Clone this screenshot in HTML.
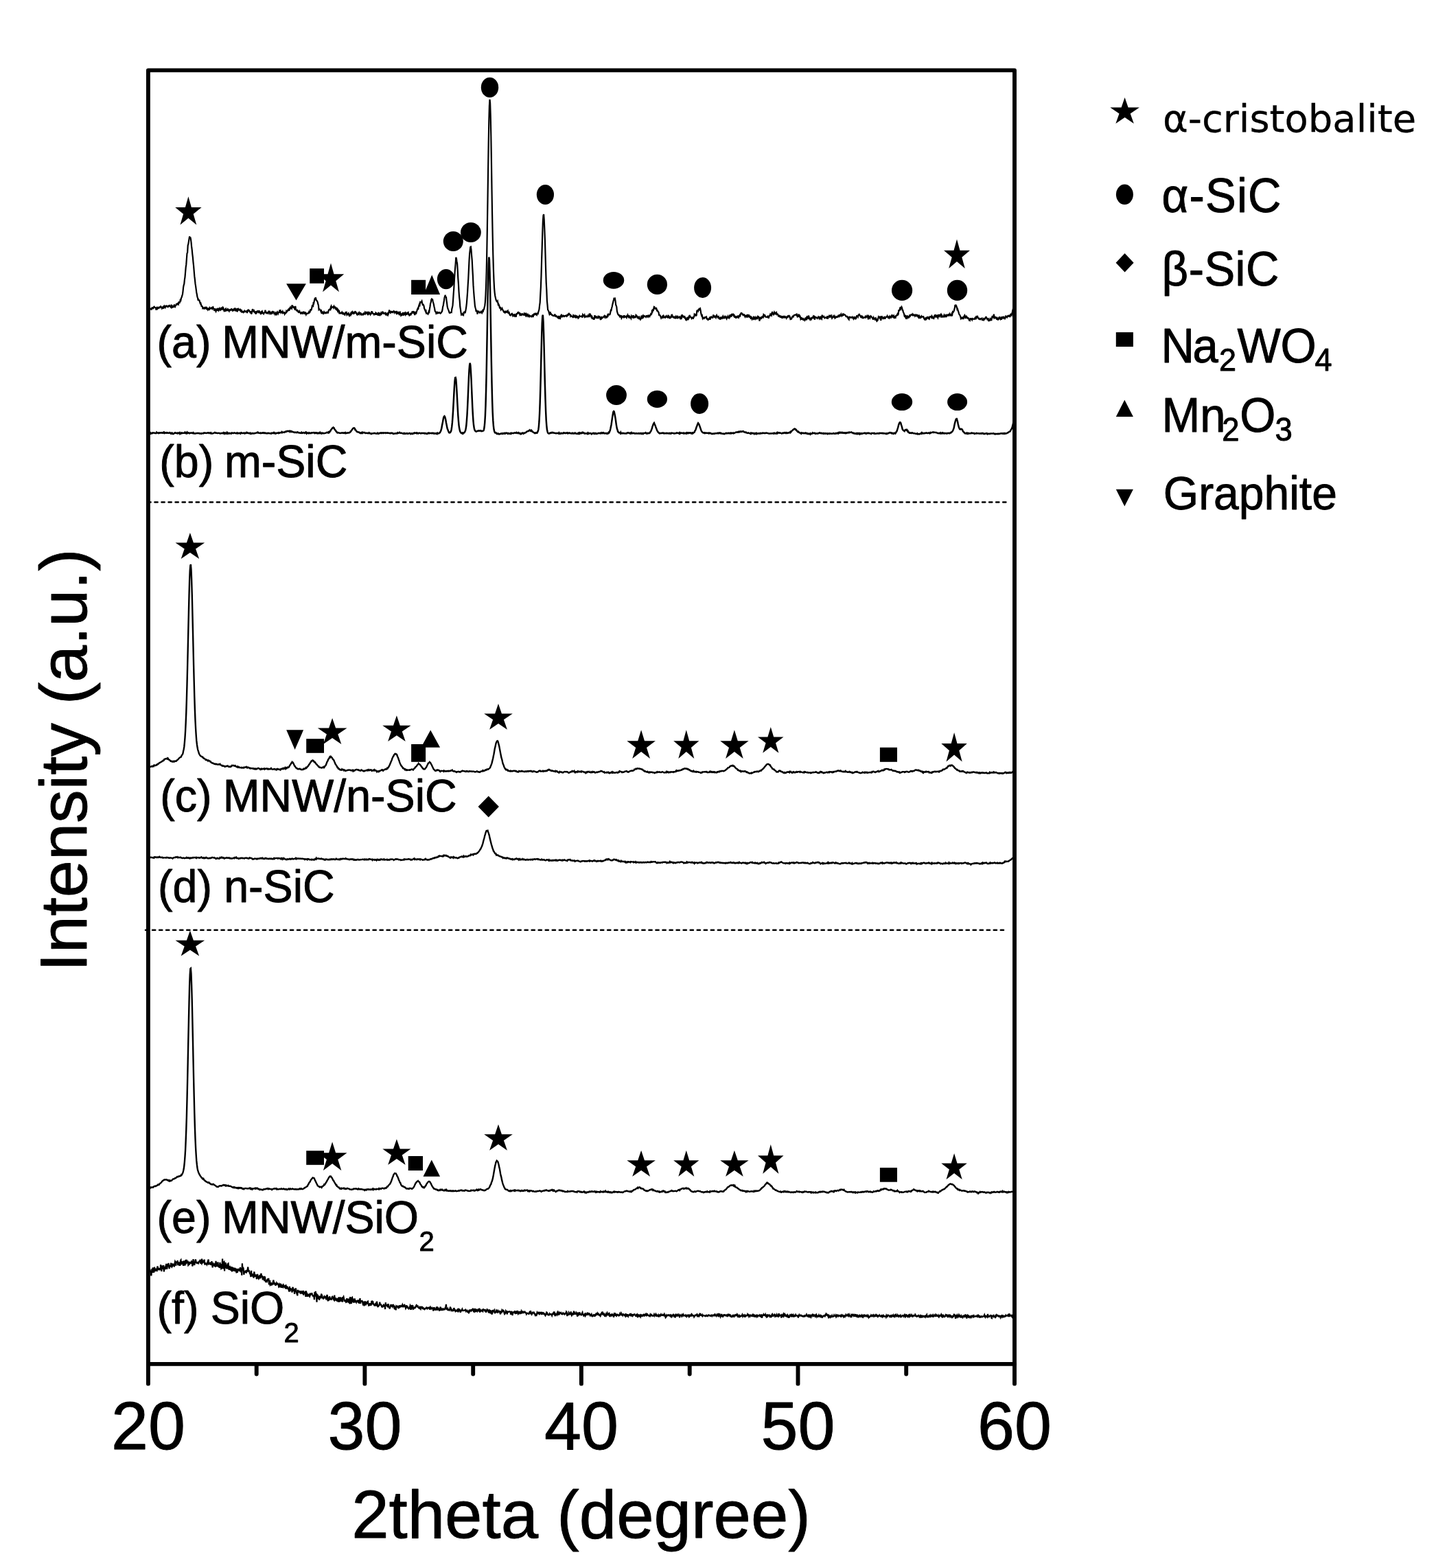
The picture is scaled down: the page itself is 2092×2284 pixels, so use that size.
<!DOCTYPE html>
<html lang="en">
<head>
<meta charset="utf-8">
<title>XRD patterns</title>
<style>
html,body{margin:0;padding:0;background:#fff;}
body{width:2092px;height:2284px;overflow:hidden;font-family:"Liberation Sans",sans-serif;}
svg{display:block;}
</style>
</head>
<body>
<svg width="2092" height="2284" viewBox="0 0 2092 2284" role="img" aria-label="XRD patterns">
<rect x="0" y="0" width="2092" height="2284" fill="#fff"/>
<line x1="215.40" y1="731.5" x2="1465.80" y2="731.5" stroke="#000" stroke-width="2.6" stroke-dasharray="4.17 5.877" stroke-linecap="round"/>
<line x1="212.00" y1="1354.7" x2="1462.00" y2="1354.7" stroke="#000" stroke-width="2.6" stroke-dasharray="4.17 5.877" stroke-linecap="round"/>
<g fill="none" stroke="#000" stroke-linejoin="miter" stroke-miterlimit="3" stroke-linecap="butt">
<path d="M216.1,447.2 216.7,449.2 217.3,449.6 217.9,447.6 218.5,450.2 219.1,448.9 219.7,451.3 220.3,449.5 220.9,451.2 221.5,448.2 222.1,448.1 222.7,448.5 223.3,449.1 223.9,448.3 224.5,445.9 225.1,447.8 225.7,448.0 226.3,448.0 226.9,448.3 227.5,451.6 228.1,448.9 228.7,448.1 229.3,449.6 229.9,448.6 230.5,448.0 231.1,448.7 231.7,447.9 232.3,447.5 232.9,448.1 233.5,447.3 234.1,446.4 234.7,447.2 235.3,447.6 235.9,449.1 236.5,448.0 237.1,447.4 237.7,449.8 238.3,447.7 238.9,446.4 239.5,448.7 240.1,446.8 240.7,447.9 241.3,446.4 241.9,445.6 242.5,445.5 243.1,446.5 243.7,446.8 244.3,446.1 244.9,446.7 245.5,445.0 246.1,446.7 246.7,444.2 247.3,445.9 247.9,446.6 248.5,446.9 249.1,447.6 249.7,443.7 250.3,446.9 250.9,447.8 251.5,447.5 252.1,444.9 252.7,446.3 253.3,447.9 253.9,443.5 254.5,445.9 255.1,446.6 255.7,444.2 256.3,445.6 256.9,443.0 257.5,442.9 258.1,442.4 258.7,443.2 259.3,442.4 259.9,443.2 260.5,440.2 261.1,440.4 261.7,440.8 262.3,439.2 262.9,435.7 263.5,436.8 264.1,433.9 264.7,433.1 265.3,430.7 265.9,429.1 266.5,424.6 267.1,418.6 267.7,415.3 268.3,413.5 268.9,407.3 269.5,403.6 270.1,396.6 270.7,389.3 271.3,385.4 271.9,376.8 272.5,369.0 273.1,368.1 273.7,357.5 274.3,355.7 274.9,352.0 275.5,348.2 276.1,344.3 276.7,347.5 277.3,345.5 277.9,348.1 278.5,352.9 279.1,358.9 279.7,363.6 280.3,370.1 280.9,374.9 281.5,381.8 282.1,387.3 282.7,394.9 283.3,402.2 283.9,406.9 284.5,413.2 285.1,416.9 285.7,421.3 286.3,426.0 286.9,429.0 287.5,432.7 288.1,434.2 288.7,437.7 289.3,436.5 289.9,437.6 290.5,437.6 291.1,440.0 291.7,441.9 292.3,441.4 292.9,443.5 293.5,445.8 294.1,445.8 294.7,446.3 295.3,448.8 295.9,448.1 296.5,448.7 297.1,449.7 297.7,449.7 298.3,447.9 298.9,447.9 299.5,449.1 300.1,448.8 300.7,446.8 301.3,451.0 301.9,449.6 302.5,450.8 303.1,448.7 303.7,452.0 304.3,449.8 304.9,450.4 305.5,448.5 306.1,449.6 306.7,449.0 307.3,448.6 307.9,449.1 308.5,448.4 309.1,449.5 309.7,447.7 310.3,447.3 310.9,448.9 311.5,450.4 312.1,451.9 312.7,452.0 313.3,449.3 313.9,452.2 314.5,453.5 315.1,451.6 315.7,450.6 316.3,451.4 316.9,450.2 317.5,451.4 318.1,450.5 318.7,452.1 319.3,451.0 319.9,449.5 320.5,451.2 321.1,451.7 321.7,449.8 322.3,450.0 322.9,447.6 323.5,451.5 324.1,449.6 324.7,447.8 325.3,448.6 325.9,450.9 326.5,452.6 327.1,451.8 327.7,452.5 328.3,450.2 328.9,449.6 329.5,452.2 330.1,451.7 330.7,451.2 331.3,452.9 331.9,450.2 332.5,450.7 333.1,452.2 333.7,453.1 334.3,450.7 334.9,452.9 335.5,450.2 336.1,451.6 336.7,451.1 337.3,449.3 337.9,451.6 338.5,452.4 339.1,451.0 339.7,451.2 340.3,453.1 340.9,449.9 341.5,449.6 342.1,450.8 342.7,450.1 343.3,453.3 343.9,451.9 344.5,450.3 345.1,450.3 345.7,454.3 346.3,449.8 346.9,449.6 347.5,451.0 348.1,451.7 348.7,451.5 349.3,450.5 349.9,450.5 350.5,453.0 351.1,452.5 351.7,450.8 352.3,454.7 352.9,454.7 353.5,453.8 354.1,454.1 354.7,454.9 355.3,453.8 355.9,453.0 356.5,455.0 357.1,452.7 357.7,454.8 358.3,452.4 358.9,453.9 359.5,453.7 360.1,456.0 360.7,452.3 361.3,451.7 361.9,452.5 362.5,451.8 363.1,452.4 363.7,453.8 364.3,454.5 364.9,456.0 365.5,453.2 366.1,457.4 366.7,456.2 367.3,453.1 367.9,450.1 368.5,452.8 369.1,453.3 369.7,450.9 370.3,454.5 370.9,454.8 371.5,454.4 372.1,456.4 372.7,456.7 373.3,454.6 373.9,455.2 374.5,453.7 375.1,453.2 375.7,454.1 376.3,454.8 376.9,453.8 377.5,452.2 378.1,456.2 378.7,453.7 379.3,456.0 379.9,458.0 380.5,455.5 381.1,453.8 381.7,453.3 382.3,456.7 382.9,455.4 383.5,456.5 384.1,457.2 384.7,455.9 385.3,455.5 385.9,454.5 386.5,451.8 387.1,453.8 387.7,455.8 388.3,455.6 388.9,456.2 389.5,455.3 390.1,455.5 390.7,456.2 391.3,454.0 391.9,454.6 392.5,452.8 393.1,456.0 393.7,454.9 394.3,455.7 394.9,457.1 395.5,456.5 396.1,454.9 396.7,455.7 397.3,452.9 397.9,455.3 398.5,455.4 399.1,453.7 399.7,458.0 400.3,455.8 400.9,457.7 401.5,456.3 402.1,458.0 402.7,458.3 403.3,455.5 403.9,454.5 404.5,456.1 405.1,457.1 405.7,455.4 406.3,454.7 406.9,455.7 407.5,451.3 408.1,453.8 408.7,452.9 409.3,455.2 409.9,454.2 410.5,454.0 411.1,455.1 411.7,453.8 412.3,455.7 412.9,455.0 413.5,455.5 414.1,455.3 414.7,457.3 415.3,455.9 415.9,456.3 416.5,455.7 417.1,453.4 417.7,454.4 418.3,453.4 418.9,452.8 419.5,451.3 420.1,450.7 420.7,451.6 421.3,452.6 421.9,448.1 422.5,449.2 423.1,447.7 423.7,448.9 424.3,448.4 424.9,449.2 425.5,444.3 426.1,447.0 426.7,446.5 427.3,447.7 427.9,447.1 428.5,447.5 429.1,449.4 429.7,451.3 430.3,445.9 430.9,449.9 431.5,451.7 432.1,452.3 432.7,452.7 433.3,451.9 433.9,452.6 434.5,454.6 435.1,455.0 435.7,454.0 436.3,453.2 436.9,455.0 437.5,455.2 438.1,456.7 438.7,456.4 439.3,455.4 439.9,456.2 440.5,454.2 441.1,456.4 441.7,456.6 442.3,453.6 442.9,455.7 443.5,454.1 444.1,457.0 444.7,457.2 445.3,456.2 445.9,458.1 446.5,456.6 447.1,456.5 447.7,456.6 448.3,456.8 448.9,456.1 449.5,456.1 450.1,454.4 450.7,455.4 451.3,455.0 451.9,452.3 452.5,450.2 453.1,451.8 453.7,451.1 454.3,448.2 454.9,445.5 455.5,446.0 456.1,446.1 456.7,440.1 457.3,441.1 457.9,438.1 458.5,435.7 459.1,436.0 459.7,433.1 460.3,435.2 460.9,437.5 461.5,437.8 462.1,438.7 462.7,440.0 463.3,443.0 463.9,444.6 464.5,450.9 465.1,450.2 465.7,450.5 466.3,451.1 466.9,452.2 467.5,453.7 468.1,452.9 468.7,457.0 469.3,454.2 469.9,454.3 470.5,455.7 471.1,457.1 471.7,456.8 472.3,454.5 472.9,455.4 473.5,455.4 474.1,456.2 474.7,456.3 475.3,455.0 475.9,454.7 476.5,456.3 477.1,454.1 477.7,456.6 478.3,454.0 478.9,451.7 479.5,451.7 480.1,450.6 480.7,450.3 481.3,450.9 481.9,447.1 482.5,445.9 483.1,448.1 483.7,447.1 484.3,447.3 484.9,447.6 485.5,446.9 486.1,448.2 486.7,446.4 487.3,447.9 487.9,447.3 488.5,447.4 489.1,450.2 489.7,450.7 490.3,448.0 490.9,449.5 491.5,451.8 492.1,453.3 492.7,451.6 493.3,452.8 493.9,451.8 494.5,457.3 495.1,455.3 495.7,456.2 496.3,456.1 496.9,456.4 497.5,455.9 498.1,454.8 498.7,456.4 499.3,456.0 499.9,458.1 500.5,456.1 501.1,456.6 501.7,458.1 502.3,458.6 502.9,456.7 503.5,455.1 504.1,455.5 504.7,455.0 505.3,458.1 505.9,457.1 506.5,457.9 507.1,457.0 507.7,456.3 508.3,458.8 508.9,459.8 509.5,458.5 510.1,457.7 510.7,458.7 511.3,456.3 511.9,457.1 512.5,454.8 513.1,454.1 513.7,455.8 514.3,455.6 514.9,457.7 515.5,455.3 516.1,456.0 516.7,454.7 517.3,453.9 517.9,454.0 518.5,456.8 519.1,454.8 519.7,457.8 520.3,458.4 520.9,456.4 521.5,458.8 522.1,456.7 522.7,457.6 523.3,455.8 523.9,457.3 524.5,455.1 525.1,457.4 525.7,456.4 526.3,457.1 526.9,458.4 527.5,457.9 528.1,457.6 528.7,458.5 529.3,458.4 529.9,455.4 530.5,457.5 531.1,457.3 531.7,455.2 532.3,456.4 532.9,454.0 533.5,457.3 534.1,455.0 534.7,455.2 535.3,457.0 535.9,455.7 536.5,457.1 537.1,455.6 537.7,456.7 538.3,455.8 538.9,457.1 539.5,458.2 540.1,456.6 540.7,456.8 541.3,454.0 541.9,454.0 542.5,454.8 543.1,456.6 543.7,457.0 544.3,457.1 544.9,458.2 545.5,457.2 546.1,457.1 546.7,458.5 547.3,455.9 547.9,456.8 548.5,458.6 549.1,456.9 549.7,457.8 550.3,456.4 550.9,459.8 551.5,454.8 552.1,456.4 552.7,456.6 553.3,460.0 553.9,458.4 554.5,457.6 555.1,456.0 555.7,457.7 556.3,457.0 556.9,455.7 557.5,454.5 558.1,455.0 558.7,456.7 559.3,456.9 559.9,456.7 560.5,456.6 561.1,454.9 561.7,457.6 562.3,456.7 562.9,458.2 563.5,458.8 564.1,457.2 564.7,456.4 565.3,458.5 565.9,457.1 566.5,455.1 567.1,451.5 567.7,454.7 568.3,455.3 568.9,455.8 569.5,453.7 570.1,453.8 570.7,454.1 571.3,455.7 571.9,453.2 572.5,454.6 573.1,453.7 573.7,455.2 574.3,452.9 574.9,455.2 575.5,454.0 576.1,454.2 576.7,455.2 577.3,456.2 577.9,452.9 578.5,456.6 579.1,456.4 579.7,455.6 580.3,457.8 580.9,456.1 581.5,457.3 582.1,454.8 582.7,454.5 583.3,457.4 583.9,459.1 584.5,457.9 585.1,458.8 585.7,457.5 586.3,456.5 586.9,457.8 587.5,459.6 588.1,455.2 588.7,456.7 589.3,454.9 589.9,457.5 590.5,458.4 591.1,455.7 591.7,456.6 592.3,458.7 592.9,457.0 593.5,455.7 594.1,455.9 594.7,455.3 595.3,459.0 595.9,457.2 596.5,459.5 597.1,459.1 597.7,456.9 598.3,456.6 598.9,457.7 599.5,456.2 600.1,455.9 600.7,453.2 601.3,456.4 601.9,454.5 602.5,453.2 603.1,455.6 603.7,457.1 604.3,459.0 604.9,455.6 605.5,453.9 606.1,457.6 606.7,454.5 607.3,453.1 607.9,451.0 608.5,449.7 609.1,451.2 609.7,447.3 610.3,445.1 610.9,443.4 611.5,444.4 612.1,440.4 612.7,440.9 613.3,439.9 613.9,439.7 614.5,438.6 615.1,441.4 615.7,443.8 616.3,443.4 616.9,444.1 617.5,445.6 618.1,449.3 618.7,450.5 619.3,452.2 619.9,453.6 620.5,452.8 621.1,456.4 621.7,456.3 622.3,456.3 622.9,456.9 623.5,457.5 624.1,455.8 624.7,453.6 625.3,454.3 625.9,449.8 626.5,446.5 627.1,442.1 627.7,440.8 628.3,436.7 628.9,435.5 629.5,436.1 630.1,436.2 630.7,439.3 631.3,441.2 631.9,443.5 632.5,446.8 633.1,449.3 633.7,453.0 634.3,453.9 634.9,454.4 635.5,456.7 636.1,456.1 636.7,455.5 637.3,454.0 637.9,456.2 638.5,455.9 639.1,455.7 639.7,455.3 640.3,455.1 640.9,456.0 641.5,456.6 642.1,456.1 642.7,455.6 643.3,454.3 643.9,453.8 644.5,451.3 645.1,447.0 645.7,445.3 646.3,441.5 646.9,438.0 647.5,433.7 648.1,431.6 648.7,429.8 649.3,433.1 649.9,432.0 650.5,437.6 651.1,441.6 651.7,446.9 652.3,449.2 652.9,450.6 653.5,451.9 654.1,454.0 654.7,455.6 655.3,455.9 655.9,455.7 656.5,454.9 657.1,454.8 657.7,455.0 658.3,450.0 658.9,447.9 659.5,444.9 660.1,437.0 660.7,427.7 661.3,419.5 661.9,407.4 662.5,398.0 663.1,390.6 663.7,383.6 664.3,374.7 664.9,376.7 665.5,381.0 666.1,384.0 666.7,393.6 667.3,405.3 667.9,413.4 668.5,424.7 669.1,433.0 669.7,438.1 670.3,446.8 670.9,450.5 671.5,455.0 672.1,458.5 672.7,458.0 673.3,457.3 673.9,458.5 674.5,458.0 675.1,458.7 675.7,455.2 676.3,455.2 676.9,453.6 677.5,456.1 678.1,453.8 678.7,450.5 679.3,446.6 679.9,441.3 680.5,433.7 681.1,425.6 681.7,415.0 682.3,405.8 682.9,392.6 683.5,379.7 684.1,370.0 684.7,364.8 685.3,359.8 685.9,359.5 686.5,363.9 687.1,372.3 687.7,378.8 688.3,390.8 688.9,401.4 689.5,415.4 690.1,424.2 690.7,432.2 691.3,438.7 691.9,445.6 692.5,448.3 693.1,450.3 693.7,454.2 694.3,452.3 694.9,452.5 695.5,457.6 696.1,454.0 696.7,453.8 697.3,453.5 697.9,454.3 698.5,455.5 699.1,455.6 699.7,455.5 700.3,454.6 700.9,452.9 701.5,454.8 702.1,455.8 702.7,454.5 703.3,452.3 703.9,453.0 704.5,451.0 705.1,450.5 705.7,447.4 706.3,445.2 706.9,439.8 707.5,429.5 708.1,415.5 708.7,395.4 709.3,366.5 709.9,329.8 710.5,289.9 711.1,248.6 711.7,208.7 712.3,176.8 712.9,154.5 713.5,144.9 714.1,150.2 714.7,169.1 715.3,198.5 715.9,234.2 716.5,276.3 717.1,313.0 717.7,343.9 718.3,371.2 718.9,392.6 719.5,408.5 720.1,420.2 720.7,426.6 721.3,431.0 721.9,434.1 722.5,436.5 723.1,438.0 723.7,439.2 724.3,439.8 724.9,438.8 725.5,441.9 726.1,445.4 726.7,443.8 727.3,445.0 727.9,448.3 728.5,448.1 729.1,448.0 729.7,451.0 730.3,450.1 730.9,450.5 731.5,449.3 732.1,451.2 732.7,451.7 733.3,453.0 733.9,454.3 734.5,454.9 735.1,454.2 735.7,455.1 736.3,452.8 736.9,455.0 737.5,455.0 738.1,453.7 738.7,453.3 739.3,454.4 739.9,453.2 740.5,455.6 741.1,456.1 741.7,455.3 742.3,457.3 742.9,459.1 743.5,459.5 744.1,459.5 744.7,457.8 745.3,457.2 745.9,456.8 746.5,457.8 747.1,460.0 747.7,459.2 748.3,460.0 748.9,460.4 749.5,457.3 750.1,459.4 750.7,459.1 751.3,460.9 751.9,460.8 752.5,457.1 753.1,457.1 753.7,457.0 754.3,455.2 754.9,454.8 755.5,454.8 756.1,457.1 756.7,455.3 757.3,458.3 757.9,457.4 758.5,458.6 759.1,459.9 759.7,457.4 760.3,457.5 760.9,459.2 761.5,457.5 762.1,457.9 762.7,458.6 763.3,458.8 763.9,456.7 764.5,457.5 765.1,458.5 765.7,459.5 766.3,455.7 766.9,460.3 767.5,460.2 768.1,458.1 768.7,457.8 769.3,460.1 769.9,459.1 770.5,459.9 771.1,461.0 771.7,459.6 772.3,460.2 772.9,460.4 773.5,460.6 774.1,461.4 774.7,461.2 775.3,459.5 775.9,459.0 776.5,462.1 777.1,459.6 777.7,458.9 778.3,456.6 778.9,458.8 779.5,457.1 780.1,457.8 780.7,457.1 781.3,458.2 781.9,458.8 782.5,456.6 783.1,456.8 783.7,457.1 784.3,454.4 784.9,452.6 785.5,450.2 786.1,444.9 786.7,440.6 787.3,428.8 787.9,417.9 788.5,401.4 789.1,379.3 789.7,360.0 790.3,339.5 790.9,322.7 791.5,313.9 792.1,312.1 792.7,319.7 793.3,333.5 793.9,349.1 794.5,370.6 795.1,392.2 795.7,411.4 796.3,422.0 796.9,438.0 797.5,444.1 798.1,451.4 798.7,452.1 799.3,453.4 799.9,455.6 800.5,457.7 801.1,456.7 801.7,454.2 802.3,458.7 802.9,456.7 803.5,458.4 804.1,459.0 804.7,458.8 805.3,459.7 805.9,459.8 806.5,459.9 807.1,460.1 807.7,459.4 808.3,457.7 808.9,459.4 809.5,460.9 810.1,461.1 810.7,460.3 811.3,461.1 811.9,461.7 812.5,462.6 813.1,463.2 813.7,460.9 814.3,461.1 814.9,463.5 815.5,463.9 816.1,464.1 816.7,459.3 817.3,461.8 817.9,457.7 818.5,462.2 819.1,460.9 819.7,460.4 820.3,459.9 820.9,461.4 821.5,459.3 822.1,460.8 822.7,460.2 823.3,460.1 823.9,460.3 824.5,460.1 825.1,458.6 825.7,460.7 826.3,460.3 826.9,458.6 827.5,459.0 828.1,458.8 828.7,455.9 829.3,457.7 829.9,458.0 830.5,458.2 831.1,460.4 831.7,459.4 832.3,460.1 832.9,460.8 833.5,460.8 834.1,460.7 834.7,463.1 835.3,459.7 835.9,460.6 836.5,458.8 837.1,461.0 837.7,462.0 838.3,462.3 838.9,460.2 839.5,460.9 840.1,463.0 840.7,461.5 841.3,463.0 841.9,460.5 842.5,463.3 843.1,462.7 843.7,461.7 844.3,460.0 844.9,460.7 845.5,461.0 846.1,461.1 846.7,460.6 847.3,460.4 847.9,461.0 848.5,462.5 849.1,458.3 849.7,459.1 850.3,459.0 850.9,460.1 851.5,459.0 852.1,462.0 852.7,461.6 853.3,461.1 853.9,460.5 854.5,461.4 855.1,461.3 855.7,461.4 856.3,460.1 856.9,461.8 857.5,459.0 858.1,462.1 858.7,456.5 859.3,459.3 859.9,458.5 860.5,461.2 861.1,458.7 861.7,463.4 862.3,459.8 862.9,464.9 863.5,463.4 864.1,463.2 864.7,463.6 865.3,465.6 865.9,463.5 866.5,459.2 867.1,463.3 867.7,462.2 868.3,460.2 868.9,463.6 869.5,461.4 870.1,463.2 870.7,462.9 871.3,461.3 871.9,462.4 872.5,460.2 873.1,462.0 873.7,461.7 874.3,462.9 874.9,466.0 875.5,464.1 876.1,462.5 876.7,463.5 877.3,462.3 877.9,462.8 878.5,462.4 879.1,461.7 879.7,461.3 880.3,460.3 880.9,461.6 881.5,462.5 882.1,460.6 882.7,461.3 883.3,461.3 883.9,462.5 884.5,462.0 885.1,459.3 885.7,460.0 886.3,457.6 886.9,457.8 887.5,458.5 888.1,458.5 888.7,457.8 889.3,454.8 889.9,451.8 890.5,451.9 891.1,448.8 891.7,446.8 892.3,443.6 892.9,441.4 893.5,438.5 894.1,436.6 894.7,433.8 895.3,435.7 895.9,435.1 896.5,438.2 897.1,443.7 897.7,445.3 898.3,447.0 898.9,453.4 899.5,455.4 900.1,457.6 900.7,458.0 901.3,459.3 901.9,459.4 902.5,459.3 903.1,462.4 903.7,460.2 904.3,460.2 904.9,460.3 905.5,463.3 906.1,462.2 906.7,460.8 907.3,461.2 907.9,461.8 908.5,462.3 909.1,459.2 909.7,462.6 910.3,461.3 910.9,460.7 911.5,460.9 912.1,461.9 912.7,462.7 913.3,460.3 913.9,460.7 914.5,459.1 915.1,460.9 915.7,461.7 916.3,459.3 916.9,461.1 917.5,463.4 918.1,460.7 918.7,462.6 919.3,463.7 919.9,460.5 920.5,461.6 921.1,461.5 921.7,462.1 922.3,459.1 922.9,462.0 923.5,461.1 924.1,462.4 924.7,462.5 925.3,461.5 925.9,461.7 926.5,458.9 927.1,459.5 927.7,460.2 928.3,461.5 928.9,463.7 929.5,460.8 930.1,462.9 930.7,461.9 931.3,461.6 931.9,465.4 932.5,463.5 933.1,465.2 933.7,464.3 934.3,461.2 934.9,459.6 935.5,464.2 936.1,460.8 936.7,459.8 937.3,462.0 937.9,461.2 938.5,460.1 939.1,460.4 939.7,461.0 940.3,460.9 940.9,461.7 941.5,460.2 942.1,460.0 942.7,461.0 943.3,460.5 943.9,461.4 944.5,459.8 945.1,460.1 945.7,458.9 946.3,462.2 946.9,458.3 947.5,459.7 948.1,457.4 948.7,457.9 949.3,457.3 949.9,453.1 950.5,453.7 951.1,450.5 951.7,453.1 952.3,449.5 952.9,446.9 953.5,447.2 954.1,449.4 954.7,449.6 955.3,449.8 955.9,448.1 956.5,449.9 957.1,453.3 957.7,451.7 958.3,453.6 958.9,454.1 959.5,454.9 960.1,458.7 960.7,458.6 961.3,459.1 961.9,460.1 962.5,461.6 963.1,463.1 963.7,461.8 964.3,461.7 964.9,461.0 965.5,463.7 966.1,461.6 966.7,460.3 967.3,461.7 967.9,461.9 968.5,462.7 969.1,462.8 969.7,460.6 970.3,460.6 970.9,461.4 971.5,460.4 972.1,461.8 972.7,462.5 973.3,462.0 973.9,460.0 974.5,460.6 975.1,463.9 975.7,461.1 976.3,463.2 976.9,462.8 977.5,461.1 978.1,459.7 978.7,460.9 979.3,459.5 979.9,460.9 980.5,462.0 981.1,461.7 981.7,462.8 982.3,462.9 982.9,461.9 983.5,463.2 984.1,462.7 984.7,461.3 985.3,463.2 985.9,463.0 986.5,462.2 987.1,459.9 987.7,463.1 988.3,462.7 988.9,462.7 989.5,462.4 990.1,460.7 990.7,462.7 991.3,461.5 991.9,465.2 992.5,461.4 993.1,462.4 993.7,459.1 994.3,459.4 994.9,460.2 995.5,462.0 996.1,462.2 996.7,462.3 997.3,460.1 997.9,464.3 998.5,462.1 999.1,465.7 999.7,466.2 1000.3,465.0 1000.9,465.1 1001.5,462.0 1002.1,466.4 1002.7,463.0 1003.3,463.6 1003.9,461.0 1004.5,461.8 1005.1,460.3 1005.7,461.4 1006.3,461.8 1006.9,462.2 1007.5,463.8 1008.1,462.8 1008.7,462.6 1009.3,462.3 1009.9,464.6 1010.5,460.9 1011.1,462.4 1011.7,457.7 1012.3,458.2 1012.9,458.9 1013.5,457.2 1014.1,460.3 1014.7,458.9 1015.3,452.7 1015.9,452.1 1016.5,451.9 1017.1,453.1 1017.7,451.6 1018.3,450.5 1018.9,448.8 1019.5,450.6 1020.1,449.7 1020.7,452.7 1021.3,456.8 1021.9,458.9 1022.5,457.7 1023.1,460.8 1023.7,463.8 1024.3,462.8 1024.9,462.7 1025.5,463.9 1026.1,463.6 1026.7,462.8 1027.3,461.8 1027.9,461.8 1028.5,462.5 1029.1,461.8 1029.7,464.4 1030.3,464.1 1030.9,464.5 1031.5,465.8 1032.1,465.2 1032.7,464.9 1033.3,463.5 1033.9,462.8 1034.5,465.9 1035.1,462.2 1035.7,462.2 1036.3,461.6 1036.9,462.6 1037.5,462.5 1038.1,462.8 1038.7,460.8 1039.3,458.6 1039.9,460.9 1040.5,461.7 1041.1,460.6 1041.7,460.5 1042.3,461.5 1042.9,462.7 1043.5,460.9 1044.1,459.4 1044.7,460.8 1045.3,461.7 1045.9,460.1 1046.5,463.8 1047.1,462.3 1047.7,464.2 1048.3,464.0 1048.9,463.3 1049.5,465.6 1050.1,462.7 1050.7,462.3 1051.3,463.3 1051.9,463.8 1052.5,462.5 1053.1,461.0 1053.7,462.8 1054.3,462.4 1054.9,464.2 1055.5,461.5 1056.1,462.4 1056.7,462.0 1057.3,461.3 1057.9,463.5 1058.5,464.4 1059.1,461.9 1059.7,462.0 1060.3,460.9 1060.9,463.7 1061.5,461.0 1062.1,462.5 1062.7,460.7 1063.3,461.9 1063.9,460.8 1064.5,458.1 1065.1,460.6 1065.7,460.6 1066.3,456.9 1066.9,459.0 1067.5,458.7 1068.1,458.0 1068.7,459.4 1069.3,457.8 1069.9,461.1 1070.5,462.7 1071.1,460.0 1071.7,461.8 1072.3,463.7 1072.9,462.1 1073.5,461.2 1074.1,460.7 1074.7,462.0 1075.3,461.5 1075.9,462.3 1076.5,459.2 1077.1,461.9 1077.7,459.3 1078.3,459.9 1078.9,457.6 1079.5,456.4 1080.1,457.0 1080.7,456.3 1081.3,456.9 1081.9,458.2 1082.5,459.0 1083.1,458.4 1083.7,458.1 1084.3,458.7 1084.9,460.5 1085.5,461.5 1086.1,459.9 1086.7,460.3 1087.3,459.8 1087.9,461.3 1088.5,462.5 1089.1,457.8 1089.7,461.6 1090.3,460.4 1090.9,458.1 1091.5,461.4 1092.1,461.0 1092.7,461.9 1093.3,460.0 1093.9,464.8 1094.5,462.6 1095.1,462.3 1095.7,464.8 1096.3,463.8 1096.9,464.1 1097.5,464.6 1098.1,460.7 1098.7,465.4 1099.3,462.9 1099.9,463.7 1100.5,464.5 1101.1,462.4 1101.7,463.6 1102.3,464.1 1102.9,462.9 1103.5,463.5 1104.1,460.9 1104.7,461.4 1105.3,461.5 1105.9,463.5 1106.5,467.7 1107.1,463.3 1107.7,462.7 1108.3,462.7 1108.9,463.9 1109.5,463.4 1110.1,460.8 1110.7,463.1 1111.3,461.3 1111.9,461.9 1112.5,458.0 1113.1,458.5 1113.7,461.2 1114.3,458.5 1114.9,461.5 1115.5,461.7 1116.1,461.6 1116.7,461.9 1117.3,461.8 1117.9,461.9 1118.5,460.5 1119.1,460.6 1119.7,463.8 1120.3,461.2 1120.9,460.2 1121.5,459.6 1122.1,458.0 1122.7,458.9 1123.3,457.9 1123.9,459.0 1124.5,456.2 1125.1,454.0 1125.7,455.9 1126.3,457.2 1126.9,459.2 1127.5,457.4 1128.1,455.1 1128.7,456.4 1129.3,455.8 1129.9,457.1 1130.5,456.4 1131.1,455.5 1131.7,458.1 1132.3,457.8 1132.9,457.6 1133.5,458.6 1134.1,461.3 1134.7,459.6 1135.3,459.7 1135.9,461.9 1136.5,459.4 1137.1,462.8 1137.7,461.1 1138.3,461.0 1138.9,462.0 1139.5,463.6 1140.1,460.3 1140.7,462.3 1141.3,461.8 1141.9,460.0 1142.5,463.3 1143.1,461.6 1143.7,461.1 1144.3,462.0 1144.9,461.8 1145.5,463.1 1146.1,460.9 1146.7,463.2 1147.3,461.3 1147.9,460.2 1148.5,460.3 1149.1,462.2 1149.7,460.0 1150.3,460.4 1150.9,462.6 1151.5,465.1 1152.1,464.9 1152.7,464.7 1153.3,464.1 1153.9,461.1 1154.5,462.6 1155.1,459.8 1155.7,462.1 1156.3,460.0 1156.9,459.0 1157.5,459.0 1158.1,458.5 1158.7,458.5 1159.3,458.9 1159.9,458.2 1160.5,457.7 1161.1,459.9 1161.7,461.3 1162.3,460.6 1162.9,459.1 1163.5,460.3 1164.1,459.3 1164.7,460.9 1165.3,460.3 1165.9,461.8 1166.5,464.8 1167.1,464.0 1167.7,465.6 1168.3,463.4 1168.9,463.9 1169.5,464.9 1170.1,465.7 1170.7,464.7 1171.3,466.3 1171.9,464.3 1172.5,466.5 1173.1,465.6 1173.7,462.5 1174.3,464.2 1174.9,462.8 1175.5,464.1 1176.1,462.1 1176.7,463.2 1177.3,463.6 1177.9,459.7 1178.5,461.2 1179.1,464.1 1179.7,464.0 1180.3,465.6 1180.9,464.6 1181.5,462.6 1182.1,464.4 1182.7,462.8 1183.3,463.0 1183.9,462.2 1184.5,462.9 1185.1,460.5 1185.7,461.0 1186.3,459.9 1186.9,465.7 1187.5,462.0 1188.1,462.3 1188.7,461.9 1189.3,462.6 1189.9,462.7 1190.5,463.8 1191.1,463.0 1191.7,462.8 1192.3,461.4 1192.9,462.0 1193.5,463.8 1194.1,462.6 1194.7,463.4 1195.3,460.7 1195.9,463.9 1196.5,463.3 1197.1,464.2 1197.7,458.7 1198.3,461.8 1198.9,461.4 1199.5,461.7 1200.1,461.0 1200.7,462.3 1201.3,463.3 1201.9,462.7 1202.5,462.5 1203.1,462.8 1203.7,462.6 1204.3,463.2 1204.9,462.2 1205.5,460.4 1206.1,464.5 1206.7,460.4 1207.3,462.2 1207.9,460.5 1208.5,461.4 1209.1,460.2 1209.7,461.1 1210.3,460.0 1210.9,459.5 1211.5,461.8 1212.1,463.4 1212.7,462.4 1213.3,462.1 1213.9,460.5 1214.5,461.5 1215.1,462.0 1215.7,460.7 1216.3,462.9 1216.9,461.9 1217.5,462.6 1218.1,461.5 1218.7,461.3 1219.3,461.9 1219.9,461.9 1220.5,461.7 1221.1,459.9 1221.7,460.1 1222.3,460.7 1222.9,457.9 1223.5,461.1 1224.1,459.7 1224.7,459.0 1225.3,457.7 1225.9,459.5 1226.5,457.9 1227.1,460.6 1227.7,458.7 1228.3,456.5 1228.9,459.5 1229.5,458.0 1230.1,458.1 1230.7,458.5 1231.3,458.8 1231.9,459.7 1232.5,461.0 1233.1,461.4 1233.7,460.8 1234.3,460.8 1234.9,462.1 1235.5,463.9 1236.1,464.5 1236.7,465.3 1237.3,461.0 1237.9,462.4 1238.5,462.0 1239.1,461.9 1239.7,462.8 1240.3,462.5 1240.9,462.4 1241.5,461.7 1242.1,462.8 1242.7,463.6 1243.3,464.4 1243.9,462.0 1244.5,461.8 1245.1,463.3 1245.7,462.9 1246.3,465.3 1246.9,462.7 1247.5,463.0 1248.1,460.3 1248.7,460.5 1249.3,460.3 1249.9,461.4 1250.5,458.4 1251.1,459.8 1251.7,457.1 1252.3,458.7 1252.9,459.7 1253.5,460.5 1254.1,461.9 1254.7,462.3 1255.3,459.6 1255.9,462.3 1256.5,460.3 1257.1,464.2 1257.7,462.6 1258.3,462.6 1258.9,462.4 1259.5,462.6 1260.1,462.4 1260.7,461.0 1261.3,462.2 1261.9,461.1 1262.5,461.4 1263.1,460.2 1263.7,461.3 1264.3,459.7 1264.9,465.4 1265.5,460.3 1266.1,461.0 1266.7,463.0 1267.3,463.6 1267.9,461.2 1268.5,460.3 1269.1,460.9 1269.7,461.7 1270.3,462.2 1270.9,463.2 1271.5,464.7 1272.1,464.8 1272.7,462.6 1273.3,463.9 1273.9,464.4 1274.5,465.2 1275.1,463.5 1275.7,463.2 1276.3,465.5 1276.9,466.7 1277.5,464.1 1278.1,467.0 1278.7,466.4 1279.3,463.5 1279.9,461.5 1280.5,462.3 1281.1,462.3 1281.7,463.3 1282.3,460.6 1282.9,465.9 1283.5,465.9 1284.1,462.0 1284.7,460.4 1285.3,462.3 1285.9,462.9 1286.5,464.1 1287.1,463.6 1287.7,462.9 1288.3,461.0 1288.9,464.0 1289.5,464.0 1290.1,462.0 1290.7,462.2 1291.3,461.8 1291.9,461.3 1292.5,460.3 1293.1,462.5 1293.7,460.4 1294.3,464.0 1294.9,461.0 1295.5,462.6 1296.1,461.0 1296.7,462.3 1297.3,461.6 1297.9,462.4 1298.5,460.8 1299.1,459.7 1299.7,461.4 1300.3,461.5 1300.9,460.2 1301.5,461.4 1302.1,460.2 1302.7,462.3 1303.3,461.3 1303.9,461.1 1304.5,463.7 1305.1,460.0 1305.7,459.8 1306.3,459.7 1306.9,458.4 1307.5,457.3 1308.1,458.4 1308.7,457.5 1309.3,451.3 1309.9,453.2 1310.5,451.3 1311.1,449.3 1311.7,450.2 1312.3,447.0 1312.9,448.4 1313.5,447.1 1314.1,448.5 1314.7,451.8 1315.3,452.1 1315.9,454.9 1316.5,455.7 1317.1,457.5 1317.7,460.7 1318.3,461.3 1318.9,459.7 1319.5,460.1 1320.1,464.9 1320.7,461.0 1321.3,460.6 1321.9,462.4 1322.5,460.8 1323.1,461.3 1323.7,462.7 1324.3,462.5 1324.9,460.4 1325.5,461.7 1326.1,459.2 1326.7,458.6 1327.3,458.6 1327.9,458.1 1328.5,459.1 1329.1,458.9 1329.7,457.8 1330.3,459.2 1330.9,458.5 1331.5,458.6 1332.1,459.0 1332.7,460.2 1333.3,458.9 1333.9,459.8 1334.5,460.2 1335.1,458.5 1335.7,458.5 1336.3,459.0 1336.9,460.8 1337.5,461.7 1338.1,462.4 1338.7,458.6 1339.3,461.2 1339.9,461.6 1340.5,463.9 1341.1,461.7 1341.7,462.1 1342.3,460.6 1342.9,461.6 1343.5,461.1 1344.1,461.3 1344.7,461.7 1345.3,461.4 1345.9,463.6 1346.5,464.6 1347.1,465.3 1347.7,464.2 1348.3,465.6 1348.9,465.5 1349.5,462.1 1350.1,463.4 1350.7,462.0 1351.3,462.1 1351.9,463.3 1352.5,462.6 1353.1,464.2 1353.7,464.6 1354.3,462.2 1354.9,461.1 1355.5,461.1 1356.1,461.2 1356.7,462.1 1357.3,460.7 1357.9,462.5 1358.5,461.7 1359.1,463.4 1359.7,463.7 1360.3,464.0 1360.9,461.3 1361.5,459.6 1362.1,459.1 1362.7,460.8 1363.3,459.5 1363.9,459.4 1364.5,461.0 1365.1,460.1 1365.7,461.8 1366.3,462.9 1366.9,459.8 1367.5,460.3 1368.1,458.0 1368.7,460.4 1369.3,459.5 1369.9,459.1 1370.5,458.2 1371.1,462.6 1371.7,458.8 1372.3,459.6 1372.9,461.3 1373.5,461.7 1374.1,461.4 1374.7,460.8 1375.3,459.2 1375.9,461.0 1376.5,460.2 1377.1,458.2 1377.7,462.2 1378.3,459.9 1378.9,461.7 1379.5,458.6 1380.1,458.7 1380.7,459.1 1381.3,458.6 1381.9,460.5 1382.5,457.0 1383.1,459.1 1383.7,457.5 1384.3,459.3 1384.9,458.7 1385.5,457.4 1386.1,460.5 1386.7,457.2 1387.3,458.1 1387.9,454.4 1388.5,455.1 1389.1,454.3 1389.7,452.9 1390.3,450.6 1390.9,448.3 1391.5,443.8 1392.1,445.8 1392.7,444.8 1393.3,445.7 1393.9,447.8 1394.5,450.7 1395.1,450.2 1395.7,452.7 1396.3,454.2 1396.9,456.3 1397.5,458.1 1398.1,458.6 1398.7,459.9 1399.3,461.6 1399.9,464.1 1400.5,463.4 1401.1,464.8 1401.7,461.6 1402.3,463.8 1402.9,464.1 1403.5,464.1 1404.1,461.3 1404.7,460.2 1405.3,459.3 1405.9,461.0 1406.5,464.1 1407.1,461.4 1407.7,459.8 1408.3,462.3 1408.9,462.2 1409.5,463.7 1410.1,463.7 1410.7,463.3 1411.3,464.6 1411.9,466.2 1412.5,465.5 1413.1,466.3 1413.7,463.2 1414.3,465.6 1414.9,464.3 1415.5,464.5 1416.1,465.8 1416.7,464.1 1417.3,464.4 1417.9,464.7 1418.5,464.5 1419.1,464.4 1419.7,464.7 1420.3,463.4 1420.9,461.8 1421.5,465.2 1422.1,462.0 1422.7,462.7 1423.3,461.5 1423.9,460.0 1424.5,462.1 1425.1,463.4 1425.7,464.2 1426.3,463.8 1426.9,464.9 1427.5,465.3 1428.1,465.4 1428.7,464.3 1429.3,464.4 1429.9,464.2 1430.5,463.7 1431.1,467.0 1431.7,464.1 1432.3,465.8 1432.9,466.2 1433.5,462.9 1434.1,466.0 1434.7,463.9 1435.3,464.0 1435.9,462.7 1436.5,461.0 1437.1,463.2 1437.7,463.5 1438.3,465.3 1438.9,465.2 1439.5,463.2 1440.1,467.1 1440.7,467.1 1441.3,467.1 1441.9,466.5 1442.5,464.5 1443.1,465.4 1443.7,463.6 1444.3,467.1 1444.9,462.7 1445.5,461.1 1446.1,461.5 1446.7,463.2 1447.3,460.2 1447.9,457.7 1448.5,462.9 1449.1,462.1 1449.7,461.8 1450.3,464.0 1450.9,462.6 1451.5,462.7 1452.1,465.6 1452.7,463.7 1453.3,465.0 1453.9,464.2 1454.5,465.1 1455.1,464.2 1455.7,461.4 1456.3,464.7 1456.9,463.2 1457.5,464.9 1458.1,464.0 1458.7,465.7 1459.3,463.4 1459.9,461.0 1460.5,462.8 1461.1,463.4 1461.7,462.0 1462.3,461.7 1462.9,464.1 1463.5,462.2 1464.1,463.8 1464.7,462.7 1465.3,460.6 1465.9,461.0 1466.5,461.5 1467.1,462.2 1467.7,460.8 1468.3,460.0 1468.9,460.4 1469.5,460.6 1470.1,459.6 1470.7,459.5 1471.3,462.0 1471.9,459.6 1472.5,457.7 1473.1,457.9 1473.7,458.9 1474.3,456.5 1474.9,454.2 1475.5,451.3 1476.1,449.6 1476.7,449.8 1477.3,448.3 1478.2,442.9" stroke-width="2.2"/>
<path d="M216.1,630.7 216.7,630.7 217.3,630.8 217.9,631.5 218.5,631.1 219.1,630.5 219.7,631.6 220.3,631.1 220.9,631.1 221.5,631.3 222.1,630.5 222.7,630.7 223.3,630.5 223.9,630.4 224.5,630.5 225.1,630.6 225.7,631.0 226.3,630.9 226.9,630.7 227.5,630.9 228.1,629.8 228.7,630.5 229.3,630.5 229.9,630.5 230.5,630.9 231.1,630.5 231.7,630.9 232.3,630.4 232.9,630.7 233.5,630.5 234.1,630.4 234.7,630.6 235.3,630.6 235.9,630.2 236.5,630.7 237.1,630.4 237.7,630.6 238.3,629.8 238.9,630.6 239.5,630.0 240.1,630.9 240.7,630.4 241.3,630.5 241.9,630.6 242.5,630.3 243.1,630.7 243.7,630.3 244.3,630.6 244.9,630.8 245.5,630.8 246.1,630.8 246.7,630.3 247.3,630.2 247.9,630.8 248.5,631.3 249.1,630.8 249.7,631.7 250.3,631.5 250.9,630.8 251.5,631.6 252.1,632.1 252.7,631.7 253.3,631.6 253.9,631.3 254.5,630.6 255.1,630.3 255.7,630.7 256.3,630.9 256.9,630.7 257.5,630.7 258.1,631.2 258.7,631.4 259.3,630.4 259.9,630.6 260.5,630.9 261.1,630.9 261.7,630.3 262.3,631.9 262.9,631.3 263.5,631.2 264.1,630.5 264.7,631.1 265.3,630.6 265.9,631.0 266.5,630.9 267.1,630.7 267.7,630.8 268.3,630.5 268.9,630.7 269.5,629.8 270.1,630.7 270.7,630.4 271.3,631.2 271.9,630.5 272.5,629.7 273.1,630.9 273.7,630.3 274.3,630.3 274.9,630.7 275.5,631.2 276.1,631.4 276.7,630.7 277.3,630.8 277.9,630.8 278.5,630.5 279.1,630.5 279.7,630.7 280.3,630.7 280.9,631.1 281.5,630.3 282.1,631.1 282.7,631.2 283.3,631.6 283.9,631.2 284.5,631.2 285.1,631.4 285.7,631.2 286.3,631.1 286.9,631.1 287.5,631.1 288.1,630.9 288.7,631.1 289.3,631.0 289.9,631.1 290.5,631.0 291.1,631.7 291.7,631.6 292.3,631.5 292.9,631.2 293.5,631.7 294.1,631.4 294.7,631.3 295.3,631.3 295.9,631.0 296.5,631.2 297.1,630.5 297.7,630.5 298.3,630.7 298.9,630.5 299.5,630.7 300.1,630.9 300.7,631.0 301.3,630.9 301.9,630.5 302.5,630.5 303.1,630.4 303.7,630.9 304.3,630.5 304.9,630.4 305.5,630.5 306.1,631.2 306.7,630.9 307.3,630.4 307.9,631.4 308.5,631.3 309.1,631.4 309.7,631.4 310.3,631.1 310.9,631.0 311.5,630.8 312.1,630.5 312.7,630.0 313.3,630.0 313.9,630.6 314.5,630.8 315.1,630.6 315.7,630.5 316.3,631.0 316.9,630.9 317.5,631.0 318.1,630.9 318.7,630.7 319.3,630.8 319.9,631.2 320.5,631.6 321.1,631.6 321.7,631.0 322.3,631.1 322.9,630.9 323.5,630.9 324.1,631.0 324.7,631.1 325.3,630.4 325.9,631.3 326.5,630.7 327.1,630.5 327.7,631.6 328.3,630.7 328.9,631.0 329.5,630.8 330.1,631.4 330.7,630.2 331.3,631.2 331.9,630.6 332.5,631.5 333.1,631.7 333.7,631.3 334.3,630.8 334.9,631.3 335.5,631.6 336.1,631.1 336.7,630.9 337.3,631.4 337.9,630.5 338.5,630.8 339.1,630.7 339.7,630.7 340.3,631.0 340.9,630.6 341.5,630.4 342.1,630.4 342.7,630.9 343.3,631.1 343.9,631.3 344.5,631.2 345.1,630.6 345.7,631.2 346.3,630.8 346.9,631.4 347.5,630.9 348.1,630.9 348.7,630.8 349.3,631.2 349.9,630.8 350.5,631.6 351.1,631.0 351.7,630.3 352.3,630.6 352.9,631.0 353.5,630.9 354.1,630.9 354.7,630.9 355.3,630.5 355.9,630.6 356.5,631.4 357.1,630.9 357.7,631.0 358.3,631.0 358.9,630.0 359.5,629.9 360.1,630.6 360.7,630.3 361.3,630.5 361.9,631.1 362.5,630.9 363.1,631.1 363.7,631.3 364.3,630.7 364.9,631.8 365.5,631.4 366.1,631.2 366.7,631.7 367.3,631.2 367.9,631.3 368.5,631.1 369.1,631.4 369.7,631.2 370.3,631.4 370.9,631.0 371.5,631.1 372.1,631.0 372.7,630.8 373.3,630.6 373.9,630.4 374.5,630.1 375.1,629.7 375.7,630.4 376.3,630.0 376.9,630.6 377.5,630.7 378.1,630.8 378.7,630.9 379.3,631.1 379.9,630.5 380.5,630.8 381.1,630.9 381.7,630.7 382.3,630.7 382.9,630.2 383.5,630.2 384.1,630.9 384.7,630.6 385.3,630.6 385.9,631.0 386.5,630.6 387.1,630.9 387.7,631.1 388.3,631.0 388.9,631.4 389.5,631.1 390.1,631.2 390.7,630.7 391.3,631.0 391.9,631.0 392.5,631.3 393.1,631.3 393.7,631.1 394.3,631.3 394.9,631.6 395.5,630.9 396.1,630.6 396.7,631.1 397.3,631.1 397.9,630.8 398.5,631.0 399.1,630.1 399.7,630.9 400.3,630.8 400.9,631.5 401.5,630.9 402.1,631.4 402.7,630.9 403.3,630.8 403.9,630.7 404.5,630.5 405.1,630.7 405.7,631.1 406.3,630.2 406.9,630.5 407.5,630.7 408.1,630.3 408.7,630.2 409.3,630.0 409.9,630.0 410.5,629.2 411.1,630.2 411.7,629.8 412.3,629.6 412.9,629.7 413.5,629.7 414.1,629.9 414.7,629.2 415.3,628.9 415.9,628.6 416.5,629.0 417.1,628.3 417.7,628.4 418.3,627.9 418.9,628.1 419.5,627.9 420.1,627.8 420.7,628.3 421.3,628.0 421.9,627.7 422.5,628.8 423.1,627.9 423.7,627.9 424.3,627.9 424.9,629.0 425.5,628.7 426.1,628.9 426.7,629.3 427.3,629.2 427.9,629.5 428.5,629.9 429.1,629.6 429.7,629.9 430.3,629.8 430.9,629.8 431.5,630.2 432.1,630.0 432.7,630.0 433.3,629.4 433.9,629.8 434.5,630.0 435.1,630.3 435.7,630.6 436.3,630.6 436.9,630.5 437.5,630.7 438.1,630.7 438.7,630.8 439.3,629.9 439.9,630.6 440.5,630.9 441.1,630.6 441.7,630.1 442.3,630.0 442.9,630.4 443.5,630.9 444.1,630.6 444.7,630.0 445.3,629.6 445.9,630.7 446.5,631.4 447.1,630.2 447.7,630.6 448.3,630.8 448.9,631.0 449.5,631.2 450.1,630.4 450.7,630.9 451.3,630.7 451.9,631.1 452.5,630.9 453.1,631.1 453.7,630.4 454.3,630.3 454.9,630.4 455.5,630.4 456.1,630.3 456.7,630.1 457.3,630.4 457.9,630.2 458.5,631.1 459.1,630.7 459.7,630.5 460.3,630.9 460.9,630.4 461.5,630.9 462.1,630.7 462.7,631.4 463.3,631.0 463.9,630.6 464.5,631.2 465.1,630.9 465.7,631.1 466.3,630.0 466.9,630.9 467.5,630.9 468.1,631.5 468.7,630.8 469.3,631.3 469.9,631.1 470.5,630.7 471.1,631.0 471.7,631.3 472.3,631.1 472.9,631.0 473.5,631.0 474.1,630.9 474.7,630.7 475.3,630.4 475.9,629.9 476.5,630.1 477.1,630.1 477.7,630.4 478.3,629.5 478.9,630.2 479.5,629.3 480.1,629.6 480.7,628.1 481.3,628.0 481.9,626.5 482.5,625.8 483.1,625.1 483.7,624.4 484.3,623.3 484.9,623.1 485.5,622.6 486.1,623.6 486.7,623.6 487.3,625.3 487.9,626.2 488.5,626.3 489.1,627.6 489.7,628.1 490.3,629.3 490.9,629.5 491.5,630.4 492.1,630.1 492.7,630.3 493.3,630.3 493.9,630.6 494.5,630.8 495.1,630.7 495.7,630.9 496.3,631.0 496.9,630.8 497.5,630.6 498.1,630.4 498.7,630.5 499.3,630.5 499.9,630.9 500.5,630.8 501.1,630.4 501.7,630.8 502.3,630.4 502.9,631.0 503.5,630.3 504.1,631.1 504.7,630.7 505.3,630.8 505.9,630.7 506.5,630.3 507.1,630.5 507.7,630.4 508.3,630.5 508.9,630.2 509.5,630.1 510.1,629.5 510.7,628.5 511.3,628.4 511.9,627.1 512.5,626.4 513.1,625.8 513.7,624.7 514.3,624.0 514.9,623.9 515.5,623.3 516.1,623.4 516.7,623.9 517.3,625.9 517.9,625.9 518.5,626.9 519.1,627.8 519.7,628.8 520.3,628.8 520.9,629.1 521.5,629.5 522.1,629.6 522.7,629.6 523.3,629.7 523.9,630.4 524.5,630.4 525.1,631.0 525.7,630.5 526.3,630.5 526.9,630.9 527.5,629.9 528.1,630.6 528.7,630.0 529.3,629.9 529.9,630.3 530.5,630.3 531.1,630.0 531.7,630.5 532.3,631.0 532.9,630.9 533.5,630.8 534.1,630.7 534.7,630.9 535.3,631.1 535.9,630.8 536.5,631.0 537.1,631.1 537.7,630.4 538.3,631.0 538.9,631.2 539.5,631.2 540.1,631.2 540.7,632.0 541.3,631.6 541.9,631.6 542.5,631.4 543.1,631.3 543.7,631.3 544.3,631.3 544.9,630.9 545.5,630.8 546.1,631.2 546.7,631.3 547.3,631.2 547.9,631.6 548.5,631.4 549.1,631.7 549.7,631.5 550.3,630.8 550.9,631.6 551.5,631.8 552.1,631.3 552.7,631.1 553.3,630.7 553.9,631.0 554.5,630.5 555.1,630.3 555.7,630.8 556.3,631.0 556.9,630.6 557.5,630.6 558.1,630.4 558.7,631.0 559.3,630.6 559.9,630.4 560.5,630.4 561.1,630.5 561.7,630.9 562.3,630.4 562.9,630.4 563.5,630.8 564.1,630.7 564.7,630.4 565.3,630.8 565.9,630.8 566.5,630.8 567.1,631.0 567.7,631.0 568.3,631.3 568.9,630.9 569.5,631.0 570.1,630.6 570.7,630.9 571.3,630.8 571.9,630.9 572.5,631.5 573.1,632.0 573.7,631.6 574.3,631.5 574.9,631.5 575.5,631.6 576.1,631.2 576.7,631.2 577.3,631.3 577.9,631.5 578.5,631.0 579.1,630.4 579.7,631.1 580.3,630.9 580.9,630.6 581.5,630.5 582.1,629.8 582.7,630.5 583.3,630.7 583.9,631.0 584.5,630.9 585.1,630.7 585.7,631.0 586.3,631.3 586.9,631.6 587.5,631.6 588.1,631.8 588.7,631.0 589.3,631.7 589.9,631.7 590.5,631.4 591.1,631.7 591.7,631.5 592.3,631.3 592.9,631.2 593.5,631.7 594.1,631.5 594.7,631.6 595.3,631.4 595.9,631.3 596.5,630.9 597.1,631.2 597.7,631.3 598.3,632.1 598.9,631.4 599.5,631.3 600.1,631.4 600.7,632.0 601.3,631.4 601.9,631.6 602.5,631.1 603.1,631.3 603.7,630.4 604.3,630.6 604.9,630.9 605.5,630.6 606.1,630.5 606.7,631.2 607.3,630.5 607.9,630.7 608.5,631.4 609.1,631.6 609.7,631.1 610.3,630.7 610.9,630.7 611.5,630.8 612.1,631.0 612.7,631.4 613.3,631.3 613.9,631.2 614.5,630.8 615.1,631.1 615.7,631.1 616.3,631.1 616.9,630.9 617.5,630.8 618.1,631.3 618.7,631.5 619.3,631.0 619.9,631.2 620.5,631.5 621.1,631.7 621.7,631.8 622.3,631.3 622.9,631.6 623.5,630.9 624.1,630.6 624.7,631.1 625.3,631.3 625.9,630.7 626.5,631.0 627.1,631.0 627.7,630.9 628.3,630.9 628.9,631.2 629.5,630.7 630.1,630.7 630.7,631.1 631.3,631.4 631.9,631.0 632.5,631.7 633.1,631.6 633.7,631.3 634.3,631.4 634.9,631.2 635.5,631.7 636.1,631.5 636.7,632.0 637.3,630.7 637.9,631.1 638.5,631.2 639.1,631.4 639.7,631.0 640.3,630.5 640.9,630.2 641.5,629.0 642.1,627.9 642.7,626.2 643.3,623.9 643.9,620.3 644.5,617.2 645.1,614.2 645.7,610.8 646.3,608.0 646.9,606.7 647.5,606.1 648.1,607.0 648.7,609.1 649.3,611.5 649.9,615.2 650.5,618.2 651.1,621.4 651.7,624.3 652.3,625.7 652.9,627.4 653.5,628.8 654.1,630.2 654.7,630.5 655.3,630.4 655.9,630.0 656.5,629.0 657.1,628.0 657.7,625.2 658.3,621.2 658.9,615.4 659.5,607.3 660.1,597.9 660.7,586.2 661.3,575.1 661.9,563.9 662.5,555.0 663.1,550.1 663.7,549.9 664.3,552.5 664.9,560.3 665.5,570.6 666.1,582.4 666.7,593.8 667.3,604.7 667.9,612.6 668.5,619.3 669.1,623.6 669.7,626.4 670.3,628.5 670.9,629.6 671.5,630.5 672.1,631.0 672.7,630.7 673.3,631.2 673.9,630.6 674.5,631.4 675.1,630.4 675.7,630.4 676.3,630.3 676.9,629.5 677.5,628.3 678.1,627.1 678.7,623.8 679.3,620.0 679.9,612.8 680.5,604.5 681.1,593.0 681.7,579.5 682.3,565.1 682.9,550.8 683.5,539.2 684.1,531.9 684.7,528.7 685.3,532.0 685.9,540.1 686.5,552.0 687.1,566.0 687.7,579.7 688.3,593.5 688.9,604.6 689.5,613.5 690.1,619.5 690.7,623.2 691.3,625.8 691.9,627.1 692.5,627.9 693.1,628.1 693.7,628.7 694.3,628.3 694.9,628.2 695.5,627.8 696.1,627.7 696.7,627.7 697.3,627.2 697.9,627.5 698.5,627.6 699.1,627.3 699.7,627.5 700.3,627.3 700.9,628.1 701.5,627.9 702.1,628.1 702.7,627.8 703.3,627.6 703.9,627.5 704.5,627.1 705.1,625.3 705.7,621.5 706.3,615.1 706.9,605.3 707.5,590.5 708.1,568.8 708.7,542.1 709.3,508.9 709.9,473.1 710.5,437.5 711.1,406.1 711.7,383.9 712.3,374.5 712.9,378.2 713.5,395.7 714.1,423.5 714.7,458.4 715.3,495.0 715.9,529.3 716.5,558.6 717.1,583.0 717.7,600.7 718.3,612.4 718.9,620.5 719.5,625.4 720.1,627.9 720.7,629.7 721.3,630.5 721.9,630.5 722.5,630.3 723.1,631.1 723.7,631.9 724.3,631.9 724.9,631.5 725.5,631.4 726.1,632.2 726.7,632.0 727.3,632.2 727.9,632.4 728.5,632.0 729.1,631.8 729.7,631.5 730.3,631.6 730.9,631.2 731.5,631.7 732.1,631.3 732.7,631.8 733.3,631.2 733.9,631.4 734.5,631.0 735.1,631.5 735.7,630.9 736.3,631.5 736.9,631.3 737.5,630.5 738.1,630.6 738.7,631.1 739.3,631.1 739.9,631.8 740.5,631.0 741.1,631.3 741.7,631.4 742.3,631.5 742.9,631.9 743.5,631.4 744.1,630.9 744.7,631.8 745.3,631.4 745.9,630.8 746.5,630.9 747.1,630.9 747.7,630.9 748.3,631.1 748.9,630.7 749.5,630.6 750.1,630.4 750.7,630.6 751.3,630.7 751.9,630.8 752.5,630.0 753.1,630.4 753.7,630.8 754.3,631.2 754.9,631.0 755.5,630.2 756.1,630.5 756.7,631.4 757.3,631.4 757.9,631.5 758.5,632.1 759.1,631.2 759.7,631.8 760.3,631.4 760.9,631.1 761.5,630.5 762.1,630.7 762.7,631.5 763.3,630.9 763.9,631.0 764.5,630.7 765.1,630.2 765.7,630.2 766.3,629.7 766.9,629.2 767.5,628.8 768.1,628.3 768.7,628.3 769.3,627.9 769.9,627.9 770.5,627.3 771.1,626.9 771.7,626.4 772.3,627.2 772.9,627.7 773.5,627.1 774.1,626.8 774.7,628.1 775.3,628.0 775.9,628.9 776.5,629.3 777.1,629.9 777.7,630.1 778.3,630.3 778.9,630.9 779.5,630.6 780.1,631.0 780.7,630.5 781.3,630.7 781.9,630.3 782.5,630.6 783.1,629.5 783.7,628.1 784.3,626.0 784.9,621.3 785.5,613.7 786.1,602.0 786.7,586.4 787.3,566.0 787.9,541.9 788.5,515.6 789.1,491.5 789.7,471.2 790.3,460.4 790.9,458.8 791.5,468.3 792.1,485.7 792.7,510.1 793.3,535.4 793.9,560.3 794.5,581.2 795.1,598.7 795.7,611.9 796.3,619.9 796.9,625.8 797.5,628.4 798.1,630.5 798.7,630.9 799.3,631.5 799.9,631.6 800.5,631.5 801.1,630.8 801.7,630.4 802.3,630.8 802.9,630.5 803.5,630.5 804.1,629.9 804.7,630.5 805.3,630.2 805.9,630.0 806.5,630.3 807.1,630.8 807.7,630.7 808.3,630.8 808.9,630.9 809.5,630.9 810.1,631.4 810.7,631.2 811.3,630.8 811.9,630.9 812.5,631.1 813.1,631.2 813.7,631.5 814.3,630.5 814.9,631.5 815.5,631.6 816.1,631.1 816.7,631.6 817.3,631.0 817.9,631.1 818.5,630.9 819.1,631.4 819.7,631.2 820.3,631.2 820.9,630.5 821.5,630.9 822.1,630.5 822.7,630.9 823.3,631.0 823.9,631.2 824.5,630.7 825.1,630.8 825.7,630.7 826.3,630.4 826.9,631.2 827.5,630.8 828.1,631.1 828.7,631.0 829.3,630.4 829.9,630.6 830.5,631.0 831.1,631.2 831.7,631.2 832.3,631.1 832.9,631.5 833.5,631.0 834.1,631.2 834.7,630.9 835.3,631.6 835.9,631.4 836.5,631.5 837.1,631.2 837.7,630.5 838.3,631.1 838.9,631.5 839.5,631.5 840.1,631.8 840.7,631.9 841.3,631.4 841.9,631.7 842.5,630.9 843.1,631.6 843.7,630.7 844.3,631.4 844.9,630.5 845.5,631.2 846.1,631.4 846.7,630.7 847.3,630.9 847.9,630.9 848.5,629.7 849.1,629.9 849.7,630.5 850.3,630.2 850.9,630.6 851.5,631.7 852.1,631.6 852.7,631.5 853.3,631.2 853.9,631.6 854.5,631.6 855.1,631.3 855.7,631.8 856.3,630.7 856.9,631.7 857.5,631.0 858.1,631.5 858.7,631.1 859.3,631.0 859.9,631.0 860.5,631.4 861.1,631.5 861.7,632.3 862.3,631.9 862.9,631.4 863.5,631.0 864.1,631.4 864.7,631.6 865.3,630.9 865.9,631.5 866.5,631.9 867.1,631.4 867.7,631.0 868.3,631.7 868.9,632.0 869.5,631.4 870.1,631.4 870.7,631.6 871.3,631.3 871.9,630.8 872.5,630.9 873.1,630.9 873.7,630.9 874.3,631.3 874.9,630.7 875.5,631.2 876.1,631.0 876.7,630.4 877.3,631.2 877.9,630.9 878.5,630.4 879.1,630.2 879.7,631.1 880.3,631.3 880.9,630.9 881.5,630.9 882.1,631.3 882.7,631.0 883.3,631.1 883.9,631.6 884.5,631.0 885.1,631.6 885.7,631.2 886.3,631.2 886.9,629.8 887.5,630.1 888.1,628.6 888.7,627.3 889.3,624.7 889.9,621.8 890.5,619.0 891.1,614.9 891.7,610.6 892.3,606.6 892.9,603.0 893.5,599.8 894.1,599.1 894.7,599.7 895.3,602.5 895.9,605.6 896.5,608.9 897.1,613.0 897.7,617.8 898.3,621.4 898.9,624.6 899.5,626.0 900.1,628.5 900.7,629.1 901.3,630.1 901.9,630.2 902.5,630.3 903.1,630.4 903.7,631.2 904.3,629.9 904.9,631.4 905.5,631.3 906.1,631.0 906.7,631.4 907.3,631.2 907.9,630.8 908.5,631.2 909.1,631.5 909.7,631.4 910.3,631.1 910.9,631.5 911.5,631.4 912.1,631.4 912.7,630.9 913.3,631.2 913.9,630.4 914.5,630.4 915.1,630.2 915.7,630.7 916.3,630.9 916.9,631.0 917.5,630.7 918.1,631.5 918.7,630.7 919.3,630.9 919.9,630.2 920.5,631.4 921.1,631.2 921.7,630.9 922.3,631.1 922.9,630.7 923.5,630.8 924.1,631.0 924.7,631.5 925.3,631.3 925.9,631.5 926.5,631.1 927.1,631.0 927.7,631.5 928.3,631.4 928.9,631.5 929.5,631.2 930.1,631.5 930.7,631.0 931.3,631.1 931.9,631.6 932.5,631.2 933.1,631.1 933.7,631.1 934.3,631.9 934.9,631.3 935.5,631.5 936.1,631.3 936.7,632.0 937.3,631.1 937.9,631.3 938.5,631.1 939.1,630.9 939.7,630.7 940.3,630.2 940.9,630.9 941.5,631.4 942.1,630.9 942.7,631.5 943.3,631.1 943.9,631.3 944.5,630.9 945.1,631.0 945.7,631.1 946.3,631.1 946.9,630.0 947.5,629.1 948.1,628.4 948.7,627.0 949.3,625.4 949.9,623.9 950.5,621.1 951.1,620.0 951.7,618.0 952.3,616.8 952.9,616.0 953.5,617.5 954.1,618.8 954.7,620.1 955.3,622.0 955.9,623.6 956.5,624.9 957.1,626.8 957.7,627.8 958.3,628.7 958.9,629.6 959.5,630.2 960.1,630.8 960.7,631.3 961.3,631.0 961.9,631.3 962.5,631.0 963.1,630.9 963.7,631.0 964.3,630.7 964.9,630.9 965.5,630.7 966.1,630.6 966.7,630.7 967.3,631.5 967.9,631.2 968.5,631.1 969.1,631.3 969.7,631.1 970.3,631.2 970.9,631.2 971.5,630.7 972.1,631.1 972.7,631.3 973.3,631.2 973.9,631.1 974.5,631.4 975.1,630.9 975.7,631.5 976.3,631.4 976.9,631.1 977.5,631.5 978.1,630.7 978.7,631.0 979.3,630.9 979.9,630.7 980.5,630.9 981.1,631.2 981.7,631.3 982.3,631.5 982.9,631.1 983.5,631.3 984.1,631.3 984.7,631.1 985.3,631.1 985.9,630.4 986.5,630.6 987.1,630.7 987.7,630.7 988.3,631.0 988.9,630.7 989.5,631.4 990.1,630.4 990.7,631.4 991.3,630.6 991.9,630.5 992.5,630.7 993.1,630.7 993.7,630.8 994.3,630.8 994.9,631.1 995.5,631.3 996.1,630.7 996.7,631.4 997.3,631.1 997.9,631.0 998.5,631.3 999.1,630.9 999.7,631.4 1000.3,630.5 1000.9,631.2 1001.5,630.6 1002.1,630.9 1002.7,630.4 1003.3,631.0 1003.9,630.6 1004.5,630.7 1005.1,630.3 1005.7,630.3 1006.3,630.9 1006.9,631.4 1007.5,631.0 1008.1,630.5 1008.7,631.4 1009.3,630.6 1009.9,630.9 1010.5,630.1 1011.1,629.8 1011.7,629.5 1012.3,627.7 1012.9,627.0 1013.5,625.7 1014.1,624.0 1014.7,621.8 1015.3,620.8 1015.9,618.7 1016.5,617.4 1017.1,616.3 1017.7,617.0 1018.3,618.0 1018.9,619.5 1019.5,621.2 1020.1,622.9 1020.7,624.7 1021.3,626.4 1021.9,627.9 1022.5,628.7 1023.1,629.5 1023.7,630.1 1024.3,630.2 1024.9,630.5 1025.5,630.6 1026.1,630.3 1026.7,631.1 1027.3,631.0 1027.9,630.6 1028.5,630.6 1029.1,630.8 1029.7,630.8 1030.3,630.7 1030.9,631.0 1031.5,630.8 1032.1,630.6 1032.7,631.3 1033.3,630.8 1033.9,631.1 1034.5,630.7 1035.1,630.9 1035.7,631.1 1036.3,631.8 1036.9,631.9 1037.5,631.7 1038.1,631.7 1038.7,631.9 1039.3,631.5 1039.9,631.6 1040.5,631.8 1041.1,631.2 1041.7,631.5 1042.3,631.2 1042.9,631.2 1043.5,631.0 1044.1,631.3 1044.7,631.3 1045.3,631.2 1045.9,630.6 1046.5,631.1 1047.1,631.3 1047.7,630.7 1048.3,630.5 1048.9,630.9 1049.5,631.2 1050.1,630.7 1050.7,631.4 1051.3,631.4 1051.9,631.6 1052.5,631.8 1053.1,631.7 1053.7,631.6 1054.3,631.8 1054.9,632.2 1055.5,631.9 1056.1,631.8 1056.7,631.2 1057.3,631.2 1057.9,630.8 1058.5,631.3 1059.1,631.2 1059.7,631.0 1060.3,631.1 1060.9,630.8 1061.5,630.8 1062.1,631.3 1062.7,630.9 1063.3,631.2 1063.9,631.4 1064.5,630.5 1065.1,630.5 1065.7,631.2 1066.3,630.9 1066.9,631.1 1067.5,631.1 1068.1,630.5 1068.7,631.2 1069.3,631.0 1069.9,630.8 1070.5,630.5 1071.1,630.2 1071.7,629.9 1072.3,629.6 1072.9,629.6 1073.5,629.5 1074.1,629.7 1074.7,629.4 1075.3,629.0 1075.9,629.5 1076.5,628.8 1077.1,629.1 1077.7,629.3 1078.3,628.4 1078.9,628.3 1079.5,628.6 1080.1,628.9 1080.7,628.4 1081.3,628.4 1081.9,628.6 1082.5,628.1 1083.1,628.3 1083.7,629.1 1084.3,629.3 1084.9,629.5 1085.5,629.6 1086.1,630.0 1086.7,629.6 1087.3,630.0 1087.9,630.4 1088.5,630.9 1089.1,630.7 1089.7,630.8 1090.3,630.5 1090.9,630.9 1091.5,631.1 1092.1,631.2 1092.7,631.1 1093.3,631.7 1093.9,630.8 1094.5,631.4 1095.1,630.7 1095.7,630.7 1096.3,631.3 1096.9,631.0 1097.5,631.0 1098.1,631.3 1098.7,632.1 1099.3,631.1 1099.9,631.2 1100.5,631.6 1101.1,631.1 1101.7,631.9 1102.3,630.9 1102.9,631.2 1103.5,631.7 1104.1,631.4 1104.7,631.4 1105.3,631.1 1105.9,631.5 1106.5,631.7 1107.1,631.3 1107.7,630.9 1108.3,631.5 1108.9,631.3 1109.5,631.1 1110.1,630.8 1110.7,630.6 1111.3,631.1 1111.9,630.8 1112.5,630.7 1113.1,630.8 1113.7,631.0 1114.3,631.2 1114.9,630.9 1115.5,630.8 1116.1,630.5 1116.7,630.7 1117.3,630.8 1117.9,631.0 1118.5,631.0 1119.1,631.1 1119.7,631.4 1120.3,631.7 1120.9,631.6 1121.5,631.5 1122.1,631.5 1122.7,631.3 1123.3,631.4 1123.9,631.5 1124.5,631.2 1125.1,631.2 1125.7,631.3 1126.3,631.5 1126.9,631.6 1127.5,630.8 1128.1,631.4 1128.7,631.0 1129.3,631.3 1129.9,631.4 1130.5,631.6 1131.1,630.9 1131.7,631.3 1132.3,630.2 1132.9,630.9 1133.5,630.1 1134.1,630.5 1134.7,630.4 1135.3,630.3 1135.9,630.8 1136.5,630.6 1137.1,630.7 1137.7,630.9 1138.3,631.1 1138.9,631.5 1139.5,631.2 1140.1,630.9 1140.7,630.5 1141.3,631.0 1141.9,630.7 1142.5,630.6 1143.1,630.1 1143.7,630.6 1144.3,630.4 1144.9,631.0 1145.5,630.3 1146.1,630.8 1146.7,631.1 1147.3,630.5 1147.9,630.6 1148.5,630.3 1149.1,630.3 1149.7,630.4 1150.3,630.0 1150.9,629.3 1151.5,630.0 1152.1,628.7 1152.7,628.8 1153.3,627.9 1153.9,627.4 1154.5,626.8 1155.1,626.2 1155.7,625.7 1156.3,625.6 1156.9,624.7 1157.5,624.5 1158.1,624.6 1158.7,624.9 1159.3,626.2 1159.9,626.1 1160.5,626.8 1161.1,628.0 1161.7,628.4 1162.3,629.1 1162.9,628.6 1163.5,629.4 1164.1,629.6 1164.7,630.3 1165.3,630.4 1165.9,630.6 1166.5,630.9 1167.1,631.6 1167.7,630.5 1168.3,630.9 1168.9,631.0 1169.5,630.8 1170.1,630.6 1170.7,631.2 1171.3,631.3 1171.9,631.2 1172.5,630.8 1173.1,630.4 1173.7,630.8 1174.3,631.5 1174.9,631.5 1175.5,631.0 1176.1,631.5 1176.7,632.0 1177.3,632.1 1177.9,631.6 1178.5,631.9 1179.1,632.0 1179.7,631.7 1180.3,632.5 1180.9,631.4 1181.5,631.9 1182.1,631.9 1182.7,631.5 1183.3,631.5 1183.9,630.5 1184.5,631.1 1185.1,631.1 1185.7,631.1 1186.3,630.7 1186.9,631.1 1187.5,631.0 1188.1,631.8 1188.7,631.3 1189.3,631.4 1189.9,631.4 1190.5,631.3 1191.1,631.7 1191.7,631.5 1192.3,631.1 1192.9,630.8 1193.5,630.8 1194.1,630.4 1194.7,631.0 1195.3,631.1 1195.9,631.0 1196.5,630.8 1197.1,631.5 1197.7,631.4 1198.3,631.2 1198.9,631.6 1199.5,631.2 1200.1,631.8 1200.7,631.2 1201.3,631.4 1201.9,631.2 1202.5,631.7 1203.1,631.3 1203.7,631.6 1204.3,631.6 1204.9,631.3 1205.5,632.2 1206.1,631.9 1206.7,631.4 1207.3,631.7 1207.9,631.5 1208.5,631.2 1209.1,631.8 1209.7,631.6 1210.3,631.6 1210.9,631.6 1211.5,631.7 1212.1,631.8 1212.7,631.6 1213.3,631.6 1213.9,631.5 1214.5,631.0 1215.1,631.3 1215.7,631.7 1216.3,631.7 1216.9,631.3 1217.5,631.0 1218.1,631.5 1218.7,631.0 1219.3,630.9 1219.9,630.8 1220.5,630.6 1221.1,631.6 1221.7,631.0 1222.3,630.0 1222.9,630.4 1223.5,629.9 1224.1,630.5 1224.7,630.0 1225.3,629.9 1225.9,630.3 1226.5,630.7 1227.1,630.0 1227.7,630.4 1228.3,630.2 1228.9,630.8 1229.5,630.7 1230.1,630.7 1230.7,630.4 1231.3,631.1 1231.9,630.6 1232.5,631.1 1233.1,631.1 1233.7,630.3 1234.3,630.5 1234.9,630.5 1235.5,630.0 1236.1,630.2 1236.7,630.3 1237.3,629.6 1237.9,629.9 1238.5,630.0 1239.1,629.7 1239.7,629.7 1240.3,629.5 1240.9,630.1 1241.5,630.3 1242.1,630.4 1242.7,631.0 1243.3,630.8 1243.9,630.8 1244.5,631.6 1245.1,631.4 1245.7,631.6 1246.3,631.8 1246.9,631.3 1247.5,631.2 1248.1,631.9 1248.7,630.9 1249.3,631.3 1249.9,631.9 1250.5,631.2 1251.1,631.7 1251.7,631.2 1252.3,632.3 1252.9,631.6 1253.5,631.9 1254.1,631.3 1254.7,631.9 1255.3,631.8 1255.9,631.3 1256.5,631.6 1257.1,631.2 1257.7,631.3 1258.3,630.9 1258.9,630.9 1259.5,630.7 1260.1,631.2 1260.7,631.0 1261.3,630.9 1261.9,631.6 1262.5,631.0 1263.1,630.9 1263.7,630.7 1264.3,631.2 1264.9,631.0 1265.5,630.7 1266.1,630.9 1266.7,631.3 1267.3,631.2 1267.9,631.5 1268.5,631.5 1269.1,631.9 1269.7,631.0 1270.3,631.1 1270.9,631.0 1271.5,631.0 1272.1,631.1 1272.7,631.0 1273.3,631.5 1273.9,631.0 1274.5,631.5 1275.1,631.7 1275.7,631.8 1276.3,631.5 1276.9,631.5 1277.5,631.3 1278.1,631.4 1278.7,631.1 1279.3,631.3 1279.9,631.4 1280.5,631.6 1281.1,630.9 1281.7,631.2 1282.3,631.1 1282.9,631.1 1283.5,630.9 1284.1,631.0 1284.7,631.1 1285.3,630.9 1285.9,630.8 1286.5,631.4 1287.1,631.1 1287.7,631.2 1288.3,631.3 1288.9,631.4 1289.5,631.3 1290.1,631.8 1290.7,631.6 1291.3,631.3 1291.9,632.0 1292.5,631.5 1293.1,631.1 1293.7,631.3 1294.3,630.9 1294.9,630.9 1295.5,630.3 1296.1,630.4 1296.7,630.0 1297.3,630.1 1297.9,630.6 1298.5,630.5 1299.1,631.3 1299.7,630.8 1300.3,631.3 1300.9,631.0 1301.5,631.8 1302.1,631.4 1302.7,630.9 1303.3,631.3 1303.9,630.8 1304.5,631.3 1305.1,630.4 1305.7,629.1 1306.3,628.5 1306.9,627.0 1307.5,625.0 1308.1,623.0 1308.7,620.8 1309.3,618.5 1309.9,617.1 1310.5,615.5 1311.1,615.1 1311.7,615.3 1312.3,616.3 1312.9,618.8 1313.5,620.3 1314.1,622.5 1314.7,625.1 1315.3,625.9 1315.9,626.9 1316.5,627.3 1317.1,627.7 1317.7,628.1 1318.3,627.0 1318.9,626.2 1319.5,626.3 1320.1,625.9 1320.7,626.6 1321.3,626.2 1321.9,627.8 1322.5,627.6 1323.1,629.5 1323.7,629.8 1324.3,629.8 1324.9,630.7 1325.5,630.5 1326.1,630.7 1326.7,630.6 1327.3,630.9 1327.9,630.9 1328.5,630.4 1329.1,630.5 1329.7,630.6 1330.3,631.2 1330.9,631.3 1331.5,631.3 1332.1,631.3 1332.7,631.3 1333.3,631.6 1333.9,631.8 1334.5,631.8 1335.1,632.0 1335.7,632.0 1336.3,631.4 1336.9,632.4 1337.5,632.3 1338.1,632.1 1338.7,632.3 1339.3,632.4 1339.9,632.0 1340.5,631.8 1341.1,631.8 1341.7,631.4 1342.3,630.5 1342.9,631.4 1343.5,630.6 1344.1,631.3 1344.7,631.1 1345.3,631.0 1345.9,631.4 1346.5,630.8 1347.1,630.7 1347.7,631.0 1348.3,631.0 1348.9,630.6 1349.5,630.6 1350.1,630.6 1350.7,630.9 1351.3,630.9 1351.9,631.0 1352.5,630.7 1353.1,630.5 1353.7,630.9 1354.3,631.4 1354.9,631.0 1355.5,630.1 1356.1,630.5 1356.7,630.1 1357.3,630.0 1357.9,629.9 1358.5,629.7 1359.1,629.5 1359.7,630.0 1360.3,629.6 1360.9,629.7 1361.5,629.8 1362.1,630.0 1362.7,629.9 1363.3,630.0 1363.9,630.0 1364.5,630.3 1365.1,630.5 1365.7,631.0 1366.3,630.9 1366.9,630.8 1367.5,631.2 1368.1,631.4 1368.7,631.0 1369.3,631.0 1369.9,630.4 1370.5,631.4 1371.1,631.0 1371.7,631.3 1372.3,630.5 1372.9,630.3 1373.5,631.1 1374.1,630.8 1374.7,631.1 1375.3,630.9 1375.9,631.4 1376.5,631.1 1377.1,631.1 1377.7,631.3 1378.3,631.1 1378.9,631.0 1379.5,631.5 1380.1,631.0 1380.7,631.0 1381.3,631.0 1381.9,630.8 1382.5,630.9 1383.1,631.3 1383.7,631.1 1384.3,630.4 1384.9,630.1 1385.5,630.3 1386.1,629.6 1386.7,629.0 1387.3,628.7 1387.9,627.7 1388.5,626.6 1389.1,624.8 1389.7,623.1 1390.3,619.7 1390.9,617.1 1391.5,614.7 1392.1,612.7 1392.7,610.7 1393.3,609.9 1393.9,609.9 1394.5,612.5 1395.1,614.4 1395.7,617.5 1396.3,620.2 1396.9,622.4 1397.5,623.7 1398.1,624.9 1398.7,624.7 1399.3,625.3 1399.9,624.9 1400.5,625.2 1401.1,625.0 1401.7,625.7 1402.3,626.5 1402.9,628.4 1403.5,628.9 1404.1,629.4 1404.7,630.3 1405.3,630.4 1405.9,631.4 1406.5,631.5 1407.1,631.3 1407.7,631.3 1408.3,630.7 1408.9,631.6 1409.5,631.1 1410.1,631.7 1410.7,630.9 1411.3,631.3 1411.9,631.5 1412.5,631.4 1413.1,631.1 1413.7,631.4 1414.3,631.1 1414.9,630.9 1415.5,630.5 1416.1,631.1 1416.7,630.8 1417.3,630.9 1417.9,630.9 1418.5,631.1 1419.1,631.0 1419.7,631.9 1420.3,631.7 1420.9,631.4 1421.5,631.3 1422.1,631.4 1422.7,630.9 1423.3,631.4 1423.9,631.2 1424.5,631.2 1425.1,631.2 1425.7,631.2 1426.3,631.6 1426.9,631.5 1427.5,631.3 1428.1,631.6 1428.7,631.4 1429.3,631.2 1429.9,631.6 1430.5,631.1 1431.1,630.9 1431.7,631.4 1432.3,631.2 1432.9,631.9 1433.5,631.9 1434.1,631.7 1434.7,632.0 1435.3,631.7 1435.9,631.6 1436.5,631.2 1437.1,631.1 1437.7,631.7 1438.3,632.3 1438.9,631.5 1439.5,631.8 1440.1,631.7 1440.7,632.1 1441.3,631.7 1441.9,631.8 1442.5,631.9 1443.1,631.5 1443.7,631.5 1444.3,631.4 1444.9,631.5 1445.5,631.5 1446.1,631.5 1446.7,631.5 1447.3,631.2 1447.9,631.6 1448.5,632.0 1449.1,632.0 1449.7,632.4 1450.3,631.8 1450.9,631.9 1451.5,631.9 1452.1,632.2 1452.7,632.0 1453.3,631.9 1453.9,632.2 1454.5,632.0 1455.1,631.7 1455.7,632.0 1456.3,631.7 1456.9,631.7 1457.5,631.6 1458.1,631.2 1458.7,631.3 1459.3,631.3 1459.9,631.6 1460.5,631.4 1461.1,631.7 1461.7,631.2 1462.3,631.4 1462.9,631.8 1463.5,631.0 1464.1,631.0 1464.7,631.6 1465.3,631.5 1465.9,631.4 1466.5,631.2 1467.1,631.0 1467.7,630.4 1468.3,630.2 1468.9,630.1 1469.5,629.3 1470.1,628.9 1470.7,628.7 1471.3,628.6 1471.9,627.9 1472.5,626.5 1473.1,625.7 1473.7,624.5 1474.3,623.2 1474.9,621.4 1475.5,619.2 1476.1,616.3 1476.7,613.6 1477.3,609.7 1478.2,601.6" stroke-width="2.5"/>
<path d="M216.1,1116.9 216.7,1116.5 217.3,1117.0 217.9,1116.5 218.5,1117.2 219.1,1116.9 219.7,1116.9 220.3,1116.7 220.9,1116.1 221.5,1116.2 222.1,1116.6 222.7,1115.7 223.3,1115.5 223.9,1116.0 224.5,1114.6 225.1,1114.9 225.7,1114.8 226.3,1115.2 226.9,1114.9 227.5,1114.7 228.1,1113.9 228.7,1114.1 229.3,1113.3 229.9,1113.3 230.5,1112.3 231.1,1112.4 231.7,1111.8 232.3,1111.1 232.9,1111.0 233.5,1110.6 234.1,1110.2 234.7,1109.9 235.3,1109.7 235.9,1109.1 236.5,1108.6 237.1,1108.4 237.7,1107.6 238.3,1107.8 238.9,1107.2 239.5,1105.8 240.1,1105.9 240.7,1105.5 241.3,1105.2 241.9,1105.2 242.5,1105.3 243.1,1105.4 243.7,1104.5 244.3,1105.5 244.9,1105.0 245.5,1106.3 246.1,1106.6 246.7,1106.7 247.3,1107.3 247.9,1107.8 248.5,1108.7 249.1,1108.5 249.7,1108.7 250.3,1109.1 250.9,1109.6 251.5,1109.0 252.1,1109.3 252.7,1109.0 253.3,1109.5 253.9,1108.8 254.5,1109.1 255.1,1108.9 255.7,1108.5 256.3,1108.7 256.9,1108.6 257.5,1107.7 258.1,1107.3 258.7,1106.7 259.3,1106.4 259.9,1105.7 260.5,1104.9 261.1,1104.3 261.7,1103.6 262.3,1103.3 262.9,1102.9 263.5,1102.8 264.1,1101.9 264.7,1100.2 265.3,1099.7 265.9,1098.9 266.5,1097.2 267.1,1094.1 267.7,1091.5 268.3,1087.9 268.9,1081.7 269.5,1074.4 270.1,1064.9 270.7,1052.3 271.3,1037.5 271.9,1018.6 272.5,996.9 273.1,972.2 273.7,946.3 274.3,918.7 274.9,891.8 275.5,867.4 276.1,846.3 276.7,831.2 277.3,823.7 277.9,822.1 278.5,829.3 279.1,843.9 279.7,864.2 280.3,888.5 280.9,915.1 281.5,941.8 282.1,968.6 282.7,992.6 283.3,1015.2 283.9,1033.9 284.5,1049.5 285.1,1061.3 285.7,1070.9 286.3,1078.9 286.9,1084.2 287.5,1088.3 288.1,1091.5 288.7,1093.7 289.3,1095.4 289.9,1097.6 290.5,1098.8 291.1,1099.9 291.7,1100.6 292.3,1101.1 292.9,1101.7 293.5,1101.9 294.1,1102.4 294.7,1102.8 295.3,1102.6 295.9,1103.8 296.5,1104.5 297.1,1104.8 297.7,1104.7 298.3,1105.3 298.9,1105.8 299.5,1106.7 300.1,1107.0 300.7,1106.6 301.3,1106.9 301.9,1107.3 302.5,1107.5 303.1,1108.4 303.7,1107.6 304.3,1108.0 304.9,1108.2 305.5,1108.7 306.1,1109.4 306.7,1109.2 307.3,1110.2 307.9,1110.9 308.5,1110.9 309.1,1111.5 309.7,1111.4 310.3,1111.8 310.9,1111.9 311.5,1112.5 312.1,1112.5 312.7,1112.8 313.3,1113.0 313.9,1113.2 314.5,1112.7 315.1,1113.2 315.7,1113.1 316.3,1113.3 316.9,1113.5 317.5,1113.7 318.1,1113.4 318.7,1113.2 319.3,1113.6 319.9,1113.4 320.5,1112.9 321.1,1114.0 321.7,1114.1 322.3,1114.8 322.9,1115.0 323.5,1115.5 324.1,1115.1 324.7,1115.7 325.3,1115.7 325.9,1115.8 326.5,1115.8 327.1,1116.5 327.7,1116.8 328.3,1116.3 328.9,1116.5 329.5,1116.0 330.1,1116.1 330.7,1115.7 331.3,1115.9 331.9,1115.6 332.5,1116.3 333.1,1116.9 333.7,1117.0 334.3,1116.8 334.9,1116.5 335.5,1117.1 336.1,1116.5 336.7,1116.5 337.3,1116.3 337.9,1114.9 338.5,1115.1 339.1,1114.9 339.7,1115.0 340.3,1115.0 340.9,1115.5 341.5,1115.4 342.1,1115.8 342.7,1115.3 343.3,1116.2 343.9,1116.4 344.5,1116.7 345.1,1117.3 345.7,1116.7 346.3,1116.4 346.9,1117.7 347.5,1117.2 348.1,1117.2 348.7,1118.0 349.3,1118.0 349.9,1118.0 350.5,1118.1 351.1,1118.3 351.7,1117.8 352.3,1118.0 352.9,1118.5 353.5,1118.1 354.1,1118.0 354.7,1118.4 355.3,1117.8 355.9,1118.2 356.5,1117.7 357.1,1117.4 357.7,1117.5 358.3,1117.5 358.9,1117.0 359.5,1118.1 360.1,1117.8 360.7,1118.4 361.3,1117.8 361.9,1118.1 362.5,1118.0 363.1,1118.5 363.7,1118.9 364.3,1119.4 364.9,1118.8 365.5,1118.9 366.1,1119.4 366.7,1119.4 367.3,1119.2 367.9,1119.3 368.5,1119.3 369.1,1119.9 369.7,1119.4 370.3,1119.6 370.9,1120.2 371.5,1119.8 372.1,1120.3 372.7,1119.6 373.3,1119.8 373.9,1120.3 374.5,1120.0 375.1,1119.3 375.7,1119.1 376.3,1118.9 376.9,1119.4 377.5,1119.4 378.1,1119.8 378.7,1119.9 379.3,1121.0 379.9,1120.7 380.5,1119.9 381.1,1120.4 381.7,1119.8 382.3,1120.2 382.9,1120.0 383.5,1120.1 384.1,1120.0 384.7,1119.5 385.3,1120.4 385.9,1119.7 386.5,1119.9 387.1,1119.8 387.7,1119.9 388.3,1119.4 388.9,1119.6 389.5,1119.7 390.1,1120.4 390.7,1119.8 391.3,1120.2 391.9,1120.4 392.5,1120.2 393.1,1120.2 393.7,1120.3 394.3,1119.8 394.9,1119.1 395.5,1120.0 396.1,1120.3 396.7,1120.5 397.3,1120.6 397.9,1120.7 398.5,1120.3 399.1,1120.1 399.7,1119.9 400.3,1120.0 400.9,1120.9 401.5,1120.6 402.1,1120.6 402.7,1121.3 403.3,1120.3 403.9,1120.7 404.5,1120.0 405.1,1120.2 405.7,1120.3 406.3,1120.8 406.9,1120.7 407.5,1121.1 408.1,1120.6 408.7,1121.3 409.3,1120.5 409.9,1119.9 410.5,1120.0 411.1,1119.8 411.7,1120.0 412.3,1119.2 412.9,1119.8 413.5,1119.0 414.1,1119.0 414.7,1119.4 415.3,1118.4 415.9,1119.7 416.5,1118.7 417.1,1118.3 417.7,1119.1 418.3,1118.4 418.9,1117.7 419.5,1118.1 420.1,1118.0 420.7,1117.6 421.3,1116.7 421.9,1115.4 422.5,1114.5 423.1,1113.9 423.7,1112.7 424.3,1111.5 424.9,1111.3 425.5,1110.1 426.1,1111.0 426.7,1110.7 427.3,1111.7 427.9,1112.9 428.5,1114.3 429.1,1115.7 429.7,1115.9 430.3,1117.1 430.9,1117.9 431.5,1118.6 432.1,1118.8 432.7,1119.0 433.3,1120.1 433.9,1120.0 434.5,1120.0 435.1,1120.4 435.7,1120.0 436.3,1119.7 436.9,1119.7 437.5,1120.6 438.1,1120.6 438.7,1120.9 439.3,1120.7 439.9,1121.1 440.5,1120.9 441.1,1121.0 441.7,1120.7 442.3,1119.8 442.9,1120.3 443.5,1119.7 444.1,1119.7 444.7,1119.0 445.3,1119.1 445.9,1118.1 446.5,1118.6 447.1,1117.5 447.7,1117.2 448.3,1116.3 448.9,1115.8 449.5,1115.0 450.1,1113.8 450.7,1113.2 451.3,1112.4 451.9,1111.1 452.5,1110.3 453.1,1109.8 453.7,1108.4 454.3,1108.4 454.9,1107.8 455.5,1107.5 456.1,1108.3 456.7,1108.1 457.3,1109.0 457.9,1110.2 458.5,1109.9 459.1,1110.4 459.7,1111.3 460.3,1112.3 460.9,1113.2 461.5,1113.5 462.1,1114.2 462.7,1115.2 463.3,1115.6 463.9,1116.5 464.5,1116.5 465.1,1117.7 465.7,1117.8 466.3,1118.0 466.9,1117.8 467.5,1118.2 468.1,1118.3 468.7,1118.6 469.3,1118.1 469.9,1117.7 470.5,1117.5 471.1,1118.0 471.7,1117.2 472.3,1117.8 472.9,1116.8 473.5,1116.0 474.1,1115.0 474.7,1114.6 475.3,1112.9 475.9,1111.6 476.5,1109.7 477.1,1109.1 477.7,1107.5 478.3,1106.0 478.9,1105.4 479.5,1104.3 480.1,1103.0 480.7,1103.4 481.3,1101.8 481.9,1101.8 482.5,1102.5 483.1,1103.1 483.7,1103.9 484.3,1104.6 484.9,1106.0 485.5,1106.3 486.1,1106.9 486.7,1108.3 487.3,1109.7 487.9,1111.0 488.5,1112.9 489.1,1113.5 489.7,1114.5 490.3,1115.5 490.9,1116.4 491.5,1117.8 492.1,1117.9 492.7,1119.5 493.3,1119.4 493.9,1120.0 494.5,1120.8 495.1,1120.6 495.7,1121.4 496.3,1121.4 496.9,1121.8 497.5,1121.6 498.1,1120.5 498.7,1121.3 499.3,1120.9 499.9,1120.9 500.5,1121.1 501.1,1122.2 501.7,1121.6 502.3,1122.0 502.9,1122.5 503.5,1122.9 504.1,1122.3 504.7,1122.4 505.3,1122.4 505.9,1122.2 506.5,1122.0 507.1,1121.6 507.7,1121.7 508.3,1121.6 508.9,1121.5 509.5,1121.7 510.1,1121.9 510.7,1121.8 511.3,1122.0 511.9,1122.5 512.5,1122.4 513.1,1121.9 513.7,1121.7 514.3,1123.1 514.9,1122.3 515.5,1122.8 516.1,1122.1 516.7,1122.5 517.3,1121.8 517.9,1121.4 518.5,1121.1 519.1,1121.1 519.7,1120.8 520.3,1121.2 520.9,1121.2 521.5,1121.5 522.1,1121.8 522.7,1121.5 523.3,1122.2 523.9,1122.3 524.5,1122.6 525.1,1122.7 525.7,1122.0 526.3,1121.4 526.9,1122.0 527.5,1122.2 528.1,1122.2 528.7,1123.0 529.3,1123.1 529.9,1123.5 530.5,1122.8 531.1,1123.1 531.7,1122.7 532.3,1122.4 532.9,1122.5 533.5,1121.9 534.1,1121.9 534.7,1122.2 535.3,1121.6 535.9,1122.3 536.5,1121.9 537.1,1121.3 537.7,1122.3 538.3,1122.2 538.9,1121.6 539.5,1121.3 540.1,1121.2 540.7,1122.1 541.3,1122.7 541.9,1121.9 542.5,1122.4 543.1,1122.7 543.7,1122.2 544.3,1121.7 544.9,1122.3 545.5,1121.3 546.1,1122.0 546.7,1122.5 547.3,1122.1 547.9,1122.7 548.5,1123.0 549.1,1124.2 549.7,1123.4 550.3,1123.5 550.9,1123.4 551.5,1124.3 552.1,1124.0 552.7,1122.9 553.3,1122.7 553.9,1122.8 554.5,1122.4 555.1,1122.2 555.7,1121.7 556.3,1121.3 556.9,1121.8 557.5,1121.5 558.1,1122.5 558.7,1121.7 559.3,1121.6 559.9,1121.3 560.5,1120.7 561.1,1120.8 561.7,1120.2 562.3,1120.5 562.9,1120.5 563.5,1120.1 564.1,1118.8 564.7,1119.2 565.3,1118.1 565.9,1117.8 566.5,1116.6 567.1,1115.4 567.7,1114.4 568.3,1112.6 568.9,1111.4 569.5,1109.8 570.1,1108.6 570.7,1107.1 571.3,1105.1 571.9,1103.8 572.5,1102.3 573.1,1102.0 573.7,1100.1 574.3,1099.4 574.9,1098.7 575.5,1097.9 576.1,1098.1 576.7,1098.0 577.3,1098.8 577.9,1098.9 578.5,1100.3 579.1,1102.1 579.7,1103.2 580.3,1104.6 580.9,1106.7 581.5,1107.9 582.1,1110.1 582.7,1111.6 583.3,1113.0 583.9,1114.2 584.5,1115.4 585.1,1115.9 585.7,1116.9 586.3,1117.6 586.9,1118.8 587.5,1118.6 588.1,1119.6 588.7,1119.6 589.3,1120.2 589.9,1121.1 590.5,1120.6 591.1,1121.5 591.7,1121.9 592.3,1121.3 592.9,1121.7 593.5,1121.9 594.1,1121.5 594.7,1121.6 595.3,1121.6 595.9,1121.7 596.5,1121.4 597.1,1121.8 597.7,1121.4 598.3,1121.1 598.9,1121.1 599.5,1120.5 600.1,1120.6 600.7,1120.7 601.3,1121.1 601.9,1121.4 602.5,1120.5 603.1,1119.9 603.7,1119.3 604.3,1118.9 604.9,1117.7 605.5,1117.1 606.1,1116.8 606.7,1116.3 607.3,1115.2 607.9,1114.4 608.5,1113.6 609.1,1113.4 609.7,1112.1 610.3,1113.0 610.9,1113.2 611.5,1113.5 612.1,1114.1 612.7,1115.0 613.3,1115.5 613.9,1116.7 614.5,1117.1 615.1,1118.2 615.7,1119.1 616.3,1119.2 616.9,1120.3 617.5,1120.4 618.1,1120.4 618.7,1120.5 619.3,1119.8 619.9,1118.7 620.5,1118.4 621.1,1117.6 621.7,1116.1 622.3,1115.0 622.9,1113.8 623.5,1112.6 624.1,1111.5 624.7,1111.2 625.3,1110.9 625.9,1110.0 626.5,1110.6 627.1,1111.1 627.7,1112.2 628.3,1113.3 628.9,1114.2 629.5,1115.7 630.1,1116.9 630.7,1118.2 631.3,1119.4 631.9,1120.7 632.5,1121.1 633.1,1121.6 633.7,1122.6 634.3,1122.8 634.9,1122.9 635.5,1122.2 636.1,1121.7 636.7,1121.9 637.3,1122.1 637.9,1121.4 638.5,1121.7 639.1,1121.9 639.7,1122.0 640.3,1123.2 640.9,1123.1 641.5,1123.9 642.1,1123.4 642.7,1122.9 643.3,1123.1 643.9,1122.9 644.5,1122.9 645.1,1123.0 645.7,1123.0 646.3,1123.7 646.9,1122.5 647.5,1122.9 648.1,1123.3 648.7,1123.5 649.3,1123.3 649.9,1123.3 650.5,1123.5 651.1,1123.2 651.7,1123.2 652.3,1123.4 652.9,1122.8 653.5,1123.3 654.1,1123.0 654.7,1123.2 655.3,1122.9 655.9,1123.1 656.5,1122.7 657.1,1122.5 657.7,1122.1 658.3,1122.5 658.9,1121.8 659.5,1122.9 660.1,1123.2 660.7,1123.3 661.3,1123.7 661.9,1123.2 662.5,1123.6 663.1,1123.6 663.7,1124.2 664.3,1124.4 664.9,1124.8 665.5,1124.1 666.1,1124.1 666.7,1124.3 667.3,1123.9 667.9,1123.8 668.5,1124.3 669.1,1124.2 669.7,1124.2 670.3,1124.8 670.9,1124.4 671.5,1123.8 672.1,1123.8 672.7,1123.4 673.3,1122.8 673.9,1123.1 674.5,1122.8 675.1,1123.0 675.7,1123.3 676.3,1123.2 676.9,1123.5 677.5,1123.7 678.1,1123.6 678.7,1124.0 679.3,1123.3 679.9,1123.1 680.5,1123.8 681.1,1123.7 681.7,1123.4 682.3,1124.0 682.9,1124.0 683.5,1123.4 684.1,1123.1 684.7,1123.6 685.3,1123.6 685.9,1123.6 686.5,1123.4 687.1,1123.7 687.7,1124.0 688.3,1123.7 688.9,1123.6 689.5,1123.8 690.1,1123.7 690.7,1123.8 691.3,1124.1 691.9,1124.4 692.5,1124.3 693.1,1124.3 693.7,1123.9 694.3,1123.8 694.9,1123.4 695.5,1124.2 696.1,1124.3 696.7,1124.2 697.3,1124.7 697.9,1124.4 698.5,1124.7 699.1,1124.9 699.7,1124.2 700.3,1123.7 700.9,1123.6 701.5,1123.6 702.1,1123.2 702.7,1123.3 703.3,1122.4 703.9,1123.2 704.5,1122.6 705.1,1122.5 705.7,1122.8 706.3,1122.6 706.9,1121.5 707.5,1121.4 708.1,1121.7 708.7,1121.0 709.3,1120.6 709.9,1121.0 710.5,1120.6 711.1,1120.7 711.7,1120.1 712.3,1119.8 712.9,1119.4 713.5,1118.8 714.1,1118.1 714.7,1116.2 715.3,1115.0 715.9,1113.3 716.5,1111.6 717.1,1109.1 717.7,1106.7 718.3,1104.2 718.9,1101.0 719.5,1098.2 720.1,1094.7 720.7,1091.0 721.3,1088.5 721.9,1085.8 722.5,1083.0 723.1,1081.2 723.7,1080.2 724.3,1079.3 724.9,1079.1 725.5,1080.1 726.1,1082.5 726.7,1084.9 727.3,1087.3 727.9,1090.6 728.5,1093.8 729.1,1097.1 729.7,1100.0 730.3,1103.2 730.9,1105.0 731.5,1107.2 732.1,1110.0 732.7,1112.5 733.3,1113.7 733.9,1115.4 734.5,1117.2 735.1,1118.3 735.7,1119.6 736.3,1119.7 736.9,1121.2 737.5,1121.1 738.1,1121.4 738.7,1121.1 739.3,1121.9 739.9,1122.6 740.5,1122.2 741.1,1123.0 741.7,1122.9 742.3,1123.2 742.9,1123.1 743.5,1123.4 744.1,1122.7 744.7,1123.3 745.3,1123.3 745.9,1123.5 746.5,1123.2 747.1,1122.8 747.7,1123.1 748.3,1122.9 748.9,1122.7 749.5,1123.0 750.1,1122.7 750.7,1123.2 751.3,1123.4 751.9,1123.1 752.5,1123.9 753.1,1123.8 753.7,1124.2 754.3,1124.1 754.9,1124.6 755.5,1124.3 756.1,1123.2 756.7,1123.5 757.3,1123.3 757.9,1123.5 758.5,1123.7 759.1,1123.6 759.7,1123.0 760.3,1122.9 760.9,1123.5 761.5,1123.5 762.1,1123.8 762.7,1123.8 763.3,1123.7 763.9,1124.1 764.5,1123.8 765.1,1123.9 765.7,1123.5 766.3,1123.8 766.9,1124.1 767.5,1123.3 768.1,1123.2 768.7,1123.4 769.3,1123.8 769.9,1123.4 770.5,1123.1 771.1,1123.4 771.7,1123.2 772.3,1123.3 772.9,1123.0 773.5,1122.9 774.1,1123.7 774.7,1123.4 775.3,1123.9 775.9,1124.3 776.5,1123.9 777.1,1123.3 777.7,1123.7 778.3,1123.4 778.9,1123.7 779.5,1124.0 780.1,1123.9 780.7,1124.4 781.3,1124.5 781.9,1124.7 782.5,1124.7 783.1,1124.2 783.7,1124.3 784.3,1124.0 784.9,1123.0 785.5,1123.0 786.1,1123.0 786.7,1122.5 787.3,1123.0 787.9,1123.7 788.5,1123.5 789.1,1123.4 789.7,1123.4 790.3,1123.5 790.9,1122.8 791.5,1123.6 792.1,1123.0 792.7,1123.1 793.3,1122.9 793.9,1123.4 794.5,1123.0 795.1,1123.1 795.7,1122.7 796.3,1123.1 796.9,1122.9 797.5,1122.0 798.1,1121.5 798.7,1121.2 799.3,1121.6 799.9,1120.8 800.5,1121.0 801.1,1121.5 801.7,1122.3 802.3,1122.3 802.9,1122.5 803.5,1123.0 804.1,1122.4 804.7,1122.6 805.3,1123.2 805.9,1123.3 806.5,1123.2 807.1,1123.4 807.7,1123.3 808.3,1123.4 808.9,1123.9 809.5,1123.0 810.1,1123.7 810.7,1123.4 811.3,1123.2 811.9,1124.2 812.5,1124.2 813.1,1124.8 813.7,1124.9 814.3,1125.5 814.9,1124.5 815.5,1123.9 816.1,1124.5 816.7,1124.6 817.3,1124.4 817.9,1124.5 818.5,1125.0 819.1,1125.3 819.7,1125.0 820.3,1125.3 820.9,1124.9 821.5,1124.6 822.1,1124.0 822.7,1123.9 823.3,1124.2 823.9,1124.4 824.5,1124.4 825.1,1124.1 825.7,1124.3 826.3,1124.2 826.9,1124.5 827.5,1125.0 828.1,1125.6 828.7,1125.8 829.3,1125.5 829.9,1125.3 830.5,1124.6 831.1,1124.5 831.7,1124.5 832.3,1124.0 832.9,1123.9 833.5,1123.2 834.1,1123.9 834.7,1123.4 835.3,1123.5 835.9,1123.9 836.5,1123.1 837.1,1124.3 837.7,1125.1 838.3,1124.5 838.9,1125.0 839.5,1124.2 840.1,1124.2 840.7,1123.9 841.3,1124.5 841.9,1123.4 842.5,1124.0 843.1,1123.7 843.7,1124.3 844.3,1123.9 844.9,1124.1 845.5,1124.3 846.1,1123.6 846.7,1123.3 847.3,1124.3 847.9,1123.6 848.5,1123.7 849.1,1123.8 849.7,1124.1 850.3,1124.4 850.9,1124.9 851.5,1124.8 852.1,1124.6 852.7,1125.3 853.3,1126.0 853.9,1125.2 854.5,1124.5 855.1,1125.2 855.7,1124.8 856.3,1124.1 856.9,1124.4 857.5,1124.4 858.1,1124.0 858.7,1124.9 859.3,1124.9 859.9,1124.9 860.5,1125.2 861.1,1124.3 861.7,1124.8 862.3,1125.2 862.9,1125.0 863.5,1124.1 864.1,1124.6 864.7,1124.3 865.3,1124.7 865.9,1124.5 866.5,1125.3 867.1,1125.6 867.7,1125.3 868.3,1125.2 868.9,1124.8 869.5,1124.6 870.1,1125.1 870.7,1124.9 871.3,1124.7 871.9,1124.3 872.5,1124.0 873.1,1124.3 873.7,1124.1 874.3,1123.6 874.9,1123.4 875.5,1122.9 876.1,1123.1 876.7,1123.2 877.3,1123.9 877.9,1124.0 878.5,1124.4 879.1,1124.4 879.7,1124.8 880.3,1124.4 880.9,1125.6 881.5,1125.2 882.1,1125.4 882.7,1125.4 883.3,1125.0 883.9,1125.5 884.5,1125.0 885.1,1124.8 885.7,1125.2 886.3,1124.8 886.9,1125.6 887.5,1126.2 888.1,1125.7 888.7,1126.0 889.3,1125.4 889.9,1125.6 890.5,1125.4 891.1,1124.6 891.7,1125.5 892.3,1125.7 892.9,1124.6 893.5,1125.4 894.1,1125.3 894.7,1125.4 895.3,1125.7 895.9,1125.6 896.5,1125.5 897.1,1125.6 897.7,1125.3 898.3,1125.3 898.9,1125.0 899.5,1125.4 900.1,1125.7 900.7,1124.9 901.3,1124.5 901.9,1124.7 902.5,1123.4 903.1,1123.8 903.7,1123.6 904.3,1124.0 904.9,1124.1 905.5,1124.5 906.1,1125.1 906.7,1124.5 907.3,1124.6 907.9,1124.9 908.5,1124.6 909.1,1124.5 909.7,1124.0 910.3,1123.7 910.9,1123.6 911.5,1123.6 912.1,1123.3 912.7,1123.1 913.3,1123.8 913.9,1124.2 914.5,1124.1 915.1,1124.7 915.7,1124.6 916.3,1124.1 916.9,1123.7 917.5,1123.6 918.1,1123.1 918.7,1122.9 919.3,1122.6 919.9,1122.6 920.5,1122.9 921.1,1122.6 921.7,1122.8 922.3,1122.5 922.9,1122.3 923.5,1122.0 924.1,1120.7 924.7,1120.7 925.3,1120.4 925.9,1120.3 926.5,1119.7 927.1,1120.2 927.7,1119.8 928.3,1119.5 928.9,1119.1 929.5,1119.5 930.1,1119.5 930.7,1119.6 931.3,1119.7 931.9,1119.4 932.5,1120.1 933.1,1120.1 933.7,1120.1 934.3,1120.1 934.9,1120.8 935.5,1120.9 936.1,1120.8 936.7,1121.9 937.3,1122.3 937.9,1122.3 938.5,1123.3 939.1,1123.3 939.7,1123.8 940.3,1123.5 940.9,1123.9 941.5,1124.3 942.1,1124.6 942.7,1124.3 943.3,1123.9 943.9,1124.8 944.5,1124.8 945.1,1125.4 945.7,1124.8 946.3,1125.2 946.9,1124.6 947.5,1125.1 948.1,1124.7 948.7,1124.8 949.3,1124.6 949.9,1124.6 950.5,1125.2 951.1,1125.2 951.7,1125.1 952.3,1125.1 952.9,1125.4 953.5,1126.1 954.1,1125.9 954.7,1125.4 955.3,1125.2 955.9,1125.4 956.5,1124.8 957.1,1124.3 957.7,1125.1 958.3,1124.8 958.9,1124.4 959.5,1124.5 960.1,1124.8 960.7,1124.4 961.3,1124.4 961.9,1125.0 962.5,1125.1 963.1,1125.0 963.7,1124.6 964.3,1124.6 964.9,1124.2 965.5,1124.3 966.1,1124.8 966.7,1125.0 967.3,1125.4 967.9,1125.5 968.5,1125.4 969.1,1125.3 969.7,1125.0 970.3,1125.1 970.9,1124.1 971.5,1125.0 972.1,1124.6 972.7,1124.1 973.3,1124.8 973.9,1125.3 974.5,1124.7 975.1,1125.0 975.7,1124.7 976.3,1125.1 976.9,1124.6 977.5,1124.3 978.1,1124.5 978.7,1124.5 979.3,1124.5 979.9,1124.4 980.5,1124.3 981.1,1124.8 981.7,1124.2 982.3,1124.3 982.9,1124.4 983.5,1124.4 984.1,1124.0 984.7,1122.9 985.3,1123.4 985.9,1122.4 986.5,1122.9 987.1,1122.8 987.7,1122.9 988.3,1122.6 988.9,1122.7 989.5,1122.1 990.1,1122.1 990.7,1122.4 991.3,1122.0 991.9,1121.9 992.5,1121.9 993.1,1121.2 993.7,1121.2 994.3,1120.5 994.9,1120.7 995.5,1120.2 996.1,1119.8 996.7,1120.0 997.3,1119.4 997.9,1119.3 998.5,1119.6 999.1,1119.7 999.7,1119.6 1000.3,1120.0 1000.9,1119.7 1001.5,1120.0 1002.1,1120.6 1002.7,1120.4 1003.3,1121.4 1003.9,1121.4 1004.5,1121.3 1005.1,1122.2 1005.7,1122.3 1006.3,1123.1 1006.9,1122.8 1007.5,1123.0 1008.1,1123.5 1008.7,1123.2 1009.3,1124.1 1009.9,1124.1 1010.5,1123.1 1011.1,1124.1 1011.7,1124.3 1012.3,1124.0 1012.9,1124.4 1013.5,1124.5 1014.1,1124.0 1014.7,1124.7 1015.3,1124.5 1015.9,1124.2 1016.5,1124.2 1017.1,1124.4 1017.7,1124.8 1018.3,1124.8 1018.9,1124.9 1019.5,1125.1 1020.1,1125.3 1020.7,1125.8 1021.3,1125.6 1021.9,1125.1 1022.5,1125.5 1023.1,1125.1 1023.7,1124.4 1024.3,1124.6 1024.9,1124.4 1025.5,1124.4 1026.1,1124.5 1026.7,1124.2 1027.3,1124.2 1027.9,1124.1 1028.5,1124.5 1029.1,1124.6 1029.7,1124.2 1030.3,1125.0 1030.9,1125.2 1031.5,1125.1 1032.1,1124.9 1032.7,1125.0 1033.3,1124.4 1033.9,1123.9 1034.5,1124.6 1035.1,1123.7 1035.7,1124.2 1036.3,1124.7 1036.9,1124.2 1037.5,1124.9 1038.1,1124.6 1038.7,1124.7 1039.3,1124.3 1039.9,1125.0 1040.5,1124.6 1041.1,1125.1 1041.7,1124.6 1042.3,1125.0 1042.9,1125.1 1043.5,1125.4 1044.1,1125.2 1044.7,1124.4 1045.3,1124.8 1045.9,1124.3 1046.5,1123.9 1047.1,1123.9 1047.7,1124.3 1048.3,1123.5 1048.9,1123.7 1049.5,1123.3 1050.1,1123.5 1050.7,1123.3 1051.3,1122.9 1051.9,1123.1 1052.5,1123.0 1053.1,1122.9 1053.7,1123.0 1054.3,1123.3 1054.9,1122.8 1055.5,1122.6 1056.1,1122.5 1056.7,1121.9 1057.3,1121.5 1057.9,1120.9 1058.5,1120.4 1059.1,1119.9 1059.7,1119.7 1060.3,1118.4 1060.9,1118.4 1061.5,1118.1 1062.1,1117.9 1062.7,1117.6 1063.3,1116.3 1063.9,1116.2 1064.5,1116.0 1065.1,1115.3 1065.7,1115.4 1066.3,1115.5 1066.9,1115.4 1067.5,1115.0 1068.1,1115.9 1068.7,1115.7 1069.3,1116.3 1069.9,1116.2 1070.5,1117.2 1071.1,1118.1 1071.7,1118.6 1072.3,1119.2 1072.9,1119.6 1073.5,1119.8 1074.1,1120.2 1074.7,1121.6 1075.3,1121.3 1075.9,1121.8 1076.5,1122.6 1077.1,1122.6 1077.7,1123.1 1078.3,1122.7 1078.9,1123.4 1079.5,1124.1 1080.1,1123.3 1080.7,1123.6 1081.3,1123.5 1081.9,1123.6 1082.5,1123.4 1083.1,1123.7 1083.7,1123.7 1084.3,1123.4 1084.9,1123.6 1085.5,1123.2 1086.1,1123.8 1086.7,1123.9 1087.3,1124.7 1087.9,1124.9 1088.5,1124.6 1089.1,1125.4 1089.7,1125.2 1090.3,1125.6 1090.9,1126.1 1091.5,1126.5 1092.1,1126.2 1092.7,1126.3 1093.3,1126.5 1093.9,1126.3 1094.5,1125.7 1095.1,1126.4 1095.7,1126.0 1096.3,1125.7 1096.9,1125.5 1097.5,1125.2 1098.1,1124.7 1098.7,1124.7 1099.3,1124.1 1099.9,1124.4 1100.5,1124.0 1101.1,1124.1 1101.7,1124.0 1102.3,1124.1 1102.9,1123.5 1103.5,1123.7 1104.1,1123.9 1104.7,1124.2 1105.3,1123.5 1105.9,1123.5 1106.5,1123.3 1107.1,1123.0 1107.7,1122.1 1108.3,1122.1 1108.9,1122.6 1109.5,1121.8 1110.1,1120.9 1110.7,1120.7 1111.3,1120.3 1111.9,1119.4 1112.5,1119.0 1113.1,1118.2 1113.7,1117.3 1114.3,1116.9 1114.9,1115.8 1115.5,1115.3 1116.1,1114.7 1116.7,1113.7 1117.3,1113.5 1117.9,1113.1 1118.5,1113.0 1119.1,1113.0 1119.7,1113.1 1120.3,1113.6 1120.9,1114.0 1121.5,1114.8 1122.1,1114.7 1122.7,1116.2 1123.3,1117.0 1123.9,1117.7 1124.5,1118.2 1125.1,1119.8 1125.7,1119.9 1126.3,1120.2 1126.9,1120.7 1127.5,1120.6 1128.1,1121.5 1128.7,1122.0 1129.3,1122.4 1129.9,1122.5 1130.5,1123.4 1131.1,1124.4 1131.7,1124.5 1132.3,1124.4 1132.9,1124.2 1133.5,1124.5 1134.1,1123.5 1134.7,1123.0 1135.3,1122.5 1135.9,1123.1 1136.5,1123.3 1137.1,1122.9 1137.7,1123.6 1138.3,1124.1 1138.9,1124.3 1139.5,1124.1 1140.1,1124.7 1140.7,1124.9 1141.3,1125.7 1141.9,1125.4 1142.5,1125.2 1143.1,1125.9 1143.7,1125.3 1144.3,1125.7 1144.9,1125.9 1145.5,1125.2 1146.1,1124.9 1146.7,1124.4 1147.3,1124.5 1147.9,1124.8 1148.5,1124.6 1149.1,1124.7 1149.7,1124.2 1150.3,1125.1 1150.9,1123.8 1151.5,1124.1 1152.1,1123.9 1152.7,1124.8 1153.3,1125.0 1153.9,1125.7 1154.5,1125.1 1155.1,1125.2 1155.7,1124.3 1156.3,1124.6 1156.9,1125.2 1157.5,1125.0 1158.1,1125.3 1158.7,1124.7 1159.3,1125.0 1159.9,1124.9 1160.5,1124.2 1161.1,1124.7 1161.7,1124.7 1162.3,1124.2 1162.9,1124.3 1163.5,1124.2 1164.1,1124.0 1164.7,1124.3 1165.3,1124.8 1165.9,1124.0 1166.5,1124.5 1167.1,1124.4 1167.7,1124.7 1168.3,1124.8 1168.9,1125.0 1169.5,1125.3 1170.1,1125.1 1170.7,1125.3 1171.3,1124.4 1171.9,1125.1 1172.5,1124.4 1173.1,1124.3 1173.7,1124.9 1174.3,1124.9 1174.9,1125.0 1175.5,1125.2 1176.1,1125.2 1176.7,1124.9 1177.3,1125.5 1177.9,1125.5 1178.5,1125.6 1179.1,1125.4 1179.7,1125.4 1180.3,1125.4 1180.9,1126.1 1181.5,1125.5 1182.1,1125.9 1182.7,1125.5 1183.3,1125.2 1183.9,1125.3 1184.5,1124.8 1185.1,1125.1 1185.7,1125.2 1186.3,1124.9 1186.9,1124.9 1187.5,1124.8 1188.1,1124.6 1188.7,1124.3 1189.3,1124.9 1189.9,1125.0 1190.5,1125.3 1191.1,1125.8 1191.7,1125.8 1192.3,1126.1 1192.9,1125.6 1193.5,1125.1 1194.1,1125.6 1194.7,1125.1 1195.3,1123.9 1195.9,1124.1 1196.5,1124.2 1197.1,1125.1 1197.7,1124.7 1198.3,1125.3 1198.9,1125.5 1199.5,1126.1 1200.1,1125.6 1200.7,1125.8 1201.3,1125.4 1201.9,1125.7 1202.5,1125.3 1203.1,1125.2 1203.7,1124.8 1204.3,1124.7 1204.9,1125.1 1205.5,1125.4 1206.1,1124.9 1206.7,1125.1 1207.3,1124.6 1207.9,1125.2 1208.5,1124.3 1209.1,1124.6 1209.7,1124.6 1210.3,1124.3 1210.9,1124.3 1211.5,1124.7 1212.1,1125.2 1212.7,1124.6 1213.3,1124.9 1213.9,1124.2 1214.5,1124.7 1215.1,1124.1 1215.7,1124.0 1216.3,1124.0 1216.9,1123.6 1217.5,1123.8 1218.1,1123.8 1218.7,1123.6 1219.3,1122.9 1219.9,1122.6 1220.5,1122.8 1221.1,1122.9 1221.7,1122.5 1222.3,1122.8 1222.9,1122.9 1223.5,1123.3 1224.1,1123.0 1224.7,1122.5 1225.3,1123.4 1225.9,1123.6 1226.5,1123.6 1227.1,1124.0 1227.7,1124.0 1228.3,1123.8 1228.9,1124.3 1229.5,1124.0 1230.1,1123.7 1230.7,1124.3 1231.3,1123.9 1231.9,1123.1 1232.5,1124.2 1233.1,1124.2 1233.7,1124.2 1234.3,1124.3 1234.9,1124.7 1235.5,1124.7 1236.1,1124.5 1236.7,1124.5 1237.3,1123.9 1237.9,1124.6 1238.5,1125.0 1239.1,1124.4 1239.7,1124.7 1240.3,1125.0 1240.9,1125.5 1241.5,1125.1 1242.1,1126.0 1242.7,1125.6 1243.3,1125.7 1243.9,1125.5 1244.5,1125.2 1245.1,1124.5 1245.7,1124.4 1246.3,1124.5 1246.9,1124.2 1247.5,1124.7 1248.1,1124.4 1248.7,1124.0 1249.3,1124.7 1249.9,1125.0 1250.5,1125.3 1251.1,1125.1 1251.7,1125.4 1252.3,1125.9 1252.9,1126.1 1253.5,1125.9 1254.1,1126.2 1254.7,1125.8 1255.3,1125.6 1255.9,1125.3 1256.5,1124.8 1257.1,1125.4 1257.7,1125.1 1258.3,1125.3 1258.9,1125.6 1259.5,1125.0 1260.1,1125.6 1260.7,1124.8 1261.3,1124.9 1261.9,1125.0 1262.5,1125.5 1263.1,1125.0 1263.7,1125.7 1264.3,1125.6 1264.9,1125.5 1265.5,1125.2 1266.1,1125.2 1266.7,1125.1 1267.3,1125.0 1267.9,1125.2 1268.5,1125.0 1269.1,1125.1 1269.7,1125.4 1270.3,1124.3 1270.9,1124.7 1271.5,1124.4 1272.1,1123.6 1272.7,1123.6 1273.3,1124.1 1273.9,1124.6 1274.5,1124.6 1275.1,1125.0 1275.7,1124.6 1276.3,1124.1 1276.9,1124.3 1277.5,1124.1 1278.1,1123.6 1278.7,1123.4 1279.3,1123.0 1279.9,1123.8 1280.5,1124.2 1281.1,1123.8 1281.7,1123.3 1282.3,1123.2 1282.9,1123.3 1283.5,1122.5 1284.1,1122.4 1284.7,1122.0 1285.3,1122.3 1285.9,1121.8 1286.5,1122.4 1287.1,1122.4 1287.7,1122.0 1288.3,1120.7 1288.9,1121.1 1289.5,1120.5 1290.1,1120.2 1290.7,1120.0 1291.3,1120.1 1291.9,1120.0 1292.5,1120.1 1293.1,1120.1 1293.7,1120.2 1294.3,1120.9 1294.9,1120.8 1295.5,1120.9 1296.1,1121.4 1296.7,1121.3 1297.3,1121.2 1297.9,1121.3 1298.5,1121.0 1299.1,1121.5 1299.7,1122.1 1300.3,1122.6 1300.9,1122.9 1301.5,1122.5 1302.1,1122.7 1302.7,1123.0 1303.3,1123.2 1303.9,1122.8 1304.5,1122.9 1305.1,1123.1 1305.7,1123.8 1306.3,1124.1 1306.9,1124.4 1307.5,1124.1 1308.1,1124.5 1308.7,1124.4 1309.3,1124.7 1309.9,1124.5 1310.5,1125.6 1311.1,1125.2 1311.7,1125.7 1312.3,1125.5 1312.9,1125.0 1313.5,1124.7 1314.1,1124.8 1314.7,1124.2 1315.3,1124.1 1315.9,1124.1 1316.5,1124.2 1317.1,1124.3 1317.7,1124.9 1318.3,1124.4 1318.9,1124.6 1319.5,1124.2 1320.1,1124.0 1320.7,1123.8 1321.3,1123.7 1321.9,1124.2 1322.5,1124.3 1323.1,1124.5 1323.7,1124.6 1324.3,1124.8 1324.9,1124.4 1325.5,1123.9 1326.1,1123.8 1326.7,1123.1 1327.3,1123.5 1327.9,1123.7 1328.5,1123.0 1329.1,1123.4 1329.7,1123.7 1330.3,1122.9 1330.9,1122.9 1331.5,1122.8 1332.1,1122.8 1332.7,1122.2 1333.3,1121.7 1333.9,1121.6 1334.5,1121.4 1335.1,1121.7 1335.7,1122.0 1336.3,1122.0 1336.9,1121.8 1337.5,1122.2 1338.1,1121.7 1338.7,1122.2 1339.3,1122.8 1339.9,1122.5 1340.5,1122.6 1341.1,1123.4 1341.7,1123.8 1342.3,1123.8 1342.9,1123.5 1343.5,1124.7 1344.1,1125.2 1344.7,1124.5 1345.3,1125.4 1345.9,1124.4 1346.5,1124.8 1347.1,1124.6 1347.7,1124.5 1348.3,1124.0 1348.9,1124.5 1349.5,1123.9 1350.1,1124.3 1350.7,1124.3 1351.3,1124.3 1351.9,1124.0 1352.5,1124.2 1353.1,1124.1 1353.7,1125.4 1354.3,1125.2 1354.9,1125.2 1355.5,1125.5 1356.1,1125.5 1356.7,1125.9 1357.3,1125.1 1357.9,1125.4 1358.5,1124.4 1359.1,1124.6 1359.7,1124.5 1360.3,1124.0 1360.9,1124.2 1361.5,1123.8 1362.1,1123.6 1362.7,1123.6 1363.3,1124.3 1363.9,1124.1 1364.5,1124.1 1365.1,1123.8 1365.7,1123.8 1366.3,1123.9 1366.9,1124.2 1367.5,1124.2 1368.1,1123.4 1368.7,1124.1 1369.3,1123.3 1369.9,1123.2 1370.5,1123.0 1371.1,1122.6 1371.7,1122.8 1372.3,1122.2 1372.9,1122.0 1373.5,1120.9 1374.1,1120.6 1374.7,1120.9 1375.3,1121.0 1375.9,1120.3 1376.5,1120.2 1377.1,1120.0 1377.7,1119.6 1378.3,1119.0 1378.9,1118.5 1379.5,1118.7 1380.1,1117.5 1380.7,1117.2 1381.3,1115.8 1381.9,1115.9 1382.5,1115.7 1383.1,1115.0 1383.7,1115.2 1384.3,1114.9 1384.9,1115.5 1385.5,1114.6 1386.1,1114.6 1386.7,1114.5 1387.3,1115.0 1387.9,1115.6 1388.5,1115.6 1389.1,1116.7 1389.7,1116.8 1390.3,1117.8 1390.9,1118.8 1391.5,1118.9 1392.1,1119.8 1392.7,1120.2 1393.3,1120.6 1393.9,1121.4 1394.5,1121.0 1395.1,1121.7 1395.7,1122.2 1396.3,1122.6 1396.9,1122.5 1397.5,1122.6 1398.1,1123.7 1398.7,1123.6 1399.3,1123.8 1399.9,1123.6 1400.5,1123.9 1401.1,1123.5 1401.7,1123.0 1402.3,1123.4 1402.9,1123.9 1403.5,1123.3 1404.1,1123.8 1404.7,1124.3 1405.3,1124.6 1405.9,1124.8 1406.5,1125.3 1407.1,1125.4 1407.7,1125.9 1408.3,1125.0 1408.9,1125.1 1409.5,1124.7 1410.1,1125.3 1410.7,1125.1 1411.3,1125.2 1411.9,1125.2 1412.5,1125.7 1413.1,1125.2 1413.7,1125.5 1414.3,1125.6 1414.9,1125.1 1415.5,1124.8 1416.1,1125.3 1416.7,1124.8 1417.3,1124.8 1417.9,1124.5 1418.5,1124.5 1419.1,1124.7 1419.7,1125.0 1420.3,1124.9 1420.9,1124.9 1421.5,1125.4 1422.1,1125.3 1422.7,1125.0 1423.3,1125.6 1423.9,1125.1 1424.5,1125.6 1425.1,1125.8 1425.7,1125.6 1426.3,1126.3 1426.9,1125.5 1427.5,1125.9 1428.1,1125.7 1428.7,1126.3 1429.3,1125.8 1429.9,1125.4 1430.5,1125.5 1431.1,1125.3 1431.7,1125.9 1432.3,1125.5 1432.9,1125.6 1433.5,1126.0 1434.1,1125.8 1434.7,1126.0 1435.3,1125.9 1435.9,1125.8 1436.5,1125.5 1437.1,1125.5 1437.7,1126.3 1438.3,1126.2 1438.9,1126.5 1439.5,1126.4 1440.1,1126.2 1440.7,1126.0 1441.3,1126.2 1441.9,1124.9 1442.5,1125.3 1443.1,1125.8 1443.7,1125.5 1444.3,1125.2 1444.9,1125.2 1445.5,1125.6 1446.1,1125.4 1446.7,1125.3 1447.3,1124.6 1447.9,1125.4 1448.5,1124.9 1449.1,1125.4 1449.7,1125.5 1450.3,1125.0 1450.9,1125.2 1451.5,1125.2 1452.1,1125.4 1452.7,1126.0 1453.3,1126.3 1453.9,1126.2 1454.5,1126.1 1455.1,1126.0 1455.7,1126.7 1456.3,1126.2 1456.9,1126.0 1457.5,1126.3 1458.1,1126.5 1458.7,1126.3 1459.3,1126.4 1459.9,1126.1 1460.5,1126.7 1461.1,1126.3 1461.7,1126.6 1462.3,1126.3 1462.9,1126.0 1463.5,1125.4 1464.1,1125.5 1464.7,1124.9 1465.3,1125.3 1465.9,1125.8 1466.5,1126.2 1467.1,1125.4 1467.7,1125.9 1468.3,1125.8 1468.9,1125.6 1469.5,1125.9 1470.1,1125.2 1470.7,1125.6 1471.3,1125.1 1471.9,1125.7 1472.5,1125.3 1473.1,1125.8 1473.7,1125.4 1474.3,1125.0 1474.9,1124.5 1475.5,1124.0 1476.1,1124.6 1476.7,1124.2 1477.3,1124.2 1478.2,1123.0" stroke-width="2.4"/>
<path d="M216.1,1248.8 216.7,1249.1 217.3,1249.3 217.9,1248.5 218.5,1248.7 219.1,1248.9 219.7,1248.8 220.3,1249.0 220.9,1249.0 221.5,1248.9 222.1,1249.3 222.7,1249.6 223.3,1249.6 223.9,1249.0 224.5,1249.5 225.1,1248.3 225.7,1248.4 226.3,1248.7 226.9,1248.4 227.5,1248.7 228.1,1249.1 228.7,1248.7 229.3,1248.6 229.9,1249.1 230.5,1249.1 231.1,1248.4 231.7,1248.6 232.3,1247.8 232.9,1248.2 233.5,1249.0 234.1,1249.1 234.7,1249.1 235.3,1248.8 235.9,1248.6 236.5,1249.3 237.1,1249.4 237.7,1249.2 238.3,1249.5 238.9,1249.4 239.5,1249.4 240.1,1249.4 240.7,1249.4 241.3,1249.2 241.9,1249.6 242.5,1249.1 243.1,1248.9 243.7,1249.3 244.3,1249.3 244.9,1249.3 245.5,1249.6 246.1,1249.8 246.7,1249.5 247.3,1249.7 247.9,1249.4 248.5,1249.5 249.1,1249.6 249.7,1249.6 250.3,1249.9 250.9,1250.0 251.5,1250.5 252.1,1249.8 252.7,1249.7 253.3,1249.2 253.9,1249.1 254.5,1248.9 255.1,1249.1 255.7,1248.7 256.3,1248.5 256.9,1248.3 257.5,1248.6 258.1,1248.9 258.7,1248.4 259.3,1249.3 259.9,1249.1 260.5,1248.8 261.1,1249.0 261.7,1249.3 262.3,1249.2 262.9,1248.7 263.5,1249.0 264.1,1249.6 264.7,1249.6 265.3,1250.1 265.9,1250.0 266.5,1249.7 267.1,1249.8 267.7,1249.6 268.3,1249.9 268.9,1250.2 269.5,1250.1 270.1,1249.8 270.7,1249.6 271.3,1249.8 271.9,1249.0 272.5,1249.5 273.1,1249.9 273.7,1249.6 274.3,1249.3 274.9,1249.9 275.5,1250.0 276.1,1250.4 276.7,1249.7 277.3,1250.1 277.9,1249.7 278.5,1250.1 279.1,1249.8 279.7,1249.3 280.3,1249.6 280.9,1249.1 281.5,1249.4 282.1,1249.1 282.7,1249.2 283.3,1249.0 283.9,1249.1 284.5,1249.2 285.1,1249.5 285.7,1248.9 286.3,1250.0 286.9,1249.5 287.5,1249.4 288.1,1249.0 288.7,1249.1 289.3,1249.2 289.9,1249.8 290.5,1249.4 291.1,1249.3 291.7,1249.6 292.3,1249.1 292.9,1248.7 293.5,1248.5 294.1,1249.3 294.7,1249.9 295.3,1249.7 295.9,1249.8 296.5,1249.4 297.1,1250.1 297.7,1249.4 298.3,1249.7 298.9,1250.0 299.5,1249.5 300.1,1248.9 300.7,1249.6 301.3,1249.4 301.9,1249.7 302.5,1250.1 303.1,1250.4 303.7,1250.2 304.3,1250.0 304.9,1250.2 305.5,1249.9 306.1,1250.1 306.7,1249.8 307.3,1249.9 307.9,1249.6 308.5,1249.2 309.1,1249.0 309.7,1248.9 310.3,1249.4 310.9,1249.4 311.5,1249.5 312.1,1249.2 312.7,1249.7 313.3,1249.7 313.9,1250.2 314.5,1250.9 315.1,1250.6 315.7,1250.6 316.3,1249.9 316.9,1250.3 317.5,1250.0 318.1,1250.3 318.7,1250.7 319.3,1250.7 319.9,1250.0 320.5,1249.2 321.1,1249.9 321.7,1249.6 322.3,1249.1 322.9,1248.6 323.5,1249.6 324.1,1249.4 324.7,1249.6 325.3,1249.2 325.9,1249.8 326.5,1250.5 327.1,1249.8 327.7,1250.2 328.3,1249.8 328.9,1249.7 329.5,1249.7 330.1,1249.2 330.7,1249.6 331.3,1249.7 331.9,1249.5 332.5,1249.8 333.1,1249.7 333.7,1249.4 334.3,1250.3 334.9,1250.2 335.5,1250.1 336.1,1250.5 336.7,1250.1 337.3,1250.5 337.9,1250.6 338.5,1250.6 339.1,1250.0 339.7,1250.1 340.3,1250.0 340.9,1249.4 341.5,1250.1 342.1,1249.3 342.7,1248.8 343.3,1249.1 343.9,1249.7 344.5,1248.9 345.1,1250.1 345.7,1250.1 346.3,1250.1 346.9,1250.4 347.5,1250.9 348.1,1250.2 348.7,1250.4 349.3,1250.3 349.9,1250.5 350.5,1249.9 351.1,1249.8 351.7,1249.8 352.3,1250.0 352.9,1250.2 353.5,1249.8 354.1,1250.0 354.7,1250.1 355.3,1250.3 355.9,1250.5 356.5,1249.8 357.1,1249.7 357.7,1249.7 358.3,1249.7 358.9,1250.0 359.5,1249.7 360.1,1250.1 360.7,1250.1 361.3,1250.6 361.9,1250.2 362.5,1250.6 363.1,1250.3 363.7,1249.5 364.3,1249.9 364.9,1249.7 365.5,1249.8 366.1,1250.2 366.7,1250.1 367.3,1250.9 367.9,1251.5 368.5,1251.7 369.1,1251.3 369.7,1251.3 370.3,1250.8 370.9,1251.0 371.5,1250.6 372.1,1250.7 372.7,1250.8 373.3,1251.1 373.9,1250.9 374.5,1251.4 375.1,1250.7 375.7,1251.0 376.3,1250.7 376.9,1250.5 377.5,1250.8 378.1,1250.5 378.7,1250.1 379.3,1250.5 379.9,1249.9 380.5,1250.2 381.1,1249.9 381.7,1250.5 382.3,1249.8 382.9,1250.4 383.5,1250.7 384.1,1251.0 384.7,1250.5 385.3,1251.0 385.9,1250.4 386.5,1250.3 387.1,1249.9 387.7,1250.7 388.3,1250.4 388.9,1250.5 389.5,1250.9 390.1,1251.1 390.7,1250.9 391.3,1251.2 391.9,1250.8 392.5,1250.6 393.1,1250.7 393.7,1251.1 394.3,1250.8 394.9,1250.5 395.5,1251.1 396.1,1251.2 396.7,1251.0 397.3,1251.2 397.9,1251.1 398.5,1250.4 399.1,1251.0 399.7,1250.1 400.3,1250.6 400.9,1250.1 401.5,1250.1 402.1,1250.1 402.7,1249.9 403.3,1250.1 403.9,1250.1 404.5,1250.6 405.1,1249.9 405.7,1250.1 406.3,1250.4 406.9,1250.3 407.5,1250.3 408.1,1250.6 408.7,1250.7 409.3,1251.3 409.9,1250.2 410.5,1250.7 411.1,1250.3 411.7,1251.5 412.3,1250.8 412.9,1251.1 413.5,1250.2 414.1,1251.0 414.7,1251.0 415.3,1251.3 415.9,1251.7 416.5,1251.7 417.1,1252.2 417.7,1251.8 418.3,1251.4 418.9,1252.0 419.5,1251.9 420.1,1251.4 420.7,1251.6 421.3,1251.4 421.9,1251.0 422.5,1250.9 423.1,1251.6 423.7,1251.2 424.3,1251.2 424.9,1251.4 425.5,1250.6 426.1,1250.9 426.7,1251.2 427.3,1251.4 427.9,1251.2 428.5,1251.0 429.1,1250.9 429.7,1250.8 430.3,1250.9 430.9,1250.0 431.5,1251.1 432.1,1250.3 432.7,1250.7 433.3,1250.9 433.9,1250.4 434.5,1250.5 435.1,1250.7 435.7,1250.6 436.3,1250.8 436.9,1250.6 437.5,1250.9 438.1,1250.9 438.7,1250.6 439.3,1250.8 439.9,1251.0 440.5,1250.7 441.1,1250.7 441.7,1251.1 442.3,1251.2 442.9,1251.1 443.5,1251.2 444.1,1252.0 444.7,1251.6 445.3,1251.3 445.9,1251.7 446.5,1251.8 447.1,1251.4 447.7,1252.2 448.3,1251.3 448.9,1251.1 449.5,1251.4 450.1,1251.8 450.7,1251.8 451.3,1252.4 451.9,1252.4 452.5,1252.1 453.1,1252.0 453.7,1251.9 454.3,1252.5 454.9,1251.9 455.5,1252.1 456.1,1252.0 456.7,1252.2 457.3,1252.6 457.9,1251.8 458.5,1252.1 459.1,1251.3 459.7,1250.8 460.3,1251.4 460.9,1250.0 461.5,1251.0 462.1,1250.5 462.7,1250.6 463.3,1250.4 463.9,1250.9 464.5,1250.6 465.1,1250.6 465.7,1250.9 466.3,1251.2 466.9,1251.0 467.5,1251.1 468.1,1250.6 468.7,1251.2 469.3,1251.1 469.9,1251.4 470.5,1251.5 471.1,1251.5 471.7,1252.1 472.3,1251.8 472.9,1252.6 473.5,1252.8 474.1,1252.4 474.7,1251.4 475.3,1251.6 475.9,1251.9 476.5,1251.8 477.1,1252.1 477.7,1252.3 478.3,1251.9 478.9,1252.3 479.5,1252.2 480.1,1252.2 480.7,1251.5 481.3,1251.9 481.9,1251.8 482.5,1252.0 483.1,1251.3 483.7,1251.4 484.3,1251.4 484.9,1251.9 485.5,1251.5 486.1,1251.3 486.7,1251.6 487.3,1252.0 487.9,1252.2 488.5,1251.9 489.1,1251.5 489.7,1250.8 490.3,1251.4 490.9,1251.5 491.5,1251.8 492.1,1251.7 492.7,1252.0 493.3,1251.6 493.9,1251.9 494.5,1251.7 495.1,1252.2 495.7,1251.0 496.3,1251.0 496.9,1251.4 497.5,1251.0 498.1,1251.5 498.7,1251.0 499.3,1250.9 499.9,1250.6 500.5,1251.0 501.1,1251.1 501.7,1250.9 502.3,1250.9 502.9,1251.1 503.5,1250.2 504.1,1250.4 504.7,1251.3 505.3,1251.4 505.9,1251.3 506.5,1251.4 507.1,1251.7 507.7,1251.6 508.3,1251.8 508.9,1252.2 509.5,1251.6 510.1,1251.8 510.7,1251.8 511.3,1251.3 511.9,1251.8 512.5,1251.6 513.1,1251.5 513.7,1251.4 514.3,1252.2 514.9,1251.8 515.5,1252.6 516.1,1252.7 516.7,1252.1 517.3,1252.5 517.9,1252.8 518.5,1252.4 519.1,1252.2 519.7,1252.5 520.3,1252.1 520.9,1252.2 521.5,1251.8 522.1,1252.1 522.7,1252.5 523.3,1252.5 523.9,1252.4 524.5,1252.2 525.1,1252.1 525.7,1252.3 526.3,1252.1 526.9,1252.1 527.5,1251.8 528.1,1251.7 528.7,1251.7 529.3,1252.2 529.9,1251.9 530.5,1251.8 531.1,1252.3 531.7,1251.6 532.3,1252.0 532.9,1252.2 533.5,1252.4 534.1,1251.6 534.7,1252.0 535.3,1252.3 535.9,1252.0 536.5,1251.6 537.1,1252.0 537.7,1251.2 538.3,1251.0 538.9,1251.4 539.5,1251.5 540.1,1251.9 540.7,1251.9 541.3,1252.0 541.9,1251.7 542.5,1252.9 543.1,1252.2 543.7,1252.0 544.3,1252.2 544.9,1252.0 545.5,1252.6 546.1,1252.2 546.7,1252.1 547.3,1252.7 547.9,1252.5 548.5,1253.2 549.1,1252.0 549.7,1251.7 550.3,1252.5 550.9,1252.2 551.5,1252.7 552.1,1252.3 552.7,1252.7 553.3,1252.1 553.9,1252.6 554.5,1251.9 555.1,1251.4 555.7,1251.7 556.3,1251.7 556.9,1252.3 557.5,1251.9 558.1,1252.2 558.7,1252.3 559.3,1251.5 559.9,1252.4 560.5,1252.1 561.1,1252.3 561.7,1252.3 562.3,1252.1 562.9,1252.4 563.5,1252.0 564.1,1251.9 564.7,1252.6 565.3,1252.2 565.9,1252.3 566.5,1252.5 567.1,1252.6 567.7,1251.9 568.3,1251.8 568.9,1252.1 569.5,1251.5 570.1,1251.7 570.7,1251.6 571.3,1251.5 571.9,1251.8 572.5,1251.9 573.1,1252.0 573.7,1252.9 574.3,1252.6 574.9,1252.1 575.5,1251.9 576.1,1251.4 576.7,1251.6 577.3,1251.3 577.9,1251.6 578.5,1251.4 579.1,1251.4 579.7,1251.6 580.3,1251.9 580.9,1252.2 581.5,1252.2 582.1,1252.2 582.7,1252.4 583.3,1252.4 583.9,1253.0 584.5,1252.5 585.1,1252.6 585.7,1252.8 586.3,1252.6 586.9,1252.6 587.5,1252.3 588.1,1251.8 588.7,1252.4 589.3,1251.4 589.9,1251.4 590.5,1251.9 591.1,1252.0 591.7,1251.7 592.3,1251.6 592.9,1251.7 593.5,1251.8 594.1,1251.6 594.7,1251.3 595.3,1251.5 595.9,1251.3 596.5,1251.6 597.1,1251.7 597.7,1251.7 598.3,1252.5 598.9,1251.9 599.5,1251.9 600.1,1252.5 600.7,1252.0 601.3,1251.7 601.9,1251.3 602.5,1250.9 603.1,1251.3 603.7,1250.7 604.3,1252.1 604.9,1251.9 605.5,1251.5 606.1,1251.7 606.7,1252.1 607.3,1251.6 607.9,1251.9 608.5,1251.4 609.1,1251.3 609.7,1251.7 610.3,1251.6 610.9,1251.6 611.5,1251.3 612.1,1252.3 612.7,1251.6 613.3,1251.5 613.9,1251.8 614.5,1252.0 615.1,1252.3 615.7,1252.7 616.3,1252.5 616.9,1252.6 617.5,1252.4 618.1,1252.2 618.7,1252.2 619.3,1251.2 619.9,1250.9 620.5,1251.9 621.1,1251.7 621.7,1251.8 622.3,1252.6 622.9,1252.4 623.5,1252.5 624.1,1252.5 624.7,1252.1 625.3,1252.4 625.9,1251.9 626.5,1251.6 627.1,1251.4 627.7,1251.7 628.3,1251.2 628.9,1251.2 629.5,1250.6 630.1,1250.5 630.7,1250.1 631.3,1250.3 631.9,1249.9 632.5,1249.6 633.1,1249.9 633.7,1249.2 634.3,1249.4 634.9,1249.4 635.5,1248.7 636.1,1249.0 636.7,1248.6 637.3,1248.4 637.9,1248.5 638.5,1247.4 639.1,1247.0 639.7,1247.5 640.3,1246.6 640.9,1246.7 641.5,1246.9 642.1,1247.1 642.7,1247.1 643.3,1247.0 643.9,1247.2 644.5,1247.5 645.1,1246.9 645.7,1247.3 646.3,1246.0 646.9,1246.6 647.5,1246.4 648.1,1245.7 648.7,1245.8 649.3,1246.3 649.9,1246.8 650.5,1246.3 651.1,1247.0 651.7,1247.2 652.3,1246.9 652.9,1247.5 653.5,1248.0 654.1,1248.5 654.7,1248.7 655.3,1249.3 655.9,1249.6 656.5,1248.7 657.1,1249.1 657.7,1248.5 658.3,1248.7 658.9,1248.6 659.5,1249.0 660.1,1249.6 660.7,1248.4 661.3,1249.1 661.9,1248.8 662.5,1249.4 663.1,1249.5 663.7,1249.2 664.3,1249.4 664.9,1249.2 665.5,1249.5 666.1,1250.1 666.7,1250.2 667.3,1250.0 667.9,1249.5 668.5,1249.6 669.1,1248.7 669.7,1248.5 670.3,1248.6 670.9,1248.3 671.5,1247.9 672.1,1247.8 672.7,1247.5 673.3,1248.2 673.9,1248.2 674.5,1247.6 675.1,1248.2 675.7,1247.0 676.3,1247.9 676.9,1248.0 677.5,1247.5 678.1,1247.6 678.7,1247.1 679.3,1247.3 679.9,1247.9 680.5,1247.6 681.1,1247.5 681.7,1247.0 682.3,1246.8 682.9,1246.9 683.5,1246.2 684.1,1246.0 684.7,1245.8 685.3,1246.1 685.9,1244.7 686.5,1245.0 687.1,1244.6 687.7,1245.0 688.3,1245.0 688.9,1244.5 689.5,1245.2 690.1,1244.1 690.7,1243.8 691.3,1243.8 691.9,1244.1 692.5,1243.7 693.1,1243.9 693.7,1243.9 694.3,1243.0 694.9,1242.7 695.5,1242.8 696.1,1241.9 696.7,1241.4 697.3,1240.7 697.9,1239.9 698.5,1239.1 699.1,1238.1 699.7,1237.1 700.3,1236.5 700.9,1234.9 701.5,1233.8 702.1,1232.5 702.7,1230.6 703.3,1228.8 703.9,1226.5 704.5,1224.0 705.1,1222.0 705.7,1219.7 706.3,1217.0 706.9,1215.4 707.5,1213.2 708.1,1211.5 708.7,1210.0 709.3,1209.9 709.9,1210.2 710.5,1209.8 711.1,1211.9 711.7,1213.3 712.3,1215.5 712.9,1217.3 713.5,1220.6 714.1,1222.9 714.7,1225.4 715.3,1227.8 715.9,1230.1 716.5,1232.2 717.1,1234.2 717.7,1236.3 718.3,1237.4 718.9,1239.7 719.5,1240.1 720.1,1241.4 720.7,1242.4 721.3,1243.1 721.9,1243.8 722.5,1243.7 723.1,1245.6 723.7,1245.3 724.3,1245.5 724.9,1245.5 725.5,1246.1 726.1,1246.0 726.7,1246.4 727.3,1247.1 727.9,1247.4 728.5,1247.5 729.1,1247.5 729.7,1247.9 730.3,1248.0 730.9,1248.5 731.5,1248.7 732.1,1248.6 732.7,1249.7 733.3,1249.1 733.9,1249.1 734.5,1249.6 735.1,1250.2 735.7,1250.0 736.3,1249.8 736.9,1250.0 737.5,1250.5 738.1,1249.5 738.7,1249.6 739.3,1249.5 739.9,1250.2 740.5,1250.1 741.1,1250.5 741.7,1250.6 742.3,1250.5 742.9,1251.1 743.5,1251.0 744.1,1251.2 744.7,1251.7 745.3,1251.7 745.9,1251.1 746.5,1251.0 747.1,1252.2 747.7,1251.7 748.3,1251.7 748.9,1252.0 749.5,1252.0 750.1,1251.4 750.7,1251.5 751.3,1250.8 751.9,1250.6 752.5,1250.4 753.1,1251.3 753.7,1251.1 754.3,1251.3 754.9,1251.8 755.5,1251.2 756.1,1252.5 756.7,1251.9 757.3,1251.2 757.9,1252.2 758.5,1252.4 759.1,1251.7 759.7,1251.5 760.3,1252.1 760.9,1252.1 761.5,1251.2 762.1,1251.9 762.7,1252.1 763.3,1251.7 763.9,1252.2 764.5,1252.1 765.1,1252.4 765.7,1252.7 766.3,1252.8 766.9,1252.1 767.5,1252.0 768.1,1251.8 768.7,1252.0 769.3,1252.7 769.9,1252.3 770.5,1252.0 771.1,1252.2 771.7,1252.3 772.3,1252.3 772.9,1251.8 773.5,1252.3 774.1,1252.1 774.7,1251.8 775.3,1252.1 775.9,1252.4 776.5,1251.5 777.1,1251.6 777.7,1251.8 778.3,1251.6 778.9,1251.2 779.5,1251.4 780.1,1251.9 780.7,1251.6 781.3,1251.4 781.9,1251.3 782.5,1251.2 783.1,1251.1 783.7,1251.9 784.3,1251.5 784.9,1252.0 785.5,1251.8 786.1,1252.2 786.7,1252.2 787.3,1252.4 787.9,1252.7 788.5,1252.2 789.1,1251.6 789.7,1252.2 790.3,1252.6 790.9,1252.4 791.5,1252.3 792.1,1252.6 792.7,1252.2 793.3,1252.6 793.9,1253.1 794.5,1253.4 795.1,1253.4 795.7,1252.7 796.3,1252.5 796.9,1252.3 797.5,1252.4 798.1,1252.6 798.7,1252.5 799.3,1253.4 799.9,1252.5 800.5,1253.6 801.1,1253.5 801.7,1253.1 802.3,1253.4 802.9,1253.2 803.5,1253.7 804.1,1253.5 804.7,1253.5 805.3,1252.9 805.9,1253.5 806.5,1253.1 807.1,1253.4 807.7,1253.5 808.3,1252.8 808.9,1252.6 809.5,1252.9 810.1,1253.6 810.7,1252.8 811.3,1253.3 811.9,1253.2 812.5,1253.7 813.1,1252.9 813.7,1252.9 814.3,1252.8 814.9,1253.0 815.5,1252.6 816.1,1252.8 816.7,1252.7 817.3,1253.3 817.9,1253.3 818.5,1253.4 819.1,1252.7 819.7,1253.3 820.3,1252.8 820.9,1253.0 821.5,1253.0 822.1,1252.4 822.7,1252.9 823.3,1252.9 823.9,1253.3 824.5,1253.6 825.1,1253.5 825.7,1253.4 826.3,1253.9 826.9,1252.8 827.5,1253.0 828.1,1252.4 828.7,1252.2 829.3,1252.2 829.9,1252.4 830.5,1252.1 831.1,1253.2 831.7,1253.1 832.3,1253.4 832.9,1253.4 833.5,1253.8 834.1,1253.3 834.7,1253.5 835.3,1253.8 835.9,1253.9 836.5,1253.4 837.1,1253.4 837.7,1254.7 838.3,1254.2 838.9,1254.1 839.5,1253.9 840.1,1253.9 840.7,1253.7 841.3,1253.8 841.9,1253.6 842.5,1254.2 843.1,1254.4 843.7,1254.5 844.3,1254.7 844.9,1254.8 845.5,1255.3 846.1,1255.0 846.7,1254.6 847.3,1254.7 847.9,1254.3 848.5,1254.0 849.1,1254.2 849.7,1254.1 850.3,1254.0 850.9,1254.2 851.5,1254.6 852.1,1254.2 852.7,1254.5 853.3,1254.3 853.9,1254.6 854.5,1254.4 855.1,1254.7 855.7,1254.2 856.3,1254.3 856.9,1254.0 857.5,1253.8 858.1,1254.2 858.7,1253.5 859.3,1254.5 859.9,1254.1 860.5,1253.8 861.1,1254.1 861.7,1254.1 862.3,1254.2 862.9,1254.6 863.5,1254.4 864.1,1253.9 864.7,1253.5 865.3,1253.8 865.9,1254.0 866.5,1253.3 867.1,1254.1 867.7,1254.1 868.3,1254.3 868.9,1254.8 869.5,1254.2 870.1,1254.4 870.7,1254.0 871.3,1254.4 871.9,1253.9 872.5,1254.0 873.1,1254.1 873.7,1254.2 874.3,1254.2 874.9,1253.7 875.5,1254.5 876.1,1254.4 876.7,1254.7 877.3,1254.0 877.9,1254.2 878.5,1254.4 879.1,1254.0 879.7,1253.5 880.3,1253.3 880.9,1253.2 881.5,1253.1 882.1,1252.3 882.7,1252.5 883.3,1251.7 883.9,1252.1 884.5,1252.0 885.1,1251.5 885.7,1252.2 886.3,1251.7 886.9,1251.2 887.5,1252.1 888.1,1252.4 888.7,1252.4 889.3,1252.9 889.9,1253.3 890.5,1253.2 891.1,1253.3 891.7,1253.4 892.3,1252.8 892.9,1252.8 893.5,1252.3 894.1,1251.8 894.7,1252.2 895.3,1251.9 895.9,1252.2 896.5,1252.4 897.1,1252.8 897.7,1252.3 898.3,1253.1 898.9,1252.9 899.5,1253.1 900.1,1253.8 900.7,1253.3 901.3,1254.3 901.9,1253.9 902.5,1254.7 903.1,1254.8 903.7,1254.6 904.3,1255.1 904.9,1254.0 905.5,1254.8 906.1,1254.7 906.7,1255.0 907.3,1254.7 907.9,1255.0 908.5,1254.9 909.1,1255.1 909.7,1255.3 910.3,1254.8 910.9,1255.9 911.5,1255.6 912.1,1256.4 912.7,1255.6 913.3,1255.7 913.9,1256.1 914.5,1255.4 915.1,1255.8 915.7,1255.4 916.3,1255.6 916.9,1255.5 917.5,1255.7 918.1,1256.2 918.7,1255.3 919.3,1255.5 919.9,1255.3 920.5,1255.4 921.1,1255.4 921.7,1255.4 922.3,1255.6 922.9,1256.2 923.5,1255.3 924.1,1255.7 924.7,1256.0 925.3,1256.2 925.9,1255.4 926.5,1256.4 927.1,1255.8 927.7,1256.3 928.3,1256.0 928.9,1255.9 929.5,1255.9 930.1,1256.4 930.7,1256.5 931.3,1256.0 931.9,1256.4 932.5,1256.2 933.1,1256.4 933.7,1255.9 934.3,1256.1 934.9,1256.4 935.5,1256.7 936.1,1256.3 936.7,1255.9 937.3,1255.9 937.9,1256.4 938.5,1256.3 939.1,1256.0 939.7,1256.3 940.3,1255.9 940.9,1256.0 941.5,1256.1 942.1,1256.4 942.7,1256.0 943.3,1255.6 943.9,1255.8 944.5,1255.7 945.1,1256.2 945.7,1256.1 946.3,1256.0 946.9,1255.7 947.5,1256.1 948.1,1255.9 948.7,1255.2 949.3,1255.6 949.9,1255.7 950.5,1255.5 951.1,1255.4 951.7,1255.3 952.3,1255.4 952.9,1255.4 953.5,1255.4 954.1,1255.3 954.7,1255.3 955.3,1255.9 955.9,1256.4 956.5,1256.7 957.1,1257.3 957.7,1256.9 958.3,1256.3 958.9,1256.9 959.5,1256.6 960.1,1256.5 960.7,1256.6 961.3,1256.9 961.9,1256.5 962.5,1256.7 963.1,1256.4 963.7,1256.2 964.3,1256.3 964.9,1256.6 965.5,1255.8 966.1,1256.0 966.7,1255.9 967.3,1255.9 967.9,1255.6 968.5,1256.0 969.1,1256.0 969.7,1255.7 970.3,1256.1 970.9,1256.3 971.5,1257.1 972.1,1256.3 972.7,1256.3 973.3,1256.8 973.9,1256.8 974.5,1256.5 975.1,1255.9 975.7,1255.1 976.3,1256.3 976.9,1255.7 977.5,1256.0 978.1,1255.8 978.7,1255.8 979.3,1256.1 979.9,1256.7 980.5,1256.6 981.1,1257.1 981.7,1256.2 982.3,1256.5 982.9,1256.7 983.5,1257.1 984.1,1257.2 984.7,1256.6 985.3,1256.7 985.9,1256.4 986.5,1256.1 987.1,1256.4 987.7,1255.9 988.3,1255.9 988.9,1256.1 989.5,1256.0 990.1,1256.5 990.7,1256.1 991.3,1255.7 991.9,1255.4 992.5,1255.5 993.1,1255.7 993.7,1255.8 994.3,1255.7 994.9,1256.2 995.5,1256.3 996.1,1257.4 996.7,1257.2 997.3,1256.7 997.9,1257.0 998.5,1257.2 999.1,1257.0 999.7,1256.6 1000.3,1255.7 1000.9,1256.7 1001.5,1255.9 1002.1,1256.4 1002.7,1256.3 1003.3,1255.9 1003.9,1256.0 1004.5,1256.1 1005.1,1256.1 1005.7,1256.2 1006.3,1256.2 1006.9,1256.7 1007.5,1256.4 1008.1,1255.8 1008.7,1255.9 1009.3,1256.6 1009.9,1257.0 1010.5,1257.0 1011.1,1256.5 1011.7,1257.6 1012.3,1256.6 1012.9,1256.9 1013.5,1256.7 1014.1,1256.6 1014.7,1256.5 1015.3,1256.6 1015.9,1257.1 1016.5,1257.4 1017.1,1256.7 1017.7,1256.7 1018.3,1256.6 1018.9,1256.6 1019.5,1256.2 1020.1,1256.6 1020.7,1256.4 1021.3,1256.5 1021.9,1255.9 1022.5,1257.0 1023.1,1256.8 1023.7,1257.5 1024.3,1257.6 1024.9,1257.2 1025.5,1257.6 1026.1,1257.4 1026.7,1257.2 1027.3,1257.4 1027.9,1257.0 1028.5,1256.5 1029.1,1256.0 1029.7,1256.6 1030.3,1256.0 1030.9,1256.3 1031.5,1256.5 1032.1,1256.7 1032.7,1256.6 1033.3,1256.3 1033.9,1256.5 1034.5,1256.4 1035.1,1256.9 1035.7,1256.5 1036.3,1256.5 1036.9,1256.2 1037.5,1256.6 1038.1,1256.4 1038.7,1256.2 1039.3,1256.6 1039.9,1257.3 1040.5,1257.4 1041.1,1257.1 1041.7,1256.7 1042.3,1256.7 1042.9,1256.2 1043.5,1256.6 1044.1,1256.5 1044.7,1256.0 1045.3,1256.0 1045.9,1256.0 1046.5,1255.8 1047.1,1256.3 1047.7,1256.0 1048.3,1256.3 1048.9,1256.9 1049.5,1256.4 1050.1,1256.7 1050.7,1256.9 1051.3,1256.7 1051.9,1256.9 1052.5,1256.8 1053.1,1257.2 1053.7,1257.1 1054.3,1256.9 1054.9,1257.3 1055.5,1257.2 1056.1,1256.9 1056.7,1257.5 1057.3,1257.6 1057.9,1256.9 1058.5,1257.0 1059.1,1257.1 1059.7,1256.9 1060.3,1257.3 1060.9,1256.7 1061.5,1256.8 1062.1,1256.4 1062.7,1256.6 1063.3,1256.8 1063.9,1256.4 1064.5,1255.9 1065.1,1256.7 1065.7,1256.8 1066.3,1256.9 1066.9,1257.1 1067.5,1256.5 1068.1,1256.6 1068.7,1256.3 1069.3,1257.1 1069.9,1257.0 1070.5,1256.9 1071.1,1257.5 1071.7,1257.0 1072.3,1257.0 1072.9,1256.9 1073.5,1257.1 1074.1,1256.7 1074.7,1257.0 1075.3,1257.1 1075.9,1256.5 1076.5,1257.0 1077.1,1256.1 1077.7,1256.8 1078.3,1256.9 1078.9,1256.9 1079.5,1257.1 1080.1,1257.5 1080.7,1257.2 1081.3,1256.9 1081.9,1256.6 1082.5,1256.5 1083.1,1256.8 1083.7,1256.8 1084.3,1256.7 1084.9,1257.1 1085.5,1257.4 1086.1,1256.8 1086.7,1257.6 1087.3,1257.3 1087.9,1258.0 1088.5,1257.2 1089.1,1257.7 1089.7,1257.0 1090.3,1257.1 1090.9,1257.3 1091.5,1257.1 1092.1,1257.0 1092.7,1256.1 1093.3,1256.1 1093.9,1256.0 1094.5,1256.0 1095.1,1256.4 1095.7,1256.9 1096.3,1256.2 1096.9,1256.9 1097.5,1256.9 1098.1,1257.1 1098.7,1257.3 1099.3,1257.3 1099.9,1256.6 1100.5,1257.4 1101.1,1257.2 1101.7,1256.9 1102.3,1257.5 1102.9,1257.5 1103.5,1257.0 1104.1,1258.0 1104.7,1258.4 1105.3,1258.0 1105.9,1257.6 1106.5,1257.9 1107.1,1257.2 1107.7,1257.4 1108.3,1257.3 1108.9,1256.7 1109.5,1256.1 1110.1,1256.6 1110.7,1256.4 1111.3,1256.1 1111.9,1256.5 1112.5,1256.3 1113.1,1255.8 1113.7,1256.8 1114.3,1256.8 1114.9,1257.0 1115.5,1257.8 1116.1,1257.2 1116.7,1257.2 1117.3,1256.8 1117.9,1256.7 1118.5,1256.7 1119.1,1256.6 1119.7,1256.8 1120.3,1256.7 1120.9,1256.0 1121.5,1256.2 1122.1,1256.3 1122.7,1256.3 1123.3,1256.4 1123.9,1257.1 1124.5,1257.1 1125.1,1257.4 1125.7,1257.6 1126.3,1257.5 1126.9,1257.2 1127.5,1257.5 1128.1,1257.6 1128.7,1257.7 1129.3,1257.4 1129.9,1257.4 1130.5,1257.4 1131.1,1257.3 1131.7,1258.0 1132.3,1257.9 1132.9,1257.9 1133.5,1257.7 1134.1,1256.8 1134.7,1257.3 1135.3,1256.5 1135.9,1256.5 1136.5,1256.0 1137.1,1256.0 1137.7,1255.6 1138.3,1255.4 1138.9,1256.0 1139.5,1256.3 1140.1,1256.6 1140.7,1256.8 1141.3,1257.3 1141.9,1257.4 1142.5,1257.4 1143.1,1257.3 1143.7,1257.4 1144.3,1257.8 1144.9,1257.1 1145.5,1257.1 1146.1,1257.4 1146.7,1257.2 1147.3,1257.4 1147.9,1257.7 1148.5,1257.4 1149.1,1257.2 1149.7,1257.8 1150.3,1256.9 1150.9,1257.7 1151.5,1257.1 1152.1,1256.9 1152.7,1256.9 1153.3,1256.5 1153.9,1256.4 1154.5,1256.4 1155.1,1257.0 1155.7,1257.0 1156.3,1256.5 1156.9,1257.3 1157.5,1256.9 1158.1,1257.2 1158.7,1256.8 1159.3,1256.6 1159.9,1256.5 1160.5,1256.0 1161.1,1256.3 1161.7,1256.3 1162.3,1256.3 1162.9,1257.1 1163.5,1257.2 1164.1,1257.2 1164.7,1257.0 1165.3,1257.0 1165.9,1257.1 1166.5,1256.9 1167.1,1257.1 1167.7,1256.7 1168.3,1256.6 1168.9,1256.5 1169.5,1256.4 1170.1,1256.8 1170.7,1256.5 1171.3,1256.6 1171.9,1257.2 1172.5,1256.8 1173.1,1256.6 1173.7,1257.3 1174.3,1257.3 1174.9,1257.3 1175.5,1256.8 1176.1,1257.1 1176.7,1256.9 1177.3,1257.6 1177.9,1257.9 1178.5,1257.9 1179.1,1258.2 1179.7,1258.2 1180.3,1257.8 1180.9,1257.9 1181.5,1257.2 1182.1,1257.1 1182.7,1257.2 1183.3,1257.2 1183.9,1256.2 1184.5,1256.6 1185.1,1256.5 1185.7,1257.1 1186.3,1257.2 1186.9,1257.3 1187.5,1256.7 1188.1,1257.1 1188.7,1256.6 1189.3,1256.3 1189.9,1256.4 1190.5,1256.2 1191.1,1256.3 1191.7,1255.9 1192.3,1256.5 1192.9,1256.2 1193.5,1256.4 1194.1,1256.7 1194.7,1257.4 1195.3,1258.4 1195.9,1258.0 1196.5,1257.7 1197.1,1257.5 1197.7,1257.5 1198.3,1257.0 1198.9,1258.1 1199.5,1257.3 1200.1,1257.3 1200.7,1258.0 1201.3,1257.7 1201.9,1257.8 1202.5,1257.8 1203.1,1257.6 1203.7,1257.5 1204.3,1257.3 1204.9,1257.1 1205.5,1257.4 1206.1,1256.3 1206.7,1257.3 1207.3,1256.7 1207.9,1257.5 1208.5,1257.3 1209.1,1256.9 1209.7,1257.0 1210.3,1257.3 1210.9,1256.8 1211.5,1256.8 1212.1,1257.2 1212.7,1256.4 1213.3,1256.6 1213.9,1256.4 1214.5,1256.7 1215.1,1256.9 1215.7,1257.3 1216.3,1257.6 1216.9,1257.3 1217.5,1256.4 1218.1,1256.7 1218.7,1257.3 1219.3,1257.1 1219.9,1257.2 1220.5,1257.7 1221.1,1257.6 1221.7,1257.8 1222.3,1258.1 1222.9,1258.4 1223.5,1258.4 1224.1,1258.5 1224.7,1258.1 1225.3,1257.6 1225.9,1257.7 1226.5,1257.2 1227.1,1257.5 1227.7,1257.3 1228.3,1257.4 1228.9,1257.2 1229.5,1257.3 1230.1,1256.9 1230.7,1256.9 1231.3,1257.1 1231.9,1257.2 1232.5,1256.8 1233.1,1257.5 1233.7,1257.6 1234.3,1257.6 1234.9,1257.6 1235.5,1257.6 1236.1,1257.2 1236.7,1256.7 1237.3,1256.9 1237.9,1257.6 1238.5,1257.3 1239.1,1257.9 1239.7,1258.0 1240.3,1257.7 1240.9,1258.3 1241.5,1257.3 1242.1,1258.4 1242.7,1258.3 1243.3,1258.1 1243.9,1257.9 1244.5,1257.6 1245.1,1257.4 1245.7,1257.5 1246.3,1257.2 1246.9,1257.0 1247.5,1257.0 1248.1,1257.6 1248.7,1257.5 1249.3,1257.5 1249.9,1258.2 1250.5,1258.0 1251.1,1257.7 1251.7,1258.1 1252.3,1257.6 1252.9,1257.7 1253.5,1257.9 1254.1,1257.8 1254.7,1257.3 1255.3,1257.7 1255.9,1257.3 1256.5,1257.2 1257.1,1256.9 1257.7,1256.7 1258.3,1256.6 1258.9,1256.9 1259.5,1256.5 1260.1,1256.1 1260.7,1256.2 1261.3,1256.0 1261.9,1256.5 1262.5,1256.2 1263.1,1256.5 1263.7,1256.9 1264.3,1257.8 1264.9,1257.1 1265.5,1257.2 1266.1,1256.9 1266.7,1257.8 1267.3,1257.5 1267.9,1257.3 1268.5,1257.4 1269.1,1257.5 1269.7,1257.2 1270.3,1257.4 1270.9,1257.6 1271.5,1256.9 1272.1,1257.7 1272.7,1257.6 1273.3,1257.2 1273.9,1257.3 1274.5,1257.2 1275.1,1257.1 1275.7,1257.7 1276.3,1257.7 1276.9,1257.6 1277.5,1257.4 1278.1,1257.7 1278.7,1258.2 1279.3,1258.0 1279.9,1257.7 1280.5,1258.2 1281.1,1257.7 1281.7,1257.6 1282.3,1257.4 1282.9,1256.8 1283.5,1257.1 1284.1,1257.1 1284.7,1256.7 1285.3,1257.6 1285.9,1256.7 1286.5,1257.3 1287.1,1257.3 1287.7,1257.7 1288.3,1257.5 1288.9,1257.4 1289.5,1256.8 1290.1,1257.0 1290.7,1256.9 1291.3,1256.6 1291.9,1256.2 1292.5,1256.3 1293.1,1256.6 1293.7,1257.0 1294.3,1256.7 1294.9,1257.1 1295.5,1257.2 1296.1,1256.8 1296.7,1257.3 1297.3,1256.8 1297.9,1257.2 1298.5,1257.7 1299.1,1256.7 1299.7,1257.1 1300.3,1257.5 1300.9,1257.0 1301.5,1256.6 1302.1,1256.8 1302.7,1256.3 1303.3,1256.7 1303.9,1256.8 1304.5,1256.6 1305.1,1256.7 1305.7,1256.3 1306.3,1257.3 1306.9,1257.0 1307.5,1257.4 1308.1,1257.5 1308.7,1257.7 1309.3,1258.0 1309.9,1258.0 1310.5,1257.6 1311.1,1257.2 1311.7,1257.6 1312.3,1256.6 1312.9,1257.2 1313.5,1256.6 1314.1,1256.9 1314.7,1257.3 1315.3,1257.4 1315.9,1257.4 1316.5,1257.8 1317.1,1257.7 1317.7,1257.5 1318.3,1257.6 1318.9,1257.5 1319.5,1257.9 1320.1,1258.6 1320.7,1258.1 1321.3,1258.1 1321.9,1257.7 1322.5,1257.2 1323.1,1257.4 1323.7,1257.4 1324.3,1256.9 1324.9,1256.7 1325.5,1257.0 1326.1,1257.3 1326.7,1257.0 1327.3,1257.9 1327.9,1257.2 1328.5,1257.3 1329.1,1257.0 1329.7,1257.6 1330.3,1256.9 1330.9,1257.4 1331.5,1257.6 1332.1,1257.6 1332.7,1257.6 1333.3,1257.2 1333.9,1257.8 1334.5,1257.6 1335.1,1257.2 1335.7,1258.5 1336.3,1258.0 1336.9,1258.1 1337.5,1258.1 1338.1,1257.8 1338.7,1257.7 1339.3,1258.1 1339.9,1258.3 1340.5,1258.3 1341.1,1257.6 1341.7,1258.2 1342.3,1257.4 1342.9,1258.0 1343.5,1257.4 1344.1,1257.5 1344.7,1257.1 1345.3,1256.8 1345.9,1256.8 1346.5,1256.8 1347.1,1257.0 1347.7,1257.7 1348.3,1257.5 1348.9,1257.5 1349.5,1257.7 1350.1,1257.3 1350.7,1257.3 1351.3,1257.1 1351.9,1257.4 1352.5,1257.4 1353.1,1256.5 1353.7,1256.8 1354.3,1257.5 1354.9,1257.5 1355.5,1258.0 1356.1,1257.8 1356.7,1257.4 1357.3,1258.2 1357.9,1256.9 1358.5,1257.5 1359.1,1257.8 1359.7,1257.7 1360.3,1257.3 1360.9,1257.2 1361.5,1257.8 1362.1,1257.5 1362.7,1257.5 1363.3,1257.6 1363.9,1257.4 1364.5,1257.8 1365.1,1257.7 1365.7,1256.7 1366.3,1257.2 1366.9,1256.9 1367.5,1256.5 1368.1,1257.1 1368.7,1257.3 1369.3,1257.3 1369.9,1257.9 1370.5,1258.3 1371.1,1257.8 1371.7,1257.7 1372.3,1257.8 1372.9,1258.1 1373.5,1258.4 1374.1,1257.7 1374.7,1257.5 1375.3,1257.4 1375.9,1257.4 1376.5,1258.1 1377.1,1257.8 1377.7,1256.8 1378.3,1257.5 1378.9,1257.7 1379.5,1257.5 1380.1,1257.6 1380.7,1257.5 1381.3,1257.7 1381.9,1258.0 1382.5,1256.6 1383.1,1257.5 1383.7,1257.8 1384.3,1257.4 1384.9,1257.3 1385.5,1257.4 1386.1,1257.5 1386.7,1257.4 1387.3,1257.2 1387.9,1256.6 1388.5,1257.2 1389.1,1257.4 1389.7,1256.9 1390.3,1256.6 1390.9,1257.6 1391.5,1257.9 1392.1,1257.3 1392.7,1258.0 1393.3,1257.4 1393.9,1257.6 1394.5,1257.9 1395.1,1257.3 1395.7,1257.8 1396.3,1257.5 1396.9,1258.0 1397.5,1257.3 1398.1,1257.4 1398.7,1257.4 1399.3,1257.2 1399.9,1257.3 1400.5,1257.3 1401.1,1257.9 1401.7,1257.4 1402.3,1257.5 1402.9,1257.4 1403.5,1257.3 1404.1,1257.4 1404.7,1256.9 1405.3,1256.7 1405.9,1256.5 1406.5,1256.7 1407.1,1257.1 1407.7,1257.0 1408.3,1257.6 1408.9,1258.1 1409.5,1257.5 1410.1,1258.1 1410.7,1257.3 1411.3,1257.8 1411.9,1258.3 1412.5,1258.4 1413.1,1258.3 1413.7,1259.0 1414.3,1259.6 1414.9,1259.0 1415.5,1258.3 1416.1,1258.2 1416.7,1257.9 1417.3,1257.9 1417.9,1258.0 1418.5,1257.6 1419.1,1257.8 1419.7,1257.2 1420.3,1257.3 1420.9,1257.6 1421.5,1257.2 1422.1,1257.6 1422.7,1257.6 1423.3,1257.0 1423.9,1257.3 1424.5,1257.5 1425.1,1257.6 1425.7,1257.8 1426.3,1257.6 1426.9,1258.4 1427.5,1258.2 1428.1,1258.3 1428.7,1258.3 1429.3,1257.6 1429.9,1258.0 1430.5,1257.3 1431.1,1257.9 1431.7,1256.8 1432.3,1257.5 1432.9,1256.9 1433.5,1257.1 1434.1,1257.3 1434.7,1256.7 1435.3,1256.8 1435.9,1257.1 1436.5,1256.6 1437.1,1256.5 1437.7,1257.4 1438.3,1257.8 1438.9,1258.1 1439.5,1257.9 1440.1,1257.8 1440.7,1258.0 1441.3,1257.6 1441.9,1257.7 1442.5,1256.7 1443.1,1257.5 1443.7,1257.2 1444.3,1257.1 1444.9,1257.3 1445.5,1257.0 1446.1,1257.4 1446.7,1257.2 1447.3,1256.9 1447.9,1257.2 1448.5,1256.8 1449.1,1256.4 1449.7,1256.7 1450.3,1257.4 1450.9,1257.3 1451.5,1257.4 1452.1,1257.3 1452.7,1256.7 1453.3,1257.4 1453.9,1257.3 1454.5,1257.4 1455.1,1257.1 1455.7,1257.1 1456.3,1257.5 1456.9,1256.8 1457.5,1257.3 1458.1,1257.2 1458.7,1257.6 1459.3,1257.6 1459.9,1257.7 1460.5,1257.1 1461.1,1256.8 1461.7,1256.9 1462.3,1256.7 1462.9,1256.0 1463.5,1254.9 1464.1,1255.5 1464.7,1255.1 1465.3,1254.5 1465.9,1254.8 1466.5,1255.0 1467.1,1254.9 1467.7,1254.9 1468.3,1254.9 1468.9,1254.4 1469.5,1254.6 1470.1,1254.0 1470.7,1253.3 1471.3,1253.0 1471.9,1252.6 1472.5,1252.6 1473.1,1251.9 1473.7,1251.3 1474.3,1250.9 1474.9,1250.2 1475.5,1249.7 1476.1,1249.4 1476.7,1248.5 1477.3,1247.5 1478.2,1245.8" stroke-width="2.4"/>
<path d="M216.1,1731.2 216.7,1731.4 217.3,1731.6 217.9,1730.3 218.5,1730.7 219.1,1729.5 219.7,1729.9 220.3,1729.4 220.9,1729.7 221.5,1729.5 222.1,1729.6 222.7,1729.3 223.3,1729.4 223.9,1728.4 224.5,1728.2 225.1,1727.8 225.7,1728.0 226.3,1727.6 226.9,1728.0 227.5,1727.6 228.1,1727.1 228.7,1726.6 229.3,1726.6 229.9,1725.7 230.5,1726.0 231.1,1725.3 231.7,1725.6 232.3,1724.7 232.9,1724.2 233.5,1723.5 234.1,1723.2 234.7,1722.7 235.3,1722.1 235.9,1721.0 236.5,1720.6 237.1,1719.8 237.7,1719.6 238.3,1719.1 238.9,1718.6 239.5,1718.3 240.1,1718.7 240.7,1718.5 241.3,1718.1 241.9,1718.1 242.5,1718.5 243.1,1718.4 243.7,1719.1 244.3,1719.3 244.9,1719.4 245.5,1719.1 246.1,1720.4 246.7,1720.5 247.3,1719.6 247.9,1720.2 248.5,1719.6 249.1,1719.6 249.7,1719.7 250.3,1719.5 250.9,1718.5 251.5,1718.1 252.1,1717.4 252.7,1717.4 253.3,1717.2 253.9,1717.1 254.5,1716.5 255.1,1716.1 255.7,1716.2 256.3,1715.8 256.9,1715.1 257.5,1714.8 258.1,1714.0 258.7,1714.0 259.3,1714.2 259.9,1714.0 260.5,1713.3 261.1,1713.4 261.7,1713.1 262.3,1712.9 262.9,1713.0 263.5,1712.6 264.1,1711.2 264.7,1711.5 265.3,1710.5 265.9,1709.2 266.5,1707.9 267.1,1705.5 267.7,1702.8 268.3,1698.3 268.9,1692.3 269.5,1684.6 270.1,1675.1 270.7,1661.0 271.3,1645.3 271.9,1626.0 272.5,1602.0 273.1,1575.4 273.7,1546.3 274.3,1516.1 274.9,1487.2 275.5,1460.5 276.1,1436.2 276.7,1420.0 277.3,1411.0 277.9,1410.5 278.5,1418.1 279.1,1434.5 279.7,1456.0 280.3,1482.9 280.9,1511.4 281.5,1541.7 282.1,1570.3 282.7,1596.7 283.3,1621.0 283.9,1641.7 284.5,1658.6 285.1,1672.1 285.7,1682.2 286.3,1690.9 286.9,1696.7 287.5,1701.2 288.1,1704.6 288.7,1706.1 289.3,1708.5 289.9,1709.1 290.5,1710.8 291.1,1711.5 291.7,1712.8 292.3,1713.4 292.9,1714.3 293.5,1715.4 294.1,1715.7 294.7,1716.7 295.3,1716.5 295.9,1717.5 296.5,1717.1 297.1,1718.5 297.7,1718.8 298.3,1719.8 298.9,1719.9 299.5,1720.6 300.1,1721.1 300.7,1721.2 301.3,1721.9 301.9,1722.1 302.5,1722.1 303.1,1722.8 303.7,1722.6 304.3,1722.3 304.9,1723.3 305.5,1723.4 306.1,1724.1 306.7,1724.6 307.3,1725.1 307.9,1724.9 308.5,1725.0 309.1,1725.5 309.7,1725.0 310.3,1725.2 310.9,1724.8 311.5,1725.7 312.1,1725.8 312.7,1726.2 313.3,1726.8 313.9,1727.0 314.5,1727.4 315.1,1728.3 315.7,1728.5 316.3,1728.8 316.9,1728.8 317.5,1728.7 318.1,1728.8 318.7,1727.9 319.3,1727.6 319.9,1727.5 320.5,1727.2 321.1,1727.2 321.7,1727.4 322.3,1727.6 322.9,1727.2 323.5,1727.0 324.1,1726.8 324.7,1726.8 325.3,1726.0 325.9,1726.0 326.5,1726.2 327.1,1726.5 327.7,1726.3 328.3,1727.2 328.9,1727.5 329.5,1726.6 330.1,1726.9 330.7,1727.3 331.3,1727.1 331.9,1727.3 332.5,1726.9 333.1,1727.6 333.7,1727.8 334.3,1727.8 334.9,1727.7 335.5,1727.8 336.1,1727.9 336.7,1728.3 337.3,1728.8 337.9,1729.1 338.5,1729.2 339.1,1729.5 339.7,1729.9 340.3,1729.2 340.9,1729.8 341.5,1729.4 342.1,1730.1 342.7,1729.7 343.3,1729.8 343.9,1730.2 344.5,1730.6 345.1,1730.1 345.7,1730.6 346.3,1730.3 346.9,1731.0 347.5,1730.1 348.1,1730.5 348.7,1730.1 349.3,1730.6 349.9,1730.1 350.5,1730.0 351.1,1730.6 351.7,1730.2 352.3,1730.4 352.9,1731.5 353.5,1731.8 354.1,1731.2 354.7,1731.3 355.3,1732.1 355.9,1731.4 356.5,1731.1 357.1,1731.0 357.7,1731.0 358.3,1731.1 358.9,1731.0 359.5,1731.1 360.1,1731.5 360.7,1731.3 361.3,1731.1 361.9,1731.3 362.5,1731.3 363.1,1730.9 363.7,1730.4 364.3,1731.2 364.9,1731.8 365.5,1731.0 366.1,1731.9 366.7,1731.7 367.3,1732.4 367.9,1731.4 368.5,1731.6 369.1,1731.6 369.7,1731.3 370.3,1731.3 370.9,1731.4 371.5,1730.6 372.1,1730.5 372.7,1731.6 373.3,1731.3 373.9,1730.8 374.5,1730.5 375.1,1731.5 375.7,1731.4 376.3,1732.0 376.9,1731.8 377.5,1732.5 378.1,1732.9 378.7,1732.3 379.3,1732.5 379.9,1732.7 380.5,1732.7 381.1,1732.7 381.7,1733.2 382.3,1733.2 382.9,1733.4 383.5,1732.7 384.1,1732.2 384.7,1732.5 385.3,1732.2 385.9,1732.2 386.5,1732.0 387.1,1731.8 387.7,1732.0 388.3,1731.6 388.9,1731.3 389.5,1731.4 390.1,1731.1 390.7,1732.2 391.3,1732.0 391.9,1731.5 392.5,1731.5 393.1,1732.1 393.7,1732.1 394.3,1732.1 394.9,1732.0 395.5,1732.1 396.1,1733.0 396.7,1732.5 397.3,1732.2 397.9,1731.7 398.5,1731.6 399.1,1731.5 399.7,1731.7 400.3,1731.2 400.9,1731.4 401.5,1731.6 402.1,1731.2 402.7,1731.1 403.3,1732.3 403.9,1731.8 404.5,1732.1 405.1,1732.5 405.7,1732.3 406.3,1732.1 406.9,1732.1 407.5,1731.8 408.1,1732.0 408.7,1732.1 409.3,1732.1 409.9,1731.4 410.5,1731.8 411.1,1732.1 411.7,1731.9 412.3,1732.0 412.9,1731.5 413.5,1731.5 414.1,1732.2 414.7,1732.4 415.3,1732.2 415.9,1732.1 416.5,1732.7 417.1,1732.2 417.7,1732.4 418.3,1732.9 418.9,1732.5 419.5,1732.4 420.1,1732.1 420.7,1731.5 421.3,1732.3 421.9,1731.9 422.5,1732.2 423.1,1731.5 423.7,1732.0 424.3,1732.2 424.9,1732.3 425.5,1731.8 426.1,1731.4 426.7,1731.9 427.3,1732.0 427.9,1732.3 428.5,1732.2 429.1,1732.5 429.7,1732.2 430.3,1732.0 430.9,1732.5 431.5,1732.3 432.1,1732.3 432.7,1732.5 433.3,1732.5 433.9,1732.2 434.5,1732.4 435.1,1732.5 435.7,1732.0 436.3,1731.4 436.9,1731.9 437.5,1731.8 438.1,1732.0 438.7,1731.2 439.3,1731.7 439.9,1732.0 440.5,1732.2 441.1,1731.9 441.7,1731.7 442.3,1731.4 442.9,1731.0 443.5,1730.5 444.1,1730.0 444.7,1729.9 445.3,1729.6 445.9,1729.1 446.5,1728.5 447.1,1728.1 447.7,1728.1 448.3,1726.7 448.9,1725.5 449.5,1724.8 450.1,1723.3 450.7,1722.4 451.3,1721.9 451.9,1720.9 452.5,1719.4 453.1,1718.3 453.7,1717.9 454.3,1716.8 454.9,1716.5 455.5,1715.5 456.1,1715.7 456.7,1715.9 457.3,1716.0 457.9,1716.5 458.5,1718.5 459.1,1719.4 459.7,1720.7 460.3,1722.1 460.9,1723.3 461.5,1724.7 462.1,1725.4 462.7,1727.2 463.3,1727.5 463.9,1727.9 464.5,1728.0 465.1,1728.8 465.7,1729.2 466.3,1728.8 466.9,1729.0 467.5,1728.8 468.1,1728.6 468.7,1729.6 469.3,1728.5 469.9,1728.1 470.5,1728.0 471.1,1727.0 471.7,1726.7 472.3,1725.3 472.9,1725.7 473.5,1724.6 474.1,1724.3 474.7,1722.9 475.3,1722.0 475.9,1721.1 476.5,1719.9 477.1,1718.8 477.7,1718.0 478.3,1716.7 478.9,1715.6 479.5,1714.8 480.1,1713.8 480.7,1713.4 481.3,1713.8 481.9,1713.5 482.5,1714.3 483.1,1715.0 483.7,1715.9 484.3,1716.9 484.9,1718.5 485.5,1719.5 486.1,1719.7 486.7,1721.2 487.3,1722.3 487.9,1723.4 488.5,1724.1 489.1,1725.4 489.7,1726.3 490.3,1726.1 490.9,1728.0 491.5,1728.1 492.1,1728.6 492.7,1729.4 493.3,1729.6 493.9,1729.7 494.5,1730.9 495.1,1731.5 495.7,1731.5 496.3,1731.6 496.9,1730.8 497.5,1731.7 498.1,1731.5 498.7,1731.0 499.3,1731.0 499.9,1731.1 500.5,1730.8 501.1,1731.4 501.7,1730.9 502.3,1731.6 502.9,1731.3 503.5,1731.9 504.1,1731.5 504.7,1731.7 505.3,1731.5 505.9,1730.9 506.5,1731.3 507.1,1731.4 507.7,1731.4 508.3,1731.5 508.9,1732.2 509.5,1732.1 510.1,1732.5 510.7,1732.6 511.3,1732.6 511.9,1732.6 512.5,1732.9 513.1,1732.5 513.7,1732.4 514.3,1732.2 514.9,1732.2 515.5,1731.4 516.1,1731.6 516.7,1731.6 517.3,1731.7 517.9,1731.4 518.5,1731.3 519.1,1731.7 519.7,1731.7 520.3,1732.3 520.9,1731.9 521.5,1732.5 522.1,1732.3 522.7,1731.5 523.3,1732.2 523.9,1732.3 524.5,1732.3 525.1,1732.5 525.7,1731.9 526.3,1732.1 526.9,1732.1 527.5,1732.6 528.1,1732.4 528.7,1732.6 529.3,1732.8 529.9,1733.1 530.5,1732.9 531.1,1733.8 531.7,1733.1 532.3,1732.9 532.9,1733.3 533.5,1733.5 534.1,1732.6 534.7,1732.9 535.3,1732.7 535.9,1732.1 536.5,1732.1 537.1,1732.8 537.7,1732.5 538.3,1732.7 538.9,1732.5 539.5,1732.7 540.1,1732.4 540.7,1732.9 541.3,1732.5 541.9,1732.5 542.5,1732.2 543.1,1731.6 543.7,1732.8 544.3,1731.9 544.9,1732.2 545.5,1732.0 546.1,1732.4 546.7,1732.2 547.3,1732.5 547.9,1732.7 548.5,1731.9 549.1,1732.0 549.7,1732.1 550.3,1731.9 550.9,1732.1 551.5,1732.3 552.1,1731.2 552.7,1732.1 553.3,1731.5 553.9,1731.5 554.5,1731.2 555.1,1731.8 555.7,1731.1 556.3,1731.0 556.9,1730.7 557.5,1730.7 558.1,1730.8 558.7,1731.1 559.3,1731.5 559.9,1730.9 560.5,1730.6 561.1,1731.0 561.7,1730.6 562.3,1730.2 562.9,1730.4 563.5,1729.1 564.1,1728.4 564.7,1728.6 565.3,1727.9 565.9,1726.9 566.5,1726.1 567.1,1725.6 567.7,1725.1 568.3,1724.1 568.9,1723.1 569.5,1721.7 570.1,1720.5 570.7,1718.5 571.3,1716.8 571.9,1714.9 572.5,1714.0 573.1,1712.0 573.7,1710.5 574.3,1710.2 574.9,1709.0 575.5,1709.1 576.1,1709.1 576.7,1709.3 577.3,1710.6 577.9,1711.2 578.5,1713.2 579.1,1713.5 579.7,1715.2 580.3,1716.4 580.9,1718.8 581.5,1719.5 582.1,1721.1 582.7,1722.6 583.3,1723.0 583.9,1724.9 584.5,1726.2 585.1,1727.1 585.7,1727.5 586.3,1728.0 586.9,1727.7 587.5,1728.3 588.1,1728.6 588.7,1729.2 589.3,1729.0 589.9,1729.6 590.5,1729.6 591.1,1730.5 591.7,1731.3 592.3,1731.3 592.9,1731.6 593.5,1731.2 594.1,1731.3 594.7,1731.6 595.3,1731.3 595.9,1731.8 596.5,1731.0 597.1,1730.8 597.7,1730.9 598.3,1731.1 598.9,1731.3 599.5,1731.2 600.1,1731.8 600.7,1731.6 601.3,1730.8 601.9,1730.4 602.5,1729.5 603.1,1728.6 603.7,1727.6 604.3,1725.9 604.9,1724.9 605.5,1723.3 606.1,1723.0 606.7,1721.9 607.3,1721.4 607.9,1720.7 608.5,1720.8 609.1,1720.1 609.7,1720.9 610.3,1721.3 610.9,1721.9 611.5,1722.6 612.1,1724.5 612.7,1725.2 613.3,1726.1 613.9,1726.8 614.5,1728.4 615.1,1728.5 615.7,1728.7 616.3,1729.8 616.9,1730.1 617.5,1729.3 618.1,1729.9 618.7,1729.0 619.3,1728.7 619.9,1727.2 620.5,1726.9 621.1,1725.2 621.7,1724.3 622.3,1723.6 622.9,1722.7 623.5,1721.8 624.1,1721.4 624.7,1720.9 625.3,1720.9 625.9,1721.3 626.5,1721.8 627.1,1723.2 627.7,1723.7 628.3,1725.3 628.9,1726.5 629.5,1727.7 630.1,1728.6 630.7,1729.4 631.3,1730.1 631.9,1731.5 632.5,1731.6 633.1,1731.8 633.7,1731.7 634.3,1732.5 634.9,1732.7 635.5,1732.8 636.1,1732.5 636.7,1733.4 637.3,1733.7 637.9,1733.3 638.5,1734.2 639.1,1734.3 639.7,1733.9 640.3,1733.4 640.9,1733.8 641.5,1732.7 642.1,1733.1 642.7,1733.3 643.3,1733.4 643.9,1732.7 644.5,1733.5 645.1,1733.7 645.7,1733.7 646.3,1734.3 646.9,1733.9 647.5,1734.3 648.1,1733.9 648.7,1732.9 649.3,1733.2 649.9,1734.1 650.5,1733.1 651.1,1734.1 651.7,1734.2 652.3,1734.7 652.9,1734.7 653.5,1734.5 654.1,1734.7 654.7,1734.6 655.3,1734.7 655.9,1734.2 656.5,1734.7 657.1,1735.2 657.7,1734.6 658.3,1734.5 658.9,1734.7 659.5,1735.1 660.1,1734.5 660.7,1734.5 661.3,1735.1 661.9,1734.9 662.5,1734.8 663.1,1734.9 663.7,1734.4 664.3,1734.8 664.9,1735.1 665.5,1735.2 666.1,1734.8 666.7,1734.9 667.3,1734.8 667.9,1734.4 668.5,1734.2 669.1,1734.7 669.7,1734.1 670.3,1733.9 670.9,1734.1 671.5,1733.6 672.1,1733.8 672.7,1733.8 673.3,1734.5 673.9,1734.1 674.5,1734.3 675.1,1734.5 675.7,1734.4 676.3,1734.6 676.9,1734.0 677.5,1734.1 678.1,1733.5 678.7,1733.6 679.3,1734.0 679.9,1734.0 680.5,1734.3 681.1,1734.3 681.7,1734.8 682.3,1734.8 682.9,1734.8 683.5,1735.0 684.1,1734.9 684.7,1734.9 685.3,1734.7 685.9,1733.9 686.5,1734.4 687.1,1733.9 687.7,1733.7 688.3,1734.0 688.9,1734.2 689.5,1733.9 690.1,1734.1 690.7,1733.8 691.3,1734.5 691.9,1734.3 692.5,1734.1 693.1,1733.7 693.7,1733.5 694.3,1732.7 694.9,1733.2 695.5,1733.9 696.1,1733.2 696.7,1733.7 697.3,1732.7 697.9,1733.4 698.5,1732.9 699.1,1733.0 699.7,1732.2 700.3,1732.5 700.9,1732.6 701.5,1733.0 702.1,1733.4 702.7,1733.3 703.3,1733.5 703.9,1733.6 704.5,1734.1 705.1,1733.8 705.7,1734.2 706.3,1734.0 706.9,1733.8 707.5,1733.4 708.1,1733.1 708.7,1732.3 709.3,1732.1 709.9,1731.9 710.5,1731.7 711.1,1731.6 711.7,1730.8 712.3,1730.3 712.9,1729.8 713.5,1728.3 714.1,1726.9 714.7,1725.6 715.3,1725.1 715.9,1722.5 716.5,1721.4 717.1,1719.3 717.7,1717.5 718.3,1714.4 718.9,1711.3 719.5,1707.7 720.1,1704.2 720.7,1701.1 721.3,1697.7 721.9,1695.6 722.5,1692.7 723.1,1692.0 723.7,1690.7 724.3,1691.2 724.9,1691.6 725.5,1692.7 726.1,1694.9 726.7,1697.3 727.3,1700.4 727.9,1702.6 728.5,1706.2 729.1,1709.7 729.7,1712.7 730.3,1714.6 730.9,1717.9 731.5,1720.4 732.1,1722.8 732.7,1724.8 733.3,1726.4 733.9,1727.9 734.5,1729.4 735.1,1730.2 735.7,1731.8 736.3,1732.0 736.9,1732.4 737.5,1733.0 738.1,1732.9 738.7,1732.8 739.3,1733.2 739.9,1733.7 740.5,1734.4 741.1,1734.6 741.7,1735.0 742.3,1734.7 742.9,1735.1 743.5,1734.0 744.1,1734.1 744.7,1735.0 745.3,1734.5 745.9,1734.5 746.5,1734.3 747.1,1734.3 747.7,1733.9 748.3,1733.8 748.9,1734.5 749.5,1733.8 750.1,1734.6 750.7,1733.7 751.3,1734.3 751.9,1734.3 752.5,1734.1 753.1,1733.9 753.7,1734.2 754.3,1734.3 754.9,1733.8 755.5,1734.3 756.1,1733.9 756.7,1734.3 757.3,1734.5 757.9,1735.1 758.5,1734.7 759.1,1734.2 759.7,1734.6 760.3,1734.0 760.9,1734.3 761.5,1734.9 762.1,1734.6 762.7,1734.7 763.3,1734.5 763.9,1733.7 764.5,1734.1 765.1,1734.4 765.7,1733.8 766.3,1733.9 766.9,1733.8 767.5,1733.7 768.1,1733.6 768.7,1734.8 769.3,1734.4 769.9,1735.1 770.5,1734.7 771.1,1735.3 771.7,1734.5 772.3,1735.0 772.9,1734.4 773.5,1734.2 774.1,1734.5 774.7,1734.7 775.3,1735.2 775.9,1734.9 776.5,1735.3 777.1,1734.9 777.7,1735.3 778.3,1735.6 778.9,1735.8 779.5,1735.7 780.1,1735.7 780.7,1735.2 781.3,1735.7 781.9,1735.6 782.5,1735.1 783.1,1734.9 783.7,1735.0 784.3,1735.1 784.9,1735.0 785.5,1734.6 786.1,1734.5 786.7,1734.4 787.3,1734.9 787.9,1735.2 788.5,1735.8 789.1,1735.1 789.7,1734.8 790.3,1735.0 790.9,1734.9 791.5,1734.5 792.1,1734.5 792.7,1734.1 793.3,1734.5 793.9,1733.8 794.5,1734.0 795.1,1734.0 795.7,1733.3 796.3,1733.5 796.9,1734.1 797.5,1734.3 798.1,1734.2 798.7,1734.7 799.3,1734.9 799.9,1734.6 800.5,1734.2 801.1,1734.5 801.7,1733.7 802.3,1733.5 802.9,1733.8 803.5,1733.5 804.1,1732.9 804.7,1733.6 805.3,1734.4 805.9,1733.7 806.5,1734.4 807.1,1733.7 807.7,1734.5 808.3,1735.0 808.9,1735.3 809.5,1736.0 810.1,1735.4 810.7,1735.0 811.3,1735.3 811.9,1734.4 812.5,1734.2 813.1,1734.2 813.7,1733.9 814.3,1733.5 814.9,1734.1 815.5,1733.9 816.1,1734.0 816.7,1734.3 817.3,1734.0 817.9,1734.4 818.5,1734.7 819.1,1735.2 819.7,1734.6 820.3,1734.7 820.9,1735.3 821.5,1735.2 822.1,1735.3 822.7,1735.9 823.3,1735.8 823.9,1736.0 824.5,1736.1 825.1,1735.9 825.7,1735.8 826.3,1736.1 826.9,1735.0 827.5,1735.5 828.1,1735.4 828.7,1735.8 829.3,1735.5 829.9,1735.5 830.5,1735.6 831.1,1735.5 831.7,1735.0 832.3,1735.0 832.9,1735.2 833.5,1735.3 834.1,1734.9 834.7,1734.9 835.3,1735.3 835.9,1735.7 836.5,1735.5 837.1,1735.9 837.7,1736.2 838.3,1736.2 838.9,1736.2 839.5,1736.3 840.1,1736.0 840.7,1736.6 841.3,1735.5 841.9,1735.2 842.5,1735.2 843.1,1735.2 843.7,1735.2 844.3,1736.1 844.9,1736.2 845.5,1735.8 846.1,1736.4 846.7,1736.6 847.3,1736.1 847.9,1736.6 848.5,1736.7 849.1,1736.5 849.7,1736.2 850.3,1736.4 850.9,1735.5 851.5,1736.2 852.1,1737.1 852.7,1736.4 853.3,1736.8 853.9,1737.5 854.5,1736.6 855.1,1736.3 855.7,1736.8 856.3,1736.6 856.9,1736.7 857.5,1736.2 858.1,1736.2 858.7,1735.4 859.3,1735.7 859.9,1736.2 860.5,1735.8 861.1,1735.3 861.7,1735.2 862.3,1735.9 862.9,1735.5 863.5,1735.5 864.1,1735.9 864.7,1736.0 865.3,1735.8 865.9,1735.3 866.5,1736.1 867.1,1735.9 867.7,1735.6 868.3,1736.8 868.9,1736.5 869.5,1735.9 870.1,1736.4 870.7,1736.1 871.3,1736.2 871.9,1736.2 872.5,1736.2 873.1,1736.1 873.7,1736.7 874.3,1736.3 874.9,1735.4 875.5,1736.3 876.1,1736.0 876.7,1736.0 877.3,1736.1 877.9,1736.5 878.5,1735.8 879.1,1736.3 879.7,1735.7 880.3,1736.0 880.9,1735.5 881.5,1735.9 882.1,1734.9 882.7,1736.0 883.3,1736.2 883.9,1735.9 884.5,1736.3 885.1,1736.7 885.7,1735.8 886.3,1735.8 886.9,1736.5 887.5,1736.2 888.1,1736.9 888.7,1736.6 889.3,1737.0 889.9,1736.4 890.5,1737.1 891.1,1737.0 891.7,1737.2 892.3,1737.1 892.9,1736.5 893.5,1736.1 894.1,1735.8 894.7,1736.5 895.3,1735.8 895.9,1736.3 896.5,1736.0 897.1,1736.2 897.7,1736.1 898.3,1736.4 898.9,1736.1 899.5,1736.1 900.1,1736.8 900.7,1736.5 901.3,1735.9 901.9,1736.2 902.5,1736.4 903.1,1736.3 903.7,1736.7 904.3,1736.9 904.9,1736.9 905.5,1736.4 906.1,1736.4 906.7,1737.0 907.3,1737.0 907.9,1736.8 908.5,1736.2 909.1,1735.7 909.7,1735.5 910.3,1735.2 910.9,1735.4 911.5,1735.0 912.1,1734.9 912.7,1734.6 913.3,1734.9 913.9,1735.2 914.5,1734.9 915.1,1735.2 915.7,1735.5 916.3,1735.7 916.9,1735.9 917.5,1735.5 918.1,1735.4 918.7,1736.0 919.3,1735.7 919.9,1736.1 920.5,1734.9 921.1,1735.0 921.7,1734.5 922.3,1734.2 922.9,1733.4 923.5,1733.0 924.1,1733.1 924.7,1732.8 925.3,1732.5 925.9,1732.3 926.5,1731.6 927.1,1731.2 927.7,1731.0 928.3,1730.4 928.9,1729.8 929.5,1730.8 930.1,1730.2 930.7,1729.8 931.3,1729.5 931.9,1729.4 932.5,1730.0 933.1,1730.7 933.7,1730.6 934.3,1731.4 934.9,1731.3 935.5,1731.4 936.1,1731.5 936.7,1731.9 937.3,1731.8 937.9,1732.6 938.5,1733.6 939.1,1733.7 939.7,1734.0 940.3,1734.1 940.9,1734.8 941.5,1734.7 942.1,1734.4 942.7,1735.1 943.3,1734.6 943.9,1734.8 944.5,1734.5 945.1,1734.3 945.7,1733.8 946.3,1733.4 946.9,1733.2 947.5,1733.0 948.1,1732.8 948.7,1733.0 949.3,1732.4 949.9,1732.8 950.5,1732.5 951.1,1733.7 951.7,1733.1 952.3,1733.5 952.9,1734.2 953.5,1734.1 954.1,1734.2 954.7,1734.7 955.3,1735.1 955.9,1735.2 956.5,1735.4 957.1,1735.1 957.7,1735.5 958.3,1735.0 958.9,1735.5 959.5,1735.6 960.1,1736.3 960.7,1735.7 961.3,1736.6 961.9,1736.4 962.5,1736.1 963.1,1735.9 963.7,1736.1 964.3,1735.2 964.9,1735.3 965.5,1735.6 966.1,1734.5 966.7,1734.7 967.3,1734.8 967.9,1735.6 968.5,1735.3 969.1,1736.7 969.7,1736.5 970.3,1737.0 970.9,1736.7 971.5,1736.8 972.1,1736.4 972.7,1736.8 973.3,1736.6 973.9,1736.5 974.5,1735.6 975.1,1735.6 975.7,1735.6 976.3,1735.2 976.9,1734.9 977.5,1734.8 978.1,1734.2 978.7,1734.7 979.3,1734.5 979.9,1735.1 980.5,1734.8 981.1,1735.2 981.7,1735.0 982.3,1735.1 982.9,1734.9 983.5,1734.8 984.1,1734.7 984.7,1735.0 985.3,1735.3 985.9,1735.0 986.5,1734.5 987.1,1734.3 987.7,1733.9 988.3,1733.3 988.9,1733.4 989.5,1733.1 990.1,1733.8 990.7,1732.7 991.3,1732.8 991.9,1732.1 992.5,1731.7 993.1,1731.6 993.7,1731.3 994.3,1730.9 994.9,1730.9 995.5,1731.5 996.1,1731.0 996.7,1731.6 997.3,1731.1 997.9,1731.3 998.5,1730.9 999.1,1731.1 999.7,1730.5 1000.3,1731.5 1000.9,1731.6 1001.5,1731.3 1002.1,1730.9 1002.7,1731.5 1003.3,1731.4 1003.9,1731.7 1004.5,1732.7 1005.1,1733.3 1005.7,1733.4 1006.3,1734.7 1006.9,1735.1 1007.5,1735.2 1008.1,1735.8 1008.7,1735.7 1009.3,1736.1 1009.9,1736.2 1010.5,1736.2 1011.1,1735.8 1011.7,1735.4 1012.3,1735.6 1012.9,1736.1 1013.5,1735.5 1014.1,1735.7 1014.7,1735.4 1015.3,1735.2 1015.9,1734.8 1016.5,1734.7 1017.1,1734.7 1017.7,1735.0 1018.3,1734.9 1018.9,1735.3 1019.5,1735.3 1020.1,1735.1 1020.7,1735.6 1021.3,1736.1 1021.9,1736.4 1022.5,1736.1 1023.1,1736.1 1023.7,1736.5 1024.3,1736.5 1024.9,1737.1 1025.5,1736.5 1026.1,1736.7 1026.7,1736.3 1027.3,1736.0 1027.9,1736.2 1028.5,1735.9 1029.1,1736.2 1029.7,1736.1 1030.3,1735.4 1030.9,1736.2 1031.5,1736.1 1032.1,1736.2 1032.7,1736.2 1033.3,1735.9 1033.9,1736.5 1034.5,1735.3 1035.1,1735.9 1035.7,1735.6 1036.3,1735.3 1036.9,1735.2 1037.5,1735.3 1038.1,1734.9 1038.7,1735.2 1039.3,1735.2 1039.9,1735.2 1040.5,1734.7 1041.1,1735.4 1041.7,1735.4 1042.3,1735.2 1042.9,1735.5 1043.5,1735.5 1044.1,1735.3 1044.7,1736.1 1045.3,1736.0 1045.9,1736.3 1046.5,1736.1 1047.1,1736.5 1047.7,1736.2 1048.3,1735.9 1048.9,1735.3 1049.5,1735.5 1050.1,1735.2 1050.7,1735.1 1051.3,1735.5 1051.9,1735.7 1052.5,1735.6 1053.1,1735.7 1053.7,1735.1 1054.3,1735.4 1054.9,1734.5 1055.5,1734.0 1056.1,1733.6 1056.7,1733.0 1057.3,1732.7 1057.9,1732.1 1058.5,1731.3 1059.1,1730.8 1059.7,1729.8 1060.3,1729.2 1060.9,1729.1 1061.5,1728.9 1062.1,1728.3 1062.7,1727.5 1063.3,1727.4 1063.9,1726.8 1064.5,1726.5 1065.1,1726.3 1065.7,1726.2 1066.3,1726.7 1066.9,1726.6 1067.5,1726.6 1068.1,1726.2 1068.7,1727.2 1069.3,1726.8 1069.9,1727.8 1070.5,1727.1 1071.1,1728.7 1071.7,1729.3 1072.3,1729.5 1072.9,1729.6 1073.5,1729.7 1074.1,1730.5 1074.7,1731.0 1075.3,1731.4 1075.9,1731.4 1076.5,1732.4 1077.1,1732.7 1077.7,1733.2 1078.3,1733.3 1078.9,1733.9 1079.5,1733.8 1080.1,1734.2 1080.7,1734.1 1081.3,1733.9 1081.9,1734.7 1082.5,1734.7 1083.1,1734.6 1083.7,1734.8 1084.3,1734.8 1084.9,1735.2 1085.5,1735.0 1086.1,1735.3 1086.7,1736.1 1087.3,1735.0 1087.9,1735.3 1088.5,1735.8 1089.1,1735.0 1089.7,1735.4 1090.3,1735.2 1090.9,1735.5 1091.5,1735.8 1092.1,1735.9 1092.7,1735.8 1093.3,1735.3 1093.9,1735.2 1094.5,1735.3 1095.1,1735.5 1095.7,1735.2 1096.3,1735.5 1096.9,1735.4 1097.5,1735.8 1098.1,1735.9 1098.7,1734.7 1099.3,1735.2 1099.9,1735.4 1100.5,1735.0 1101.1,1734.4 1101.7,1735.1 1102.3,1735.1 1102.9,1734.9 1103.5,1734.6 1104.1,1734.8 1104.7,1734.6 1105.3,1734.4 1105.9,1734.4 1106.5,1734.1 1107.1,1733.5 1107.7,1732.7 1108.3,1732.0 1108.9,1731.8 1109.5,1730.6 1110.1,1730.2 1110.7,1730.1 1111.3,1729.3 1111.9,1729.0 1112.5,1728.3 1113.1,1727.9 1113.7,1727.4 1114.3,1726.3 1114.9,1725.4 1115.5,1724.9 1116.1,1724.2 1116.7,1723.4 1117.3,1722.8 1117.9,1723.4 1118.5,1723.0 1119.1,1723.6 1119.7,1724.1 1120.3,1724.9 1120.9,1724.9 1121.5,1725.4 1122.1,1726.3 1122.7,1727.3 1123.3,1727.0 1123.9,1727.5 1124.5,1728.2 1125.1,1729.7 1125.7,1730.1 1126.3,1731.4 1126.9,1731.3 1127.5,1731.9 1128.1,1732.5 1128.7,1732.7 1129.3,1733.2 1129.9,1733.8 1130.5,1733.8 1131.1,1733.8 1131.7,1734.2 1132.3,1734.8 1132.9,1734.9 1133.5,1735.3 1134.1,1735.4 1134.7,1735.7 1135.3,1735.9 1135.9,1736.1 1136.5,1736.1 1137.1,1735.6 1137.7,1736.6 1138.3,1736.7 1138.9,1736.2 1139.5,1736.2 1140.1,1735.8 1140.7,1735.8 1141.3,1736.2 1141.9,1735.4 1142.5,1736.1 1143.1,1736.0 1143.7,1735.2 1144.3,1735.9 1144.9,1736.3 1145.5,1735.9 1146.1,1736.1 1146.7,1735.5 1147.3,1736.2 1147.9,1736.1 1148.5,1736.4 1149.1,1735.8 1149.7,1736.3 1150.3,1736.5 1150.9,1736.4 1151.5,1736.6 1152.1,1737.0 1152.7,1736.7 1153.3,1736.4 1153.9,1736.7 1154.5,1736.6 1155.1,1736.5 1155.7,1737.0 1156.3,1736.7 1156.9,1736.5 1157.5,1736.3 1158.1,1736.6 1158.7,1736.7 1159.3,1736.2 1159.9,1736.0 1160.5,1735.3 1161.1,1735.8 1161.7,1735.4 1162.3,1735.9 1162.9,1736.1 1163.5,1735.9 1164.1,1735.6 1164.7,1736.4 1165.3,1736.2 1165.9,1736.1 1166.5,1735.9 1167.1,1736.1 1167.7,1736.6 1168.3,1736.7 1168.9,1737.0 1169.5,1736.1 1170.1,1736.5 1170.7,1736.7 1171.3,1736.2 1171.9,1735.5 1172.5,1735.9 1173.1,1735.5 1173.7,1735.6 1174.3,1735.8 1174.9,1735.8 1175.5,1736.3 1176.1,1736.5 1176.7,1736.3 1177.3,1736.2 1177.9,1736.5 1178.5,1736.1 1179.1,1736.3 1179.7,1736.2 1180.3,1736.5 1180.9,1736.3 1181.5,1737.2 1182.1,1736.5 1182.7,1737.1 1183.3,1737.0 1183.9,1737.1 1184.5,1736.7 1185.1,1737.4 1185.7,1736.9 1186.3,1737.0 1186.9,1737.1 1187.5,1737.3 1188.1,1736.5 1188.7,1737.1 1189.3,1737.2 1189.9,1737.0 1190.5,1737.2 1191.1,1737.2 1191.7,1737.2 1192.3,1736.5 1192.9,1736.3 1193.5,1736.5 1194.1,1736.0 1194.7,1735.7 1195.3,1736.4 1195.9,1736.1 1196.5,1736.0 1197.1,1735.8 1197.7,1736.2 1198.3,1735.5 1198.9,1735.6 1199.5,1735.9 1200.1,1735.6 1200.7,1735.6 1201.3,1736.1 1201.9,1736.3 1202.5,1736.5 1203.1,1736.5 1203.7,1737.0 1204.3,1736.9 1204.9,1737.3 1205.5,1737.0 1206.1,1737.4 1206.7,1737.5 1207.3,1737.3 1207.9,1736.5 1208.5,1736.1 1209.1,1735.7 1209.7,1735.7 1210.3,1735.7 1210.9,1734.9 1211.5,1735.3 1212.1,1735.2 1212.7,1735.2 1213.3,1735.4 1213.9,1736.1 1214.5,1735.2 1215.1,1735.8 1215.7,1734.6 1216.3,1734.3 1216.9,1734.6 1217.5,1734.5 1218.1,1735.0 1218.7,1734.5 1219.3,1734.6 1219.9,1734.3 1220.5,1733.9 1221.1,1734.2 1221.7,1734.5 1222.3,1733.9 1222.9,1733.5 1223.5,1733.1 1224.1,1732.8 1224.7,1733.4 1225.3,1732.8 1225.9,1732.7 1226.5,1732.6 1227.1,1732.9 1227.7,1733.2 1228.3,1733.7 1228.9,1733.8 1229.5,1733.0 1230.1,1733.8 1230.7,1734.6 1231.3,1734.9 1231.9,1735.4 1232.5,1735.7 1233.1,1735.9 1233.7,1735.9 1234.3,1736.3 1234.9,1736.5 1235.5,1736.4 1236.1,1736.4 1236.7,1736.3 1237.3,1736.2 1237.9,1736.2 1238.5,1736.2 1239.1,1736.0 1239.7,1736.1 1240.3,1736.4 1240.9,1736.0 1241.5,1736.4 1242.1,1736.7 1242.7,1737.2 1243.3,1736.6 1243.9,1736.3 1244.5,1736.5 1245.1,1737.1 1245.7,1736.6 1246.3,1737.3 1246.9,1736.6 1247.5,1736.9 1248.1,1737.2 1248.7,1737.4 1249.3,1737.5 1249.9,1736.5 1250.5,1736.7 1251.1,1736.9 1251.7,1736.9 1252.3,1736.7 1252.9,1736.7 1253.5,1736.4 1254.1,1736.7 1254.7,1736.6 1255.3,1736.1 1255.9,1736.5 1256.5,1736.1 1257.1,1735.9 1257.7,1736.3 1258.3,1736.4 1258.9,1736.0 1259.5,1736.0 1260.1,1735.6 1260.7,1735.8 1261.3,1735.3 1261.9,1735.2 1262.5,1735.9 1263.1,1735.6 1263.7,1735.2 1264.3,1735.6 1264.9,1735.7 1265.5,1736.3 1266.1,1736.0 1266.7,1735.8 1267.3,1736.1 1267.9,1735.6 1268.5,1736.3 1269.1,1736.0 1269.7,1736.3 1270.3,1736.7 1270.9,1736.8 1271.5,1736.4 1272.1,1736.2 1272.7,1735.2 1273.3,1735.5 1273.9,1735.8 1274.5,1735.7 1275.1,1735.3 1275.7,1735.1 1276.3,1735.5 1276.9,1734.8 1277.5,1734.9 1278.1,1734.6 1278.7,1734.3 1279.3,1734.9 1279.9,1735.1 1280.5,1734.9 1281.1,1734.3 1281.7,1734.4 1282.3,1733.6 1282.9,1732.7 1283.5,1733.1 1284.1,1733.2 1284.7,1732.3 1285.3,1732.5 1285.9,1732.3 1286.5,1732.1 1287.1,1732.3 1287.7,1731.3 1288.3,1731.2 1288.9,1731.4 1289.5,1731.7 1290.1,1731.5 1290.7,1731.4 1291.3,1731.6 1291.9,1732.4 1292.5,1732.5 1293.1,1732.8 1293.7,1733.0 1294.3,1733.6 1294.9,1733.6 1295.5,1733.6 1296.1,1733.4 1296.7,1733.4 1297.3,1733.5 1297.9,1732.8 1298.5,1733.1 1299.1,1733.1 1299.7,1733.7 1300.3,1734.3 1300.9,1734.3 1301.5,1734.3 1302.1,1734.1 1302.7,1735.2 1303.3,1735.0 1303.9,1735.3 1304.5,1735.1 1305.1,1735.2 1305.7,1735.3 1306.3,1734.7 1306.9,1735.0 1307.5,1734.1 1308.1,1735.2 1308.7,1735.4 1309.3,1735.4 1309.9,1736.0 1310.5,1736.9 1311.1,1736.4 1311.7,1736.4 1312.3,1736.3 1312.9,1736.6 1313.5,1736.4 1314.1,1736.9 1314.7,1736.6 1315.3,1736.8 1315.9,1736.8 1316.5,1736.6 1317.1,1736.3 1317.7,1736.2 1318.3,1735.8 1318.9,1735.9 1319.5,1735.8 1320.1,1735.7 1320.7,1735.6 1321.3,1736.3 1321.9,1735.7 1322.5,1736.1 1323.1,1735.8 1323.7,1735.1 1324.3,1735.4 1324.9,1735.2 1325.5,1735.3 1326.1,1735.4 1326.7,1735.8 1327.3,1734.9 1327.9,1735.1 1328.5,1734.0 1329.1,1733.8 1329.7,1733.6 1330.3,1733.2 1330.9,1732.5 1331.5,1733.0 1332.1,1732.8 1332.7,1733.5 1333.3,1733.7 1333.9,1733.7 1334.5,1734.4 1335.1,1734.5 1335.7,1734.2 1336.3,1735.2 1336.9,1734.5 1337.5,1734.9 1338.1,1734.6 1338.7,1734.3 1339.3,1735.2 1339.9,1735.2 1340.5,1734.6 1341.1,1735.3 1341.7,1735.3 1342.3,1735.4 1342.9,1735.1 1343.5,1735.0 1344.1,1735.4 1344.7,1735.0 1345.3,1735.5 1345.9,1736.0 1346.5,1736.6 1347.1,1736.8 1347.7,1737.0 1348.3,1736.9 1348.9,1736.8 1349.5,1736.8 1350.1,1736.1 1350.7,1735.9 1351.3,1735.9 1351.9,1735.5 1352.5,1735.6 1353.1,1734.8 1353.7,1735.3 1354.3,1735.6 1354.9,1735.9 1355.5,1736.0 1356.1,1735.9 1356.7,1736.4 1357.3,1736.4 1357.9,1736.0 1358.5,1736.3 1359.1,1735.7 1359.7,1736.3 1360.3,1735.7 1360.9,1735.8 1361.5,1736.2 1362.1,1735.8 1362.7,1735.7 1363.3,1736.2 1363.9,1736.9 1364.5,1737.0 1365.1,1736.8 1365.7,1737.1 1366.3,1737.7 1366.9,1737.7 1367.5,1736.5 1368.1,1736.4 1368.7,1736.0 1369.3,1735.1 1369.9,1735.4 1370.5,1735.0 1371.1,1734.4 1371.7,1733.7 1372.3,1733.5 1372.9,1733.4 1373.5,1732.8 1374.1,1732.5 1374.7,1732.3 1375.3,1732.3 1375.9,1732.0 1376.5,1731.3 1377.1,1730.6 1377.7,1730.2 1378.3,1729.6 1378.9,1728.7 1379.5,1728.8 1380.1,1727.8 1380.7,1727.4 1381.3,1726.5 1381.9,1726.0 1382.5,1725.9 1383.1,1725.1 1383.7,1724.7 1384.3,1724.4 1384.9,1724.7 1385.5,1724.9 1386.1,1725.1 1386.7,1724.8 1387.3,1725.3 1387.9,1725.3 1388.5,1726.0 1389.1,1726.3 1389.7,1726.7 1390.3,1727.3 1390.9,1728.2 1391.5,1729.0 1392.1,1729.5 1392.7,1730.5 1393.3,1730.8 1393.9,1731.1 1394.5,1732.0 1395.1,1731.8 1395.7,1732.9 1396.3,1732.6 1396.9,1732.9 1397.5,1733.7 1398.1,1733.1 1398.7,1733.9 1399.3,1733.7 1399.9,1733.9 1400.5,1734.3 1401.1,1734.6 1401.7,1734.4 1402.3,1734.5 1402.9,1734.4 1403.5,1734.1 1404.1,1734.1 1404.7,1734.9 1405.3,1734.8 1405.9,1734.6 1406.5,1734.9 1407.1,1735.3 1407.7,1735.2 1408.3,1735.6 1408.9,1736.0 1409.5,1736.5 1410.1,1736.0 1410.7,1736.3 1411.3,1736.3 1411.9,1736.1 1412.5,1736.1 1413.1,1735.4 1413.7,1735.5 1414.3,1736.1 1414.9,1736.3 1415.5,1735.7 1416.1,1735.4 1416.7,1735.3 1417.3,1735.9 1417.9,1736.2 1418.5,1735.9 1419.1,1735.6 1419.7,1735.9 1420.3,1735.5 1420.9,1735.9 1421.5,1736.3 1422.1,1736.3 1422.7,1736.4 1423.3,1737.5 1423.9,1737.6 1424.5,1737.2 1425.1,1738.4 1425.7,1738.0 1426.3,1737.2 1426.9,1736.9 1427.5,1736.1 1428.1,1736.7 1428.7,1736.1 1429.3,1736.4 1429.9,1736.2 1430.5,1736.2 1431.1,1736.2 1431.7,1736.1 1432.3,1736.7 1432.9,1736.8 1433.5,1736.8 1434.1,1736.3 1434.7,1736.7 1435.3,1737.1 1435.9,1737.2 1436.5,1737.6 1437.1,1736.7 1437.7,1736.8 1438.3,1737.1 1438.9,1736.9 1439.5,1736.7 1440.1,1737.2 1440.7,1737.3 1441.3,1737.0 1441.9,1737.1 1442.5,1737.9 1443.1,1737.4 1443.7,1737.0 1444.3,1737.4 1444.9,1736.5 1445.5,1736.9 1446.1,1736.5 1446.7,1736.3 1447.3,1736.1 1447.9,1736.6 1448.5,1736.0 1449.1,1736.3 1449.7,1736.6 1450.3,1736.7 1450.9,1736.6 1451.5,1736.5 1452.1,1736.2 1452.7,1735.9 1453.3,1736.1 1453.9,1736.6 1454.5,1736.5 1455.1,1736.7 1455.7,1736.1 1456.3,1736.7 1456.9,1736.3 1457.5,1735.6 1458.1,1735.5 1458.7,1735.6 1459.3,1736.3 1459.9,1736.4 1460.5,1735.3 1461.1,1736.4 1461.7,1736.4 1462.3,1735.7 1462.9,1736.1 1463.5,1735.8 1464.1,1736.1 1464.7,1736.4 1465.3,1736.3 1465.9,1736.2 1466.5,1737.3 1467.1,1737.2 1467.7,1736.5 1468.3,1737.2 1468.9,1737.0 1469.5,1736.1 1470.1,1736.6 1470.7,1736.2 1471.3,1736.3 1471.9,1736.5 1472.5,1736.2 1473.1,1736.1 1473.7,1735.8 1474.3,1736.0 1474.9,1735.9 1475.5,1735.9 1476.1,1735.8 1476.7,1734.9 1477.3,1734.9 1478.2,1734.0" stroke-width="2.4"/>
<path d="M216.1,1854.8 216.7,1858.6 217.3,1851.8 217.9,1848.6 218.5,1849.6 219.1,1852.4 219.7,1851.0 220.3,1858.4 220.9,1852.9 221.5,1848.1 222.1,1853.9 222.7,1846.3 223.3,1853.6 223.9,1851.6 224.5,1852.0 225.1,1845.7 225.7,1851.1 226.3,1851.0 226.9,1851.0 227.5,1847.7 228.1,1850.7 228.7,1850.9 229.3,1844.6 229.9,1845.6 230.5,1847.9 231.1,1849.9 231.7,1847.3 232.3,1850.2 232.9,1847.6 233.5,1849.3 234.1,1842.2 234.7,1847.3 235.3,1851.8 235.9,1843.5 236.5,1846.5 237.1,1847.2 237.7,1845.3 238.3,1843.1 238.9,1852.5 239.5,1846.9 240.1,1846.3 240.7,1849.1 241.3,1845.6 241.9,1842.3 242.5,1841.1 243.1,1848.7 243.7,1845.8 244.3,1840.9 244.9,1844.1 245.5,1840.0 246.1,1844.7 246.7,1848.0 247.3,1842.8 247.9,1844.8 248.5,1844.5 249.1,1839.6 249.7,1844.3 250.3,1845.5 250.9,1844.6 251.5,1840.3 252.1,1844.2 252.7,1841.2 253.3,1842.9 253.9,1845.3 254.5,1840.2 255.1,1837.4 255.7,1838.5 256.3,1843.7 256.9,1837.3 257.5,1838.8 258.1,1838.5 258.7,1836.1 259.3,1843.1 259.9,1840.3 260.5,1841.4 261.1,1838.4 261.7,1840.3 262.3,1843.8 262.9,1836.4 263.5,1835.5 264.1,1842.0 264.7,1838.5 265.3,1840.4 265.9,1837.3 266.5,1841.1 267.1,1843.8 267.7,1836.3 268.3,1841.3 268.9,1842.1 269.5,1843.4 270.1,1836.9 270.7,1835.0 271.3,1841.3 271.9,1834.8 272.5,1838.7 273.1,1839.0 273.7,1836.5 274.3,1842.9 274.9,1842.2 275.5,1840.6 276.1,1842.2 276.7,1838.8 277.3,1839.0 277.9,1839.9 278.5,1839.8 279.1,1837.2 279.7,1837.6 280.3,1844.5 280.9,1841.4 281.5,1834.0 282.1,1840.8 282.7,1841.4 283.3,1842.9 283.9,1839.1 284.5,1835.7 285.1,1834.6 285.7,1839.7 286.3,1838.1 286.9,1840.7 287.5,1838.3 288.1,1840.9 288.7,1838.1 289.3,1839.5 289.9,1837.7 290.5,1837.7 291.1,1836.9 291.7,1834.9 292.3,1839.8 292.9,1839.7 293.5,1840.5 294.1,1833.5 294.7,1840.5 295.3,1836.7 295.9,1836.6 296.5,1837.1 297.1,1839.6 297.7,1834.7 298.3,1842.4 298.9,1839.7 299.5,1840.6 300.1,1841.1 300.7,1840.8 301.3,1841.9 301.9,1839.5 302.5,1840.2 303.1,1836.1 303.7,1834.7 304.3,1842.1 304.9,1840.7 305.5,1840.8 306.1,1840.1 306.7,1838.6 307.3,1842.8 307.9,1840.8 308.5,1837.1 309.1,1842.7 309.7,1846.3 310.3,1839.3 310.9,1842.9 311.5,1842.7 312.1,1840.8 312.7,1844.8 313.3,1839.9 313.9,1845.9 314.5,1836.8 315.1,1843.3 315.7,1844.8 316.3,1841.8 316.9,1842.9 317.5,1838.4 318.1,1845.7 318.7,1844.5 319.3,1845.9 319.9,1846.1 320.5,1838.8 321.1,1844.1 321.7,1841.0 322.3,1847.9 322.9,1847.3 323.5,1845.2 324.1,1833.6 324.7,1847.9 325.3,1847.0 325.9,1838.5 326.5,1838.0 327.1,1851.4 327.7,1838.9 328.3,1843.6 328.9,1839.3 329.5,1846.2 330.1,1847.9 330.7,1842.2 331.3,1848.5 331.9,1841.0 332.5,1840.5 333.1,1845.2 333.7,1849.8 334.3,1846.0 334.9,1845.3 335.5,1847.2 336.1,1850.5 336.7,1849.0 337.3,1845.0 337.9,1852.3 338.5,1845.5 339.1,1851.3 339.7,1848.4 340.3,1846.5 340.9,1851.6 341.5,1848.3 342.1,1848.0 342.7,1852.1 343.3,1847.5 343.9,1849.5 344.5,1854.4 345.1,1848.0 345.7,1853.7 346.3,1850.9 346.9,1848.1 347.5,1851.1 348.1,1848.8 348.7,1849.0 349.3,1852.1 349.9,1846.0 350.5,1847.8 351.1,1853.3 351.7,1849.5 352.3,1857.6 352.9,1840.3 353.5,1850.8 354.1,1845.9 354.7,1848.1 355.3,1856.7 355.9,1853.6 356.5,1852.9 357.1,1852.9 357.7,1850.4 358.3,1852.4 358.9,1854.5 359.5,1849.8 360.1,1852.7 360.7,1848.9 361.3,1845.5 361.9,1852.5 362.5,1850.7 363.1,1851.1 363.7,1854.4 364.3,1855.5 364.9,1856.8 365.5,1860.0 366.1,1850.9 366.7,1858.9 367.3,1856.6 367.9,1856.3 368.5,1859.2 369.1,1859.2 369.7,1861.5 370.3,1852.4 370.9,1855.9 371.5,1859.7 372.1,1857.9 372.7,1856.5 373.3,1859.8 373.9,1863.0 374.5,1861.7 375.1,1855.9 375.7,1859.1 376.3,1861.4 376.9,1862.6 377.5,1861.5 378.1,1859.1 378.7,1857.1 379.3,1862.3 379.9,1857.7 380.5,1854.8 381.1,1860.7 381.7,1858.1 382.3,1859.9 382.9,1864.4 383.5,1861.4 384.1,1861.7 384.7,1858.9 385.3,1866.2 385.9,1859.3 386.5,1864.2 387.1,1867.0 387.7,1866.7 388.3,1865.6 388.9,1866.7 389.5,1865.2 390.1,1862.5 390.7,1865.4 391.3,1861.9 391.9,1871.3 392.5,1869.4 393.1,1864.8 393.7,1871.3 394.3,1870.4 394.9,1868.1 395.5,1872.5 396.1,1868.9 396.7,1871.3 397.3,1869.8 397.9,1866.6 398.5,1864.7 399.1,1871.1 399.7,1868.8 400.3,1869.9 400.9,1869.8 401.5,1872.7 402.1,1870.4 402.7,1868.9 403.3,1870.8 403.9,1870.5 404.5,1869.6 405.1,1870.1 405.7,1872.5 406.3,1874.8 406.9,1874.4 407.5,1870.6 408.1,1871.5 408.7,1869.5 409.3,1875.6 409.9,1872.9 410.5,1875.9 411.1,1872.7 411.7,1873.6 412.3,1874.6 412.9,1871.6 413.5,1872.4 414.1,1874.4 414.7,1875.1 415.3,1875.7 415.9,1872.5 416.5,1872.3 417.1,1877.5 417.7,1873.1 418.3,1876.3 418.9,1874.3 419.5,1877.2 420.1,1877.2 420.7,1879.2 421.3,1881.6 421.9,1873.9 422.5,1881.1 423.1,1876.2 423.7,1878.2 424.3,1878.5 424.9,1876.9 425.5,1882.7 426.1,1876.3 426.7,1874.9 427.3,1880.7 427.9,1879.1 428.5,1878.0 429.1,1884.9 429.7,1878.3 430.3,1878.6 430.9,1876.5 431.5,1881.2 432.1,1883.2 432.7,1882.1 433.3,1887.4 433.9,1878.8 434.5,1882.9 435.1,1880.8 435.7,1880.9 436.3,1880.9 436.9,1882.3 437.5,1880.6 438.1,1882.9 438.7,1882.0 439.3,1884.5 439.9,1880.8 440.5,1883.5 441.1,1884.1 441.7,1879.9 442.3,1886.7 442.9,1882.2 443.5,1883.5 444.1,1883.5 444.7,1880.8 445.3,1889.0 445.9,1880.4 446.5,1883.2 447.1,1883.7 447.7,1888.8 448.3,1885.5 448.9,1885.6 449.5,1887.3 450.1,1887.8 450.7,1886.3 451.3,1888.1 451.9,1886.7 452.5,1884.3 453.1,1884.2 453.7,1886.2 454.3,1883.1 454.9,1886.1 455.5,1886.7 456.1,1888.1 456.7,1887.8 457.3,1887.2 457.9,1893.1 458.5,1882.0 459.1,1888.6 459.7,1880.8 460.3,1885.9 460.9,1888.3 461.5,1896.7 462.1,1886.0 462.7,1886.7 463.3,1887.1 463.9,1892.4 464.5,1888.0 465.1,1893.7 465.7,1890.3 466.3,1888.6 466.9,1889.0 467.5,1891.3 468.1,1884.5 468.7,1888.6 469.3,1887.8 469.9,1890.4 470.5,1891.1 471.1,1892.4 471.7,1889.7 472.3,1888.6 472.9,1890.2 473.5,1890.3 474.1,1889.9 474.7,1887.9 475.3,1893.3 475.9,1890.3 476.5,1885.9 477.1,1888.6 477.7,1895.3 478.3,1889.5 478.9,1894.6 479.5,1892.2 480.1,1888.3 480.7,1890.5 481.3,1893.4 481.9,1891.1 482.5,1892.7 483.1,1892.8 483.7,1889.2 484.3,1888.6 484.9,1889.4 485.5,1891.4 486.1,1893.0 486.7,1893.8 487.3,1886.7 487.9,1893.5 488.5,1892.9 489.1,1890.5 489.7,1894.7 490.3,1892.0 490.9,1895.6 491.5,1892.2 492.1,1892.5 492.7,1896.5 493.3,1889.6 493.9,1891.5 494.5,1896.4 495.1,1894.8 495.7,1889.3 496.3,1893.7 496.9,1894.5 497.5,1893.7 498.1,1890.2 498.7,1896.7 499.3,1889.2 499.9,1890.3 500.5,1889.1 501.1,1891.7 501.7,1895.8 502.3,1894.4 502.9,1894.0 503.5,1895.2 504.1,1896.9 504.7,1896.5 505.3,1891.2 505.9,1894.9 506.5,1894.0 507.1,1896.4 507.7,1896.7 508.3,1892.5 508.9,1892.4 509.5,1899.5 510.1,1889.1 510.7,1898.8 511.3,1897.2 511.9,1898.9 512.5,1890.3 513.1,1889.8 513.7,1894.5 514.3,1893.7 514.9,1897.5 515.5,1895.1 516.1,1894.5 516.7,1891.4 517.3,1896.3 517.9,1896.0 518.5,1895.3 519.1,1896.8 519.7,1894.9 520.3,1895.0 520.9,1896.7 521.5,1893.4 522.1,1897.8 522.7,1893.6 523.3,1898.8 523.9,1894.6 524.5,1891.1 525.1,1898.7 525.7,1895.3 526.3,1895.0 526.9,1895.0 527.5,1894.8 528.1,1896.6 528.7,1899.3 529.3,1898.1 529.9,1895.7 530.5,1902.3 531.1,1898.5 531.7,1897.0 532.3,1895.5 532.9,1901.4 533.5,1896.1 534.1,1899.4 534.7,1896.9 535.3,1896.2 535.9,1895.7 536.5,1899.4 537.1,1901.4 537.7,1900.8 538.3,1901.0 538.9,1898.3 539.5,1900.8 540.1,1900.3 540.7,1900.6 541.3,1895.7 541.9,1895.5 542.5,1900.0 543.1,1895.3 543.7,1898.0 544.3,1900.0 544.9,1900.5 545.5,1901.7 546.1,1901.5 546.7,1899.5 547.3,1900.0 547.9,1902.4 548.5,1896.9 549.1,1896.7 549.7,1899.4 550.3,1903.3 550.9,1903.2 551.5,1902.7 552.1,1901.1 552.7,1900.9 553.3,1896.7 553.9,1901.1 554.5,1900.0 555.1,1900.3 555.7,1902.1 556.3,1904.3 556.9,1902.9 557.5,1903.4 558.1,1902.1 558.7,1903.4 559.3,1901.0 559.9,1901.8 560.5,1901.9 561.1,1907.0 561.7,1897.3 562.3,1900.9 562.9,1900.8 563.5,1901.1 564.1,1902.6 564.7,1903.2 565.3,1900.0 565.9,1900.1 566.5,1903.5 567.1,1903.9 567.7,1906.5 568.3,1904.4 568.9,1902.6 569.5,1900.0 570.1,1903.4 570.7,1902.2 571.3,1901.6 571.9,1903.3 572.5,1901.9 573.1,1900.9 573.7,1901.7 574.3,1904.7 574.9,1904.0 575.5,1907.5 576.1,1903.6 576.7,1908.3 577.3,1902.9 577.9,1903.7 578.5,1902.8 579.1,1903.4 579.7,1902.0 580.3,1906.2 580.9,1903.5 581.5,1903.0 582.1,1901.4 582.7,1903.9 583.3,1903.4 583.9,1902.0 584.5,1902.3 585.1,1903.9 585.7,1901.9 586.3,1900.4 586.9,1902.0 587.5,1904.1 588.1,1901.9 588.7,1901.2 589.3,1903.5 589.9,1902.1 590.5,1903.6 591.1,1905.9 591.7,1904.9 592.3,1901.3 592.9,1904.3 593.5,1902.6 594.1,1905.2 594.7,1905.5 595.3,1906.3 595.9,1905.5 596.5,1904.3 597.1,1905.3 597.7,1901.5 598.3,1902.4 598.9,1907.5 599.5,1905.9 600.1,1901.1 600.7,1902.7 601.3,1901.3 601.9,1906.8 602.5,1906.5 603.1,1904.1 603.7,1906.3 604.3,1903.6 604.9,1905.6 605.5,1903.3 606.1,1902.1 606.7,1903.9 607.3,1901.8 607.9,1902.7 608.5,1901.4 609.1,1904.1 609.7,1904.8 610.3,1905.4 610.9,1904.5 611.5,1903.9 612.1,1906.1 612.7,1906.8 613.3,1903.3 613.9,1905.7 614.5,1903.7 615.1,1903.9 615.7,1907.1 616.3,1904.1 616.9,1905.9 617.5,1906.7 618.1,1906.3 618.7,1907.2 619.3,1906.4 619.9,1906.2 620.5,1905.2 621.1,1904.6 621.7,1905.7 622.3,1906.4 622.9,1905.2 623.5,1905.6 624.1,1904.8 624.7,1905.1 625.3,1904.7 625.9,1907.6 626.5,1905.9 627.1,1904.0 627.7,1905.1 628.3,1906.6 628.9,1906.2 629.5,1905.1 630.1,1906.0 630.7,1905.9 631.3,1909.7 631.9,1904.2 632.5,1907.8 633.1,1904.4 633.7,1908.5 634.3,1906.2 634.9,1907.7 635.5,1907.2 636.1,1903.4 636.7,1908.6 637.3,1906.9 637.9,1904.9 638.5,1905.6 639.1,1907.0 639.7,1908.7 640.3,1908.8 640.9,1907.5 641.5,1903.6 642.1,1905.1 642.7,1909.0 643.3,1905.6 643.9,1907.1 644.5,1907.3 645.1,1908.7 645.7,1906.4 646.3,1906.6 646.9,1907.6 647.5,1907.5 648.1,1907.3 648.7,1904.7 649.3,1904.2 649.9,1899.8 650.5,1906.7 651.1,1907.2 651.7,1907.5 652.3,1906.4 652.9,1908.4 653.5,1908.4 654.1,1908.2 654.7,1907.4 655.3,1908.1 655.9,1903.7 656.5,1905.0 657.1,1906.8 657.7,1908.3 658.3,1906.7 658.9,1909.1 659.5,1909.5 660.1,1909.1 660.7,1908.9 661.3,1905.2 661.9,1906.8 662.5,1907.8 663.1,1909.3 663.7,1907.8 664.3,1910.0 664.9,1909.8 665.5,1908.8 666.1,1908.2 666.7,1907.5 667.3,1911.3 667.9,1909.4 668.5,1906.0 669.1,1909.0 669.7,1907.1 670.3,1910.3 670.9,1911.8 671.5,1909.7 672.1,1909.0 672.7,1907.8 673.3,1906.9 673.9,1909.8 674.5,1908.6 675.1,1909.0 675.7,1908.9 676.3,1908.9 676.9,1908.4 677.5,1908.5 678.1,1907.9 678.7,1909.7 679.3,1908.6 679.9,1908.9 680.5,1908.8 681.1,1911.8 681.7,1910.2 682.3,1910.3 682.9,1913.3 683.5,1908.7 684.1,1908.4 684.7,1909.5 685.3,1908.0 685.9,1910.2 686.5,1907.2 687.1,1909.1 687.7,1908.2 688.3,1908.4 688.9,1905.7 689.5,1907.7 690.1,1910.4 690.7,1910.8 691.3,1907.8 691.9,1906.0 692.5,1908.9 693.1,1911.1 693.7,1907.0 694.3,1910.5 694.9,1908.7 695.5,1910.0 696.1,1908.9 696.7,1907.8 697.3,1908.6 697.9,1909.5 698.5,1905.6 699.1,1911.7 699.7,1909.2 700.3,1908.7 700.9,1910.5 701.5,1908.8 702.1,1908.5 702.7,1909.5 703.3,1910.1 703.9,1906.3 704.5,1909.3 705.1,1907.3 705.7,1909.0 706.3,1907.2 706.9,1910.9 707.5,1909.8 708.1,1911.8 708.7,1909.6 709.3,1908.2 709.9,1910.0 710.5,1908.1 711.1,1908.6 711.7,1911.4 712.3,1911.7 712.9,1907.4 713.5,1910.1 714.1,1908.1 714.7,1913.5 715.3,1910.5 715.9,1908.8 716.5,1914.6 717.1,1913.1 717.7,1908.1 718.3,1910.3 718.9,1909.1 719.5,1909.1 720.1,1908.3 720.7,1913.2 721.3,1910.4 721.9,1912.7 722.5,1910.5 723.1,1908.7 723.7,1909.5 724.3,1911.3 724.9,1911.7 725.5,1909.2 726.1,1910.1 726.7,1910.8 727.3,1910.7 727.9,1909.2 728.5,1912.9 729.1,1914.3 729.7,1911.6 730.3,1910.5 730.9,1912.3 731.5,1908.0 732.1,1908.6 732.7,1909.6 733.3,1908.9 733.9,1909.5 734.5,1912.5 735.1,1914.1 735.7,1913.3 736.3,1912.1 736.9,1909.6 737.5,1910.7 738.1,1910.6 738.7,1914.4 739.3,1912.2 739.9,1910.7 740.5,1911.0 741.1,1910.6 741.7,1910.8 742.3,1910.3 742.9,1910.7 743.5,1910.9 744.1,1914.8 744.7,1909.8 745.3,1913.4 745.9,1910.3 746.5,1916.1 747.1,1913.1 747.7,1912.2 748.3,1911.0 748.9,1911.0 749.5,1911.7 750.1,1909.3 750.7,1914.0 751.3,1909.8 751.9,1912.4 752.5,1913.7 753.1,1909.4 753.7,1910.4 754.3,1910.3 754.9,1913.7 755.5,1913.0 756.1,1911.9 756.7,1912.7 757.3,1910.2 757.9,1911.5 758.5,1911.7 759.1,1913.9 759.7,1909.7 760.3,1910.7 760.9,1911.9 761.5,1912.2 762.1,1910.8 762.7,1911.8 763.3,1911.3 763.9,1911.5 764.5,1910.8 765.1,1912.0 765.7,1911.8 766.3,1912.3 766.9,1914.2 767.5,1913.3 768.1,1912.6 768.7,1912.7 769.3,1913.3 769.9,1914.0 770.5,1914.0 771.1,1912.5 771.7,1910.5 772.3,1910.3 772.9,1912.3 773.5,1911.2 774.1,1913.0 774.7,1914.5 775.3,1913.4 775.9,1912.5 776.5,1910.9 777.1,1913.3 777.7,1910.7 778.3,1913.5 778.9,1913.6 779.5,1914.9 780.1,1917.1 780.7,1913.4 781.3,1917.0 781.9,1914.6 782.5,1912.0 783.1,1913.2 783.7,1913.4 784.3,1911.0 784.9,1912.6 785.5,1912.9 786.1,1915.1 786.7,1911.0 787.3,1913.5 787.9,1911.1 788.5,1912.4 789.1,1915.0 789.7,1912.6 790.3,1913.3 790.9,1913.6 791.5,1911.4 792.1,1914.0 792.7,1914.0 793.3,1912.7 793.9,1915.6 794.5,1916.4 795.1,1915.2 795.7,1914.3 796.3,1911.6 796.9,1912.0 797.5,1914.3 798.1,1914.3 798.7,1915.5 799.3,1915.2 799.9,1915.1 800.5,1913.6 801.1,1914.8 801.7,1914.2 802.3,1914.1 802.9,1914.3 803.5,1915.0 804.1,1916.3 804.7,1914.2 805.3,1913.7 805.9,1912.7 806.5,1915.0 807.1,1912.5 807.7,1910.7 808.3,1915.6 808.9,1917.1 809.5,1914.0 810.1,1914.3 810.7,1914.2 811.3,1915.1 811.9,1911.7 812.5,1910.9 813.1,1912.8 813.7,1915.7 814.3,1914.1 814.9,1912.2 815.5,1913.4 816.1,1912.5 816.7,1912.1 817.3,1911.9 817.9,1913.8 818.5,1913.9 819.1,1914.5 819.7,1914.2 820.3,1912.5 820.9,1912.9 821.5,1913.6 822.1,1914.3 822.7,1912.7 823.3,1915.0 823.9,1911.9 824.5,1913.3 825.1,1910.7 825.7,1911.4 826.3,1917.1 826.9,1914.3 827.5,1914.2 828.1,1915.8 828.7,1911.9 829.3,1912.9 829.9,1915.2 830.5,1912.3 831.1,1913.6 831.7,1910.4 832.3,1914.8 832.9,1916.2 833.5,1915.1 834.1,1913.2 834.7,1912.8 835.3,1915.5 835.9,1909.6 836.5,1913.4 837.1,1912.6 837.7,1914.6 838.3,1912.7 838.9,1914.8 839.5,1911.9 840.1,1912.7 840.7,1915.6 841.3,1917.6 841.9,1912.9 842.5,1911.8 843.1,1916.0 843.7,1914.8 844.3,1911.4 844.9,1913.4 845.5,1914.4 846.1,1914.5 846.7,1915.5 847.3,1914.9 847.9,1913.0 848.5,1911.8 849.1,1914.4 849.7,1915.5 850.3,1916.7 850.9,1916.2 851.5,1914.4 852.1,1913.8 852.7,1916.8 853.3,1916.0 853.9,1914.0 854.5,1914.4 855.1,1915.6 855.7,1911.6 856.3,1915.9 856.9,1914.5 857.5,1913.2 858.1,1913.1 858.7,1913.7 859.3,1915.4 859.9,1914.1 860.5,1916.9 861.1,1915.7 861.7,1914.5 862.3,1916.8 862.9,1917.5 863.5,1917.0 864.1,1916.5 864.7,1914.5 865.3,1916.1 865.9,1915.6 866.5,1917.8 867.1,1914.7 867.7,1916.8 868.3,1913.7 868.9,1913.2 869.5,1913.2 870.1,1915.6 870.7,1913.3 871.3,1914.6 871.9,1914.0 872.5,1915.3 873.1,1915.8 873.7,1915.4 874.3,1916.4 874.9,1913.4 875.5,1915.0 876.1,1913.4 876.7,1914.7 877.3,1911.5 877.9,1911.4 878.5,1914.0 879.1,1915.9 879.7,1912.7 880.3,1914.4 880.9,1916.7 881.5,1917.1 882.1,1915.8 882.7,1914.3 883.3,1915.8 883.9,1914.1 884.5,1912.5 885.1,1914.1 885.7,1916.1 886.3,1913.8 886.9,1913.3 887.5,1913.0 888.1,1917.1 888.7,1917.4 889.3,1916.7 889.9,1914.9 890.5,1915.0 891.1,1916.1 891.7,1914.4 892.3,1915.0 892.9,1915.7 893.5,1915.3 894.1,1918.9 894.7,1914.2 895.3,1914.8 895.9,1912.3 896.5,1916.7 897.1,1914.2 897.7,1915.7 898.3,1913.8 898.9,1916.0 899.5,1915.2 900.1,1914.8 900.7,1915.4 901.3,1916.2 901.9,1914.7 902.5,1916.9 903.1,1913.8 903.7,1914.9 904.3,1914.8 904.9,1912.7 905.5,1913.9 906.1,1916.5 906.7,1914.0 907.3,1915.8 907.9,1914.3 908.5,1914.8 909.1,1914.8 909.7,1916.0 910.3,1916.2 910.9,1917.1 911.5,1914.2 912.1,1914.4 912.7,1917.7 913.3,1916.5 913.9,1914.2 914.5,1916.4 915.1,1917.5 915.7,1915.5 916.3,1915.4 916.9,1915.3 917.5,1915.8 918.1,1913.1 918.7,1916.4 919.3,1915.2 919.9,1917.5 920.5,1914.1 921.1,1915.4 921.7,1916.6 922.3,1915.2 922.9,1915.5 923.5,1914.7 924.1,1914.3 924.7,1915.2 925.3,1915.7 925.9,1916.4 926.5,1917.8 927.1,1915.3 927.7,1916.0 928.3,1915.1 928.9,1919.2 929.5,1915.8 930.1,1914.5 930.7,1917.1 931.3,1917.4 931.9,1914.7 932.5,1916.8 933.1,1917.9 933.7,1915.0 934.3,1915.3 934.9,1915.9 935.5,1918.0 936.1,1915.9 936.7,1916.1 937.3,1915.1 937.9,1915.9 938.5,1914.1 939.1,1915.9 939.7,1914.9 940.3,1915.4 940.9,1914.3 941.5,1916.3 942.1,1916.3 942.7,1914.1 943.3,1914.4 943.9,1915.8 944.5,1916.2 945.1,1916.2 945.7,1917.0 946.3,1916.3 946.9,1917.0 947.5,1914.6 948.1,1915.4 948.7,1917.2 949.3,1915.4 949.9,1916.2 950.5,1916.7 951.1,1916.8 951.7,1916.7 952.3,1916.0 952.9,1914.6 953.5,1916.4 954.1,1915.1 954.7,1915.4 955.3,1914.4 955.9,1916.9 956.5,1916.9 957.1,1915.6 957.7,1916.7 958.3,1917.0 958.9,1917.4 959.5,1915.5 960.1,1916.6 960.7,1917.2 961.3,1915.2 961.9,1915.1 962.5,1916.1 963.1,1914.5 963.7,1915.5 964.3,1915.9 964.9,1916.0 965.5,1915.2 966.1,1916.7 966.7,1914.4 967.3,1915.8 967.9,1914.2 968.5,1915.6 969.1,1916.3 969.7,1919.2 970.3,1918.5 970.9,1915.8 971.5,1916.6 972.1,1916.7 972.7,1916.3 973.3,1914.6 973.9,1916.5 974.5,1914.8 975.1,1917.3 975.7,1915.6 976.3,1915.7 976.9,1917.1 977.5,1915.4 978.1,1916.0 978.7,1917.8 979.3,1916.7 979.9,1915.7 980.5,1915.9 981.1,1913.9 981.7,1918.3 982.3,1917.2 982.9,1914.9 983.5,1919.4 984.1,1917.1 984.7,1913.6 985.3,1917.4 985.9,1916.1 986.5,1916.6 987.1,1915.1 987.7,1914.6 988.3,1917.1 988.9,1915.8 989.5,1916.3 990.1,1919.2 990.7,1915.6 991.3,1916.3 991.9,1916.0 992.5,1915.7 993.1,1917.0 993.7,1915.2 994.3,1916.0 994.9,1916.6 995.5,1914.8 996.1,1916.0 996.7,1916.2 997.3,1916.5 997.9,1916.0 998.5,1916.8 999.1,1915.8 999.7,1917.0 1000.3,1917.8 1000.9,1915.3 1001.5,1917.0 1002.1,1914.9 1002.7,1917.8 1003.3,1914.6 1003.9,1918.2 1004.5,1917.7 1005.1,1914.7 1005.7,1917.0 1006.3,1916.7 1006.9,1915.4 1007.5,1917.4 1008.1,1914.8 1008.7,1915.6 1009.3,1916.2 1009.9,1916.1 1010.5,1916.3 1011.1,1918.1 1011.7,1916.8 1012.3,1916.9 1012.9,1915.5 1013.5,1915.7 1014.1,1915.7 1014.7,1915.3 1015.3,1914.6 1015.9,1917.4 1016.5,1917.4 1017.1,1916.1 1017.7,1917.3 1018.3,1917.5 1018.9,1915.6 1019.5,1916.9 1020.1,1913.9 1020.7,1914.3 1021.3,1915.8 1021.9,1916.2 1022.5,1916.6 1023.1,1915.3 1023.7,1916.9 1024.3,1915.8 1024.9,1915.9 1025.5,1916.3 1026.1,1916.5 1026.7,1916.7 1027.3,1917.2 1027.9,1916.4 1028.5,1916.8 1029.1,1915.9 1029.7,1916.8 1030.3,1916.8 1030.9,1917.2 1031.5,1915.8 1032.1,1915.5 1032.7,1916.3 1033.3,1916.4 1033.9,1915.9 1034.5,1916.2 1035.1,1917.6 1035.7,1915.3 1036.3,1916.9 1036.9,1914.7 1037.5,1917.0 1038.1,1916.2 1038.7,1916.0 1039.3,1915.6 1039.9,1916.3 1040.5,1915.3 1041.1,1915.9 1041.7,1914.7 1042.3,1916.0 1042.9,1915.8 1043.5,1917.0 1044.1,1915.9 1044.7,1914.8 1045.3,1916.3 1045.9,1916.7 1046.5,1915.0 1047.1,1916.3 1047.7,1914.6 1048.3,1913.4 1048.9,1916.5 1049.5,1918.0 1050.1,1916.2 1050.7,1916.6 1051.3,1913.9 1051.9,1917.0 1052.5,1916.6 1053.1,1918.8 1053.7,1915.4 1054.3,1916.7 1054.9,1914.3 1055.5,1916.8 1056.1,1915.5 1056.7,1915.7 1057.3,1916.3 1057.9,1915.4 1058.5,1916.0 1059.1,1916.5 1059.7,1918.1 1060.3,1913.9 1060.9,1915.5 1061.5,1915.0 1062.1,1916.3 1062.7,1916.1 1063.3,1914.1 1063.9,1918.1 1064.5,1915.4 1065.1,1918.0 1065.7,1918.3 1066.3,1918.4 1066.9,1917.8 1067.5,1915.8 1068.1,1915.8 1068.7,1917.3 1069.3,1917.8 1069.9,1916.1 1070.5,1916.8 1071.1,1916.6 1071.7,1915.1 1072.3,1915.0 1072.9,1915.8 1073.5,1917.1 1074.1,1914.6 1074.7,1915.4 1075.3,1919.0 1075.9,1916.1 1076.5,1918.9 1077.1,1916.6 1077.7,1917.8 1078.3,1916.8 1078.9,1917.5 1079.5,1917.1 1080.1,1916.9 1080.7,1916.0 1081.3,1914.9 1081.9,1917.2 1082.5,1915.9 1083.1,1915.8 1083.7,1915.5 1084.3,1918.5 1084.9,1916.1 1085.5,1918.8 1086.1,1916.1 1086.7,1916.8 1087.3,1916.2 1087.9,1916.5 1088.5,1916.5 1089.1,1914.4 1089.7,1915.3 1090.3,1915.0 1090.9,1917.3 1091.5,1916.0 1092.1,1915.7 1092.7,1917.2 1093.3,1915.8 1093.9,1915.7 1094.5,1915.9 1095.1,1917.1 1095.7,1917.0 1096.3,1916.0 1096.9,1913.7 1097.5,1916.8 1098.1,1916.2 1098.7,1915.7 1099.3,1918.4 1099.9,1915.4 1100.5,1917.2 1101.1,1916.2 1101.7,1916.8 1102.3,1917.8 1102.9,1915.7 1103.5,1916.0 1104.1,1917.3 1104.7,1916.2 1105.3,1916.2 1105.9,1916.6 1106.5,1915.8 1107.1,1917.2 1107.7,1917.6 1108.3,1915.6 1108.9,1915.4 1109.5,1917.6 1110.1,1919.6 1110.7,1917.0 1111.3,1914.7 1111.9,1916.6 1112.5,1914.6 1113.1,1915.5 1113.7,1915.9 1114.3,1915.9 1114.9,1914.8 1115.5,1917.9 1116.1,1914.8 1116.7,1918.2 1117.3,1917.6 1117.9,1914.5 1118.5,1917.4 1119.1,1916.6 1119.7,1916.0 1120.3,1915.5 1120.9,1916.6 1121.5,1917.7 1122.1,1916.6 1122.7,1917.4 1123.3,1918.3 1123.9,1917.7 1124.5,1915.0 1125.1,1914.2 1125.7,1915.4 1126.3,1917.6 1126.9,1916.2 1127.5,1916.1 1128.1,1914.7 1128.7,1914.7 1129.3,1917.7 1129.9,1917.2 1130.5,1916.2 1131.1,1916.9 1131.7,1915.1 1132.3,1916.7 1132.9,1917.1 1133.5,1917.6 1134.1,1915.5 1134.7,1913.3 1135.3,1916.7 1135.9,1916.1 1136.5,1915.9 1137.1,1916.1 1137.7,1915.6 1138.3,1919.6 1138.9,1916.3 1139.5,1917.0 1140.1,1915.6 1140.7,1917.0 1141.3,1917.6 1141.9,1914.0 1142.5,1914.9 1143.1,1914.3 1143.7,1917.5 1144.3,1916.3 1144.9,1915.5 1145.5,1916.0 1146.1,1918.4 1146.7,1916.3 1147.3,1915.2 1147.9,1916.1 1148.5,1919.7 1149.1,1917.2 1149.7,1919.4 1150.3,1916.6 1150.9,1915.4 1151.5,1916.1 1152.1,1915.6 1152.7,1918.2 1153.3,1915.6 1153.9,1916.7 1154.5,1915.7 1155.1,1916.9 1155.7,1915.7 1156.3,1918.4 1156.9,1916.0 1157.5,1918.4 1158.1,1914.9 1158.7,1917.7 1159.3,1915.3 1159.9,1916.5 1160.5,1916.3 1161.1,1916.3 1161.7,1917.0 1162.3,1915.9 1162.9,1919.5 1163.5,1916.7 1164.1,1915.5 1164.7,1917.4 1165.3,1915.5 1165.9,1917.2 1166.5,1914.8 1167.1,1916.7 1167.7,1917.0 1168.3,1916.7 1168.9,1916.7 1169.5,1916.9 1170.1,1918.5 1170.7,1915.9 1171.3,1917.5 1171.9,1917.6 1172.5,1916.5 1173.1,1917.2 1173.7,1916.7 1174.3,1915.7 1174.9,1914.6 1175.5,1916.1 1176.1,1917.4 1176.7,1917.4 1177.3,1916.7 1177.9,1914.6 1178.5,1918.0 1179.1,1917.7 1179.7,1914.7 1180.3,1917.7 1180.9,1916.9 1181.5,1918.3 1182.1,1916.8 1182.7,1914.9 1183.3,1917.3 1183.9,1913.6 1184.5,1916.7 1185.1,1915.8 1185.7,1914.5 1186.3,1917.7 1186.9,1915.7 1187.5,1917.2 1188.1,1915.7 1188.7,1916.7 1189.3,1915.4 1189.9,1917.7 1190.5,1916.4 1191.1,1916.9 1191.7,1917.8 1192.3,1917.1 1192.9,1915.7 1193.5,1917.3 1194.1,1917.4 1194.7,1916.7 1195.3,1919.1 1195.9,1916.2 1196.5,1916.8 1197.1,1918.2 1197.7,1917.4 1198.3,1918.5 1198.9,1917.6 1199.5,1917.3 1200.1,1916.4 1200.7,1916.7 1201.3,1916.1 1201.9,1917.2 1202.5,1916.1 1203.1,1914.6 1203.7,1916.5 1204.3,1914.3 1204.9,1914.8 1205.5,1916.1 1206.1,1915.8 1206.7,1917.9 1207.3,1916.5 1207.9,1918.3 1208.5,1917.3 1209.1,1916.8 1209.7,1918.7 1210.3,1918.0 1210.9,1917.2 1211.5,1917.8 1212.1,1916.3 1212.7,1917.8 1213.3,1917.6 1213.9,1917.7 1214.5,1917.0 1215.1,1915.6 1215.7,1916.8 1216.3,1916.8 1216.9,1917.2 1217.5,1916.0 1218.1,1918.0 1218.7,1916.7 1219.3,1918.6 1219.9,1914.8 1220.5,1916.2 1221.1,1916.2 1221.7,1917.1 1222.3,1916.1 1222.9,1916.5 1223.5,1916.4 1224.1,1917.2 1224.7,1917.6 1225.3,1914.7 1225.9,1916.8 1226.5,1915.9 1227.1,1918.0 1227.7,1915.0 1228.3,1916.7 1228.9,1918.1 1229.5,1916.9 1230.1,1917.4 1230.7,1918.0 1231.3,1915.2 1231.9,1917.9 1232.5,1915.0 1233.1,1915.8 1233.7,1916.3 1234.3,1915.6 1234.9,1916.3 1235.5,1914.8 1236.1,1915.9 1236.7,1916.9 1237.3,1915.1 1237.9,1916.5 1238.5,1916.8 1239.1,1916.9 1239.7,1919.1 1240.3,1915.7 1240.9,1916.7 1241.5,1914.2 1242.1,1917.1 1242.7,1914.7 1243.3,1915.1 1243.9,1917.1 1244.5,1916.7 1245.1,1915.3 1245.7,1916.3 1246.3,1917.7 1246.9,1914.3 1247.5,1916.8 1248.1,1917.6 1248.7,1916.3 1249.3,1915.8 1249.9,1917.3 1250.5,1915.8 1251.1,1918.0 1251.7,1917.4 1252.3,1916.1 1252.9,1917.2 1253.5,1915.5 1254.1,1917.2 1254.7,1917.7 1255.3,1916.1 1255.9,1917.3 1256.5,1918.1 1257.1,1916.5 1257.7,1917.8 1258.3,1916.2 1258.9,1916.2 1259.5,1914.8 1260.1,1918.1 1260.7,1917.0 1261.3,1916.3 1261.9,1916.2 1262.5,1917.0 1263.1,1916.1 1263.7,1917.9 1264.3,1917.7 1264.9,1916.7 1265.5,1919.1 1266.1,1918.2 1266.7,1918.6 1267.3,1917.9 1267.9,1916.1 1268.5,1917.9 1269.1,1915.8 1269.7,1916.6 1270.3,1917.2 1270.9,1916.0 1271.5,1916.5 1272.1,1915.6 1272.7,1916.9 1273.3,1914.9 1273.9,1917.2 1274.5,1917.4 1275.1,1916.0 1275.7,1915.3 1276.3,1917.8 1276.9,1914.6 1277.5,1916.4 1278.1,1916.4 1278.7,1919.0 1279.3,1916.6 1279.9,1916.9 1280.5,1916.3 1281.1,1915.6 1281.7,1916.9 1282.3,1917.3 1282.9,1917.2 1283.5,1917.6 1284.1,1915.3 1284.7,1917.5 1285.3,1918.2 1285.9,1915.9 1286.5,1915.8 1287.1,1918.3 1287.7,1916.7 1288.3,1917.6 1288.9,1917.4 1289.5,1917.2 1290.1,1917.1 1290.7,1918.4 1291.3,1916.1 1291.9,1917.3 1292.5,1918.9 1293.1,1915.8 1293.7,1915.5 1294.3,1915.9 1294.9,1916.4 1295.5,1916.5 1296.1,1917.9 1296.7,1917.3 1297.3,1917.7 1297.9,1915.4 1298.5,1918.1 1299.1,1917.5 1299.7,1915.1 1300.3,1916.5 1300.9,1918.1 1301.5,1916.0 1302.1,1917.4 1302.7,1917.0 1303.3,1917.8 1303.9,1915.3 1304.5,1915.5 1305.1,1914.9 1305.7,1917.3 1306.3,1916.8 1306.9,1916.9 1307.5,1915.6 1308.1,1917.2 1308.7,1918.6 1309.3,1915.4 1309.9,1917.5 1310.5,1916.8 1311.1,1916.6 1311.7,1915.9 1312.3,1918.2 1312.9,1917.8 1313.5,1918.0 1314.1,1916.7 1314.7,1916.1 1315.3,1916.3 1315.9,1916.4 1316.5,1917.4 1317.1,1915.8 1317.7,1915.0 1318.3,1916.8 1318.9,1918.2 1319.5,1917.3 1320.1,1915.2 1320.7,1915.4 1321.3,1917.1 1321.9,1916.8 1322.5,1917.8 1323.1,1916.5 1323.7,1915.7 1324.3,1917.2 1324.9,1915.4 1325.5,1914.9 1326.1,1917.4 1326.7,1916.8 1327.3,1916.5 1327.9,1915.4 1328.5,1917.1 1329.1,1916.9 1329.7,1918.6 1330.3,1916.0 1330.9,1915.9 1331.5,1916.5 1332.1,1916.4 1332.7,1916.5 1333.3,1914.8 1333.9,1915.7 1334.5,1917.9 1335.1,1916.0 1335.7,1917.8 1336.3,1917.6 1336.9,1916.7 1337.5,1916.8 1338.1,1916.0 1338.7,1916.7 1339.3,1918.1 1339.9,1917.3 1340.5,1918.1 1341.1,1916.0 1341.7,1916.2 1342.3,1918.6 1342.9,1918.6 1343.5,1916.8 1344.1,1916.7 1344.7,1917.8 1345.3,1917.0 1345.9,1917.4 1346.5,1918.1 1347.1,1917.0 1347.7,1916.6 1348.3,1918.1 1348.9,1916.7 1349.5,1916.3 1350.1,1915.3 1350.7,1919.2 1351.3,1917.1 1351.9,1917.5 1352.5,1918.2 1353.1,1917.8 1353.7,1915.6 1354.3,1917.8 1354.9,1918.0 1355.5,1915.7 1356.1,1916.5 1356.7,1918.2 1357.3,1916.5 1357.9,1915.7 1358.5,1917.5 1359.1,1917.3 1359.7,1917.7 1360.3,1915.7 1360.9,1916.7 1361.5,1916.2 1362.1,1915.0 1362.7,1918.1 1363.3,1915.3 1363.9,1916.4 1364.5,1916.7 1365.1,1915.7 1365.7,1916.8 1366.3,1916.8 1366.9,1917.6 1367.5,1916.2 1368.1,1917.9 1368.7,1916.6 1369.3,1916.2 1369.9,1916.8 1370.5,1916.3 1371.1,1914.9 1371.7,1916.8 1372.3,1916.1 1372.9,1919.3 1373.5,1917.6 1374.1,1915.0 1374.7,1916.5 1375.3,1917.1 1375.9,1919.0 1376.5,1916.6 1377.1,1918.1 1377.7,1915.5 1378.3,1916.2 1378.9,1915.2 1379.5,1915.4 1380.1,1917.5 1380.7,1918.0 1381.3,1915.8 1381.9,1915.6 1382.5,1918.4 1383.1,1917.1 1383.7,1914.8 1384.3,1917.6 1384.9,1916.5 1385.5,1916.7 1386.1,1918.0 1386.7,1919.2 1387.3,1919.1 1387.9,1916.2 1388.5,1918.7 1389.1,1917.2 1389.7,1914.7 1390.3,1914.8 1390.9,1916.6 1391.5,1916.9 1392.1,1920.8 1392.7,1916.2 1393.3,1916.4 1393.9,1917.8 1394.5,1915.7 1395.1,1916.8 1395.7,1918.1 1396.3,1916.9 1396.9,1915.3 1397.5,1916.9 1398.1,1918.7 1398.7,1916.7 1399.3,1917.3 1399.9,1919.4 1400.5,1916.9 1401.1,1918.0 1401.7,1918.2 1402.3,1919.0 1402.9,1916.2 1403.5,1919.1 1404.1,1915.8 1404.7,1916.9 1405.3,1918.9 1405.9,1916.6 1406.5,1914.7 1407.1,1916.5 1407.7,1917.8 1408.3,1920.6 1408.9,1916.3 1409.5,1915.6 1410.1,1916.8 1410.7,1918.2 1411.3,1917.3 1411.9,1919.4 1412.5,1916.9 1413.1,1918.5 1413.7,1916.7 1414.3,1918.4 1414.9,1918.9 1415.5,1915.9 1416.1,1917.2 1416.7,1916.8 1417.3,1917.9 1417.9,1916.4 1418.5,1916.0 1419.1,1918.1 1419.7,1917.8 1420.3,1917.4 1420.9,1917.6 1421.5,1917.0 1422.1,1917.2 1422.7,1917.5 1423.3,1917.4 1423.9,1915.0 1424.5,1919.2 1425.1,1917.4 1425.7,1916.2 1426.3,1917.0 1426.9,1917.0 1427.5,1919.7 1428.1,1917.4 1428.7,1917.5 1429.3,1918.9 1429.9,1916.5 1430.5,1919.2 1431.1,1917.7 1431.7,1917.7 1432.3,1917.7 1432.9,1917.5 1433.5,1916.5 1434.1,1915.3 1434.7,1917.8 1435.3,1918.7 1435.9,1916.7 1436.5,1916.9 1437.1,1917.9 1437.7,1918.1 1438.3,1918.6 1438.9,1914.2 1439.5,1916.1 1440.1,1917.4 1440.7,1918.1 1441.3,1917.9 1441.9,1916.7 1442.5,1916.5 1443.1,1916.9 1443.7,1915.2 1444.3,1919.7 1444.9,1920.1 1445.5,1917.2 1446.1,1917.2 1446.7,1916.7 1447.3,1915.1 1447.9,1917.9 1448.5,1917.4 1449.1,1917.9 1449.7,1918.7 1450.3,1916.7 1450.9,1917.9 1451.5,1916.9 1452.1,1915.2 1452.7,1915.8 1453.3,1916.7 1453.9,1916.5 1454.5,1917.4 1455.1,1916.6 1455.7,1916.6 1456.3,1917.7 1456.9,1917.3 1457.5,1919.1 1458.1,1917.6 1458.7,1916.9 1459.3,1916.4 1459.9,1918.3 1460.5,1917.2 1461.1,1915.6 1461.7,1917.9 1462.3,1917.5 1462.9,1918.2 1463.5,1918.0 1464.1,1916.0 1464.7,1918.2 1465.3,1915.9 1465.9,1916.7 1466.5,1916.4 1467.1,1916.3 1467.7,1915.7 1468.3,1915.6 1468.9,1918.1 1469.5,1913.6 1470.1,1915.9 1470.7,1917.9 1471.3,1915.5 1471.9,1916.6 1472.5,1916.2 1473.1,1915.9 1473.7,1917.3 1474.3,1918.1 1474.9,1914.9 1475.5,1917.9 1476.1,1916.9 1476.7,1915.9 1477.3,1916.4 1478.2,1916.7" stroke-width="2.2"/>
</g>
<g fill="none" stroke="#000" stroke-width="5.9" stroke-linecap="round" stroke-linejoin="round">
<rect x="215.9" y="102.4" width="1262.1" height="1884.5"/>
<line x1="215.9" y1="1986.9" x2="215.9" y2="2015.65"/>
<line x1="373.7" y1="1986.9" x2="373.7" y2="2001.5500000000002"/>
<line x1="531.4" y1="1986.9" x2="531.4" y2="2015.65"/>
<line x1="689.2" y1="1986.9" x2="689.2" y2="2001.5500000000002"/>
<line x1="846.9" y1="1986.9" x2="846.9" y2="2015.65"/>
<line x1="1004.7" y1="1986.9" x2="1004.7" y2="2001.5500000000002"/>
<line x1="1162.5" y1="1986.9" x2="1162.5" y2="2015.65"/>
<line x1="1320.2" y1="1986.9" x2="1320.2" y2="2001.5500000000002"/>
<line x1="1478.0" y1="1986.9" x2="1478.0" y2="2015.65"/>
</g>
<g fill="#000" stroke="none">
<path d="M274.4,286.2 278.9,302.0 293.6,302.0 281.7,311.8 286.3,327.6 274.4,317.8 262.5,327.6 267.1,311.8 255.2,302.0 269.9,302.0Z"/>
<path d="M417.1,413.2 L431.5,437.6 L445.9,413.2Z"/>
<rect x="451.2" y="391.1" width="20.8" height="21.7"/>
<path d="M482.0,383.3 486.5,399.3 501.2,399.3 489.3,409.3 493.9,425.3 482.0,415.4 470.1,425.3 474.7,409.3 462.8,399.3 477.5,399.3Z"/>
<rect x="599.1" y="407.8" width="21.0" height="21.2"/>
<path d="M617.3,429.0 L629.2,400.6 L641.1,429.0Z"/>
<ellipse cx="649.8" cy="406.6" rx="12.9" ry="14.6"/>
<ellipse cx="660.3" cy="351.5" rx="14.5" ry="14.6"/>
<ellipse cx="685.9" cy="338.5" rx="14.9" ry="14.6"/>
<ellipse cx="713.5" cy="127.4" rx="12.7" ry="14.6"/>
<ellipse cx="794.4" cy="283.4" rx="12.6" ry="14.5"/>
<ellipse cx="894.0" cy="408.3" rx="15.2" ry="12.4"/>
<ellipse cx="957.4" cy="414.4" rx="14.6" ry="14.6"/>
<ellipse cx="1023.6" cy="419.0" rx="12.5" ry="15.0"/>
<ellipse cx="1314.1" cy="422.9" rx="15.1" ry="15.1"/>
<ellipse cx="1394.5" cy="422.9" rx="14.7" ry="15.1"/>
<path d="M1394.0,348.5 1398.5,364.7 1413.0,364.7 1401.3,374.7 1405.8,390.9 1394.0,380.9 1382.2,390.9 1386.7,374.7 1375.0,364.7 1389.5,364.7Z"/>
<ellipse cx="898.0" cy="575.5" rx="14.9" ry="14.5"/>
<ellipse cx="957.4" cy="581.4" rx="14.6" ry="12.6"/>
<ellipse cx="1019.1" cy="588.0" rx="13.0" ry="15.0"/>
<ellipse cx="1314.0" cy="585.6" rx="15.2" ry="12.5"/>
<ellipse cx="1394.6" cy="585.6" rx="14.5" ry="12.5"/>
<path d="M276.9,776.1 281.9,790.6 298.2,790.6 285.1,799.6 290.1,814.1 276.9,805.1 263.7,814.1 268.7,799.6 255.5,790.6 271.9,790.6Z"/>
<path d="M417.2,1063.2 L429.6,1092.0 L442.1,1063.2Z"/>
<rect x="446.2" y="1076.2" width="25.8" height="20.6"/>
<path d="M484.1,1045.9 489.1,1060.5 505.5,1060.5 492.3,1069.4 497.3,1084.0 484.1,1075.0 470.9,1084.0 475.9,1069.4 462.8,1060.5 479.1,1060.5Z"/>
<path d="M577.9,1042.2 582.8,1056.7 598.6,1056.7 585.8,1065.6 590.7,1080.1 577.9,1071.2 565.1,1080.1 570.0,1065.6 557.2,1056.7 573.0,1056.7Z"/>
<rect x="599.1" y="1084.0" width="21.0" height="25.8"/>
<path d="M613.4,1088.8 L627.2,1063.5 L641.1,1088.8Z"/>
<path d="M726.0,1024.9 730.9,1039.4 746.8,1039.4 733.9,1048.3 738.9,1062.8 726.0,1053.9 713.1,1062.8 718.1,1048.3 705.2,1039.4 721.1,1039.4Z"/>
<path d="M934.1,1063.2 939.0,1079.2 954.9,1079.2 942.0,1089.0 947.0,1105.0 934.1,1095.1 921.2,1105.0 926.2,1089.0 913.3,1079.2 929.2,1079.2Z"/>
<path d="M999.8,1063.2 1004.2,1079.2 1018.4,1079.2 1006.9,1089.0 1011.3,1105.0 999.8,1095.1 988.3,1105.0 992.7,1089.0 981.2,1079.2 995.4,1079.2Z"/>
<path d="M1069.9,1063.2 1074.8,1079.2 1090.6,1079.2 1077.8,1089.0 1082.7,1105.0 1069.9,1095.1 1057.1,1105.0 1062.0,1089.0 1049.2,1079.2 1065.0,1079.2Z"/>
<path d="M1122.8,1058.9 1127.2,1073.4 1141.5,1073.4 1130.0,1082.3 1134.4,1096.8 1122.8,1087.9 1111.2,1096.8 1115.6,1082.3 1104.0,1073.4 1118.4,1073.4Z"/>
<rect x="1281.9" y="1088.8" width="25.1" height="21.0"/>
<path d="M1390.1,1066.9 1394.5,1083.1 1408.8,1083.1 1397.3,1093.2 1401.7,1109.4 1390.1,1099.4 1378.5,1109.4 1382.9,1093.2 1371.3,1083.1 1385.7,1083.1Z"/>
<path d="M696.5,1175.1 L711.7,1159.6 L726.9000000000001,1175.1 L711.7,1190.6Z"/>
<path d="M276.9,1355.5 281.9,1369.7 298.2,1369.7 285.1,1378.4 290.1,1392.6 276.9,1383.8 263.7,1392.6 268.7,1378.4 255.5,1369.7 271.9,1369.7Z"/>
<rect x="446.2" y="1676.2" width="25.8" height="20.6"/>
<path d="M484.1,1663.2 489.1,1679.2 505.5,1679.2 492.3,1689.0 497.3,1705.0 484.1,1695.1 470.9,1705.0 475.9,1689.0 462.8,1679.2 479.1,1679.2Z"/>
<path d="M577.9,1659.3 582.8,1673.6 598.5,1673.6 585.8,1682.5 590.6,1696.8 577.9,1687.9 565.2,1696.8 570.0,1682.5 557.3,1673.6 573.0,1673.6Z"/>
<rect x="594.7" y="1684.0" width="21.3" height="21.0"/>
<path d="M616.5,1713.7 L628.8,1689.4 L641.1,1713.7Z"/>
<path d="M726.0,1637.8 730.9,1652.3 746.8,1652.3 733.9,1661.3 738.9,1675.8 726.0,1666.8 713.1,1675.8 718.1,1661.3 705.2,1652.3 721.1,1652.3Z"/>
<path d="M934.1,1675.7 939.0,1690.2 954.9,1690.2 942.0,1699.2 947.0,1713.7 934.1,1704.7 921.2,1713.7 926.2,1699.2 913.3,1690.2 929.2,1690.2Z"/>
<path d="M999.8,1675.7 1004.2,1690.2 1018.4,1690.2 1006.9,1699.2 1011.3,1713.7 999.8,1704.7 988.3,1713.7 992.7,1699.2 981.2,1690.2 995.4,1690.2Z"/>
<path d="M1069.9,1675.7 1074.8,1690.2 1090.6,1690.2 1077.8,1699.2 1082.7,1713.7 1069.9,1704.7 1057.1,1713.7 1062.0,1699.2 1049.2,1690.2 1065.0,1690.2Z"/>
<path d="M1122.8,1666.9 1127.2,1683.3 1141.5,1683.3 1130.0,1693.4 1134.4,1709.8 1122.8,1699.7 1111.2,1709.8 1115.6,1693.4 1104.0,1683.3 1118.4,1683.3Z"/>
<rect x="1281.9" y="1700.9" width="25.1" height="20.8"/>
<path d="M1390.1,1680.1 1394.5,1694.6 1408.8,1694.6 1397.3,1703.5 1401.7,1718.0 1390.1,1709.1 1378.5,1718.0 1382.9,1703.5 1371.3,1694.6 1385.7,1694.6Z"/>
<path d="M1638.6,141.9 1643.6,156.4 1659.9,156.4 1646.7,165.4 1651.8,179.9 1638.6,170.9 1625.4,179.9 1630.5,165.4 1617.3,156.4 1633.6,156.4Z"/>
<ellipse cx="1638.4" cy="283.3" rx="12.5" ry="14.7"/>
<path d="M1625.6,382.8 L1638.6,369.1 L1651.6,382.8 L1638.6,396.5Z"/>
<rect x="1625.8" y="484.0" width="25.1" height="21.0"/>
<path d="M1625.8,607.0 L1638.3,582.5 L1650.9,607.0Z"/>
<path d="M1625.8,712.8 L1638.3,737.6 L1650.9,712.8Z"/>
</g>
<g fill="#000" stroke="#000" stroke-width="0.9" stroke-linejoin="round" font-family="&quot;Liberation Sans&quot;, sans-serif">
<text transform="translate(215.9 2110.9) scale(1 1.02)" font-size="97" text-anchor="middle">20</text>
<text transform="translate(531.4 2110.9) scale(1 1.02)" font-size="97" text-anchor="middle">30</text>
<text transform="translate(846.9 2110.9) scale(1 1.02)" font-size="97" text-anchor="middle">40</text>
<text transform="translate(1162.5 2110.9) scale(1 1.02)" font-size="97" text-anchor="middle">50</text>
<text transform="translate(1478.0 2110.9) scale(1 1.02)" font-size="97" text-anchor="middle">60</text>
<text transform="translate(846.5 2239.8)" font-size="97.8" text-anchor="middle">2theta (degree)</text>
<text transform="translate(126.1 1107.3) rotate(-90)" font-size="97.2" text-anchor="middle">Intensity (a.u.)</text>
<text transform="translate(228.6 520.7) scale(1 1.03)" font-size="64.6">(a) <tspan x="94.6">MNW/m-SiC</tspan></text>
<text transform="translate(232.2 695.0) scale(1 1.03)" font-size="64.6">(b) <tspan x="94.7">m-SiC</tspan></text>
<text transform="translate(233.3 1181.9) scale(1 1.03)" font-size="64.6">(c) <tspan x="91.5">MNW/n-SiC</tspan></text>
<text transform="translate(230.1 1313.6) scale(1 1.03)" font-size="64.6">(d) <tspan x="96.1">n-SiC</tspan></text>
<text transform="translate(228.6 1796.0) scale(1 1.03)" font-size="64.6">(e) <tspan x="94.5">MNW/SiO</tspan><tspan x="382.0" dy="25.2" font-size="40">2</tspan></text>
<text transform="translate(228.5 1927.6) scale(1 1.03)" font-size="64.6">(f) <tspan x="78.2">SiO</tspan><tspan x="185.0" dy="26.2" font-size="40">2</tspan></text>
<text transform="translate(1693.9 191.9)" font-size="56" stroke-width="0.3" font-family="&quot;DejaVu Sans&quot;, sans-serif">α-cristobalite</text>
<text transform="translate(1692.6 309.1) scale(1 1.04)" font-size="67" letter-spacing="1.2">α-SiC</text>
<text transform="translate(1692.6 416.2) scale(1 1.04)" font-size="67" letter-spacing="0.5">β-SiC</text>
<text transform="translate(1691.5 527.5) scale(1 1.04)" font-size="67"><tspan letter-spacing="-2.5">Na</tspan><tspan x="84.4" dy="11.9" font-size="45">2</tspan><tspan x="110.9" dy="-11.9">WO</tspan><tspan x="224.0" dy="11.9" font-size="45">4</tspan></text>
<text transform="translate(1692.5 629.0) scale(1 1.04)" font-size="67">Mn<tspan x="87.7" dy="12.1" font-size="45.5">2</tspan><tspan x="113.8" dy="-12.1">O</tspan><tspan x="164.9" dy="12.1" font-size="45.5">3</tspan></text>
<text transform="translate(1694.8 741.7) scale(1 1.03)" font-size="66.0">Graphite</text>
</g>
</svg>
</body>
</html>
